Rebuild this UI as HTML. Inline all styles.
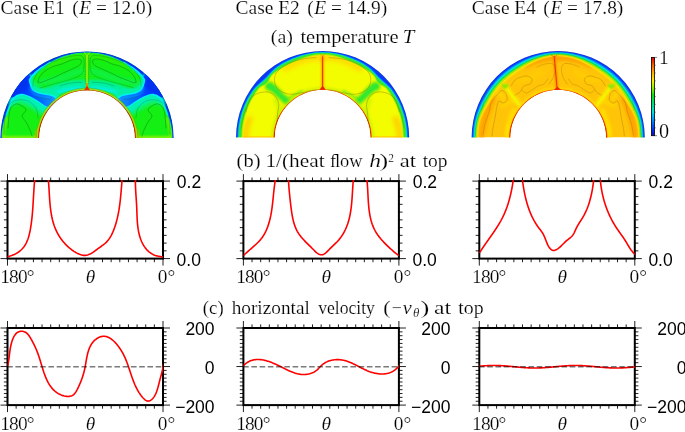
<!DOCTYPE html>
<html><head><meta charset="utf-8"><title>Convection cases</title>
<style>
html,body{margin:0;padding:0;background:#fff;width:685px;height:432px;overflow:hidden;}
svg{display:block;}
text{font-family:"Liberation Serif",serif;fill:#000;stroke:#fff;stroke-width:0.18px;}
text.sans{font-family:"Liberation Sans",sans-serif;stroke:none;}
</style></head>
<body>
<svg width="685" height="432" viewBox="0 0 685 432"><g style="will-change:transform">
<rect width="685" height="432" fill="#fff"/>
<defs><filter id="b05" filterUnits="userSpaceOnUse" x="0" y="0" width="685" height="432"><feGaussianBlur stdDeviation="0.50"/></filter><filter id="b08" filterUnits="userSpaceOnUse" x="0" y="0" width="685" height="432"><feGaussianBlur stdDeviation="0.80"/></filter><filter id="b10" filterUnits="userSpaceOnUse" x="0" y="0" width="685" height="432"><feGaussianBlur stdDeviation="1.00"/></filter><filter id="b12" filterUnits="userSpaceOnUse" x="0" y="0" width="685" height="432"><feGaussianBlur stdDeviation="1.20"/></filter><filter id="b15" filterUnits="userSpaceOnUse" x="0" y="0" width="685" height="432"><feGaussianBlur stdDeviation="1.50"/></filter><filter id="b20" filterUnits="userSpaceOnUse" x="0" y="0" width="685" height="432"><feGaussianBlur stdDeviation="2.00"/></filter></defs><clipPath id="ca0"><path d="M0.40 138.00 A86.60 86.60 0 0 1 173.60 138.00 L134.80 138.00 A47.80 47.80 0 0 0 39.20 138.00 Z"/></clipPath><g clip-path="url(#ca0)"><path d="M0.40 138.00 A86.60 86.60 0 0 1 173.60 138.00 L134.80 138.00 A47.80 47.80 0 0 0 39.20 138.00 Z" fill="#14f014"/><path d="M48.00 92.00 C49.33 91.50 53.33 89.92 56.00 89.00 C58.67 88.08 61.33 87.17 64.00 86.50 C66.67 85.83 69.33 85.33 72.00 85.00 C74.67 84.67 78.00 84.58 80.00 84.50 C82.00 84.42 83.33 84.50 84.00 84.50" fill="none" stroke="#00f0a0" stroke-width="9.00" stroke-linecap="round" stroke-linejoin="round" filter="url(#b15)"/><path d="M126.00 92.00 C124.67 91.50 120.67 89.92 118.00 89.00 C115.33 88.08 112.67 87.17 110.00 86.50 C107.33 85.83 104.67 85.33 102.00 85.00 C99.33 84.67 96.00 84.58 94.00 84.50 C92.00 84.42 90.67 84.50 90.00 84.50" fill="none" stroke="#00f0a0" stroke-width="9.00" stroke-linecap="round" stroke-linejoin="round" filter="url(#b15)"/><path d="M36.00 84.00 C37.33 83.67 41.00 82.67 44.00 82.00 C47.00 81.33 50.67 80.83 54.00 80.00 C57.33 79.17 60.67 78.17 64.00 77.00 C67.33 75.83 71.00 74.00 74.00 73.00 C77.00 72.00 80.67 71.33 82.00 71.00" fill="none" stroke="#08f060" stroke-width="5.00" stroke-linecap="round" stroke-linejoin="round" filter="url(#b20)" opacity="0.80"/><path d="M138.00 84.00 C136.67 83.67 133.00 82.67 130.00 82.00 C127.00 81.33 123.33 80.83 120.00 80.00 C116.67 79.17 113.33 78.17 110.00 77.00 C106.67 75.83 103.00 74.00 100.00 73.00 C97.00 72.00 93.33 71.33 92.00 71.00" fill="none" stroke="#08f060" stroke-width="5.00" stroke-linecap="round" stroke-linejoin="round" filter="url(#b20)" opacity="0.80"/><path d="M52.00 96.50 C53.00 95.83 55.67 93.58 58.00 92.50 C60.33 91.42 63.33 90.62 66.00 90.00 C68.67 89.38 71.33 89.05 74.00 88.80 C76.67 88.55 80.67 88.55 82.00 88.50" fill="none" stroke="#00f0e0" stroke-width="4.00" stroke-linecap="round" stroke-linejoin="round" filter="url(#b10)"/><path d="M122.00 96.50 C121.00 95.83 118.33 93.58 116.00 92.50 C113.67 91.42 110.67 90.62 108.00 90.00 C105.33 89.38 102.67 89.05 100.00 88.80 C97.33 88.55 93.33 88.55 92.00 88.50" fill="none" stroke="#00f0e0" stroke-width="4.00" stroke-linecap="round" stroke-linejoin="round" filter="url(#b10)"/><g filter="url(#b05)"><path d="M-2.60 138.00 L-2.57 135.65 L-2.48 133.31 L-2.32 130.97 L-2.11 128.63 L-1.83 126.30 L-1.50 123.98 L-1.10 121.67 L-0.64 119.37 L-0.12 117.08 L0.45 114.81 L1.09 112.55 L1.79 110.31 L2.54 108.09 L3.35 105.89 L4.22 103.71 L5.15 101.56 L6.13 99.43 L7.17 97.32 L8.26 95.25 L9.40 93.20 L10.60 91.18 L11.86 89.20 L13.16 87.25 L14.51 85.33 L15.92 83.45 L17.37 81.61 L18.87 79.81 L20.41 78.05 L22.01 76.32 L23.64 74.64 L25.32 73.01 L27.05 71.41 L28.81 69.87 L30.61 68.37 L32.45 66.92 L34.33 65.51 L36.25 64.16 L38.20 62.86 L40.18 61.60 L42.20 60.40 L44.25 59.26 L46.32 58.17 L48.43 57.13 L50.56 56.15 L52.71 55.22 L54.89 54.35 L57.09 53.54 L59.31 52.79 L61.55 52.09 L63.81 51.45 L66.08 50.88 L68.37 50.36 L70.67 49.90 L72.98 49.50 L75.30 49.17 L77.63 48.89 L79.97 48.68 L82.31 48.52 L84.65 48.43 L87.00 48.40 L89.35 48.43 L91.69 48.52 L94.03 48.68 L96.37 48.89 L98.70 49.17 L101.02 49.50 L103.33 49.90 L105.63 50.36 L107.92 50.88 L110.19 51.45 L112.45 52.09 L114.69 52.79 L116.91 53.54 L119.11 54.35 L121.29 55.22 L123.44 56.15 L125.57 57.13 L127.68 58.17 L129.75 59.26 L131.80 60.40 L133.82 61.60 L135.80 62.86 L137.75 64.16 L139.67 65.51 L141.55 66.92 L143.39 68.37 L145.19 69.87 L146.95 71.41 L148.68 73.01 L150.36 74.64 L151.99 76.32 L153.59 78.05 L155.13 79.81 L156.63 81.61 L158.08 83.45 L159.49 85.33 L160.84 87.25 L162.14 89.20 L163.40 91.18 L164.60 93.20 L165.74 95.25 L166.83 97.32 L167.87 99.43 L168.85 101.56 L169.78 103.71 L170.65 105.89 L171.46 108.09 L172.21 110.31 L172.91 112.55 L173.55 114.81 L174.12 117.08 L174.64 119.37 L175.10 121.67 L175.50 123.98 L175.83 126.30 L176.11 128.63 L176.32 130.97 L176.48 133.31 L176.57 135.65 L176.60 138.00 L171.80 138.00 L171.77 135.78 L171.68 133.56 L171.54 131.35 L171.28 129.14 L170.93 126.95 L170.47 124.78 L169.93 122.63 L169.31 120.50 L168.62 118.40 L167.88 116.33 L167.08 114.28 L166.24 112.25 L165.37 110.25 L164.48 108.26 L163.57 106.29 L162.65 104.32 L161.72 102.36 L160.75 100.42 L159.73 98.51 L158.64 96.64 L157.49 94.80 L156.28 93.01 L155.00 91.27 L153.65 89.58 L152.24 87.94 L150.77 86.36 L149.26 84.82 L147.72 83.33 L146.16 81.86 L144.60 80.40 L143.03 78.95 L141.48 77.50 L139.92 76.04 L138.36 74.58 L136.78 73.13 L135.16 71.71 L133.51 70.32 L131.83 68.97 L130.11 67.65 L128.36 66.37 L126.56 65.14 L124.72 63.96 L122.85 62.83 L120.95 61.75 L119.01 60.72 L117.04 59.74 L115.04 58.82 L113.01 57.94 L110.95 57.13 L108.87 56.38 L106.76 55.69 L104.63 55.07 L102.47 54.53 L100.30 54.06 L98.10 53.67 L95.89 53.37 L93.68 53.16 L91.45 53.02 L89.23 52.93 L87.00 52.90 L84.77 52.93 L82.55 53.02 L80.32 53.16 L78.11 53.37 L75.90 53.67 L73.70 54.06 L71.53 54.53 L69.37 55.07 L67.24 55.69 L65.13 56.38 L63.05 57.13 L60.99 57.94 L58.96 58.82 L56.96 59.74 L54.99 60.72 L53.05 61.75 L51.15 62.83 L49.28 63.96 L47.44 65.14 L45.64 66.37 L43.89 67.65 L42.17 68.97 L40.49 70.32 L38.84 71.71 L37.22 73.13 L35.64 74.58 L34.08 76.04 L32.52 77.50 L30.97 78.95 L29.40 80.40 L27.84 81.86 L26.28 83.33 L24.74 84.82 L23.23 86.36 L21.76 87.94 L20.35 89.58 L19.00 91.27 L17.72 93.01 L16.51 94.80 L15.36 96.64 L14.27 98.51 L13.25 100.42 L12.28 102.36 L11.35 104.32 L10.43 106.29 L9.52 108.26 L8.63 110.25 L7.76 112.25 L6.92 114.28 L6.12 116.33 L5.38 118.40 L4.69 120.50 L4.07 122.63 L3.53 124.78 L3.07 126.95 L2.72 129.14 L2.46 131.35 L2.32 133.56 L2.23 135.78 L2.20 138.00 Z" fill="#10f0a0"/><path d="M-2.60 138.00 L-2.57 135.65 L-2.48 133.31 L-2.32 130.97 L-2.11 128.63 L-1.83 126.30 L-1.50 123.98 L-1.10 121.67 L-0.64 119.37 L-0.12 117.08 L0.45 114.81 L1.09 112.55 L1.79 110.31 L2.54 108.09 L3.35 105.89 L4.22 103.71 L5.15 101.56 L6.13 99.43 L7.17 97.32 L8.26 95.25 L9.40 93.20 L10.60 91.18 L11.86 89.20 L13.16 87.25 L14.51 85.33 L15.92 83.45 L17.37 81.61 L18.87 79.81 L20.41 78.05 L22.01 76.32 L23.64 74.64 L25.32 73.01 L27.05 71.41 L28.81 69.87 L30.61 68.37 L32.45 66.92 L34.33 65.51 L36.25 64.16 L38.20 62.86 L40.18 61.60 L42.20 60.40 L44.25 59.26 L46.32 58.17 L48.43 57.13 L50.56 56.15 L52.71 55.22 L54.89 54.35 L57.09 53.54 L59.31 52.79 L61.55 52.09 L63.81 51.45 L66.08 50.88 L68.37 50.36 L70.67 49.90 L72.98 49.50 L75.30 49.17 L77.63 48.89 L79.97 48.68 L82.31 48.52 L84.65 48.43 L87.00 48.40 L89.35 48.43 L91.69 48.52 L94.03 48.68 L96.37 48.89 L98.70 49.17 L101.02 49.50 L103.33 49.90 L105.63 50.36 L107.92 50.88 L110.19 51.45 L112.45 52.09 L114.69 52.79 L116.91 53.54 L119.11 54.35 L121.29 55.22 L123.44 56.15 L125.57 57.13 L127.68 58.17 L129.75 59.26 L131.80 60.40 L133.82 61.60 L135.80 62.86 L137.75 64.16 L139.67 65.51 L141.55 66.92 L143.39 68.37 L145.19 69.87 L146.95 71.41 L148.68 73.01 L150.36 74.64 L151.99 76.32 L153.59 78.05 L155.13 79.81 L156.63 81.61 L158.08 83.45 L159.49 85.33 L160.84 87.25 L162.14 89.20 L163.40 91.18 L164.60 93.20 L165.74 95.25 L166.83 97.32 L167.87 99.43 L168.85 101.56 L169.78 103.71 L170.65 105.89 L171.46 108.09 L172.21 110.31 L172.91 112.55 L173.55 114.81 L174.12 117.08 L174.64 119.37 L175.10 121.67 L175.50 123.98 L175.83 126.30 L176.11 128.63 L176.32 130.97 L176.48 133.31 L176.57 135.65 L176.60 138.00 L171.98 138.00 L171.95 135.78 L171.86 133.55 L171.72 131.33 L171.47 129.12 L171.12 126.93 L170.68 124.75 L170.15 122.59 L169.55 120.45 L168.88 118.34 L168.15 116.26 L167.37 114.19 L166.55 112.15 L165.70 110.13 L164.81 108.13 L163.91 106.14 L162.99 104.17 L162.07 102.20 L161.09 100.25 L160.06 98.33 L158.98 96.45 L157.83 94.60 L156.61 92.79 L155.33 91.04 L153.99 89.33 L152.59 87.67 L151.13 86.07 L149.62 84.52 L148.09 83.00 L146.53 81.51 L144.96 80.04 L143.39 78.58 L141.82 77.11 L140.25 75.65 L138.67 74.19 L137.07 72.75 L135.44 71.33 L133.77 69.95 L132.06 68.61 L130.33 67.30 L128.55 66.03 L126.74 64.82 L124.88 63.65 L123.00 62.53 L121.08 61.47 L119.12 60.45 L117.14 59.48 L115.13 58.57 L113.09 57.71 L111.02 56.91 L108.93 56.17 L106.81 55.50 L104.67 54.89 L102.50 54.36 L100.32 53.90 L98.12 53.52 L95.91 53.22 L93.69 53.01 L91.46 52.87 L89.23 52.78 L87.00 52.75 L84.77 52.78 L82.54 52.87 L80.31 53.01 L78.09 53.22 L75.88 53.52 L73.68 53.90 L71.50 54.36 L69.33 54.89 L67.19 55.50 L65.07 56.17 L62.98 56.91 L60.91 57.71 L58.87 58.57 L56.86 59.48 L54.88 60.45 L52.92 61.47 L51.00 62.53 L49.12 63.65 L47.26 64.82 L45.45 66.03 L43.67 67.30 L41.94 68.61 L40.23 69.95 L38.56 71.33 L36.93 72.75 L35.33 74.19 L33.75 75.65 L32.18 77.11 L30.61 78.58 L29.04 80.04 L27.47 81.51 L25.91 83.00 L24.38 84.52 L22.87 86.07 L21.41 87.67 L20.01 89.33 L18.67 91.04 L17.39 92.79 L16.17 94.60 L15.02 96.45 L13.94 98.33 L12.91 100.25 L11.93 102.20 L11.01 104.17 L10.09 106.14 L9.19 108.13 L8.30 110.13 L7.45 112.15 L6.63 114.19 L5.85 116.26 L5.12 118.34 L4.45 120.45 L3.85 122.59 L3.32 124.75 L2.88 126.93 L2.53 129.12 L2.28 131.33 L2.14 133.55 L2.05 135.78 L2.02 138.00 Z" fill="#00e0f0"/><path d="M-2.60 138.00 L-2.57 135.65 L-2.48 133.31 L-2.32 130.97 L-2.11 128.63 L-1.83 126.30 L-1.50 123.98 L-1.10 121.67 L-0.64 119.37 L-0.12 117.08 L0.45 114.81 L1.09 112.55 L1.79 110.31 L2.54 108.09 L3.35 105.89 L4.22 103.71 L5.15 101.56 L6.13 99.43 L7.17 97.32 L8.26 95.25 L9.40 93.20 L10.60 91.18 L11.86 89.20 L13.16 87.25 L14.51 85.33 L15.92 83.45 L17.37 81.61 L18.87 79.81 L20.41 78.05 L22.01 76.32 L23.64 74.64 L25.32 73.01 L27.05 71.41 L28.81 69.87 L30.61 68.37 L32.45 66.92 L34.33 65.51 L36.25 64.16 L38.20 62.86 L40.18 61.60 L42.20 60.40 L44.25 59.26 L46.32 58.17 L48.43 57.13 L50.56 56.15 L52.71 55.22 L54.89 54.35 L57.09 53.54 L59.31 52.79 L61.55 52.09 L63.81 51.45 L66.08 50.88 L68.37 50.36 L70.67 49.90 L72.98 49.50 L75.30 49.17 L77.63 48.89 L79.97 48.68 L82.31 48.52 L84.65 48.43 L87.00 48.40 L89.35 48.43 L91.69 48.52 L94.03 48.68 L96.37 48.89 L98.70 49.17 L101.02 49.50 L103.33 49.90 L105.63 50.36 L107.92 50.88 L110.19 51.45 L112.45 52.09 L114.69 52.79 L116.91 53.54 L119.11 54.35 L121.29 55.22 L123.44 56.15 L125.57 57.13 L127.68 58.17 L129.75 59.26 L131.80 60.40 L133.82 61.60 L135.80 62.86 L137.75 64.16 L139.67 65.51 L141.55 66.92 L143.39 68.37 L145.19 69.87 L146.95 71.41 L148.68 73.01 L150.36 74.64 L151.99 76.32 L153.59 78.05 L155.13 79.81 L156.63 81.61 L158.08 83.45 L159.49 85.33 L160.84 87.25 L162.14 89.20 L163.40 91.18 L164.60 93.20 L165.74 95.25 L166.83 97.32 L167.87 99.43 L168.85 101.56 L169.78 103.71 L170.65 105.89 L171.46 108.09 L172.21 110.31 L172.91 112.55 L173.55 114.81 L174.12 117.08 L174.64 119.37 L175.10 121.67 L175.50 123.98 L175.83 126.30 L176.11 128.63 L176.32 130.97 L176.48 133.31 L176.57 135.65 L176.60 138.00 L172.25 138.00 L172.22 135.77 L172.13 133.54 L171.98 131.31 L171.74 129.09 L171.41 126.89 L170.99 124.70 L170.49 122.53 L169.91 120.38 L169.27 118.25 L168.57 116.14 L167.82 114.06 L167.02 112.00 L166.19 109.96 L165.32 107.94 L164.43 105.93 L163.51 103.93 L162.58 101.95 L161.60 99.99 L160.57 98.05 L159.48 96.15 L158.33 94.29 L157.11 92.47 L155.84 90.69 L154.50 88.96 L153.11 87.28 L151.66 85.64 L150.16 84.06 L148.63 82.51 L147.08 80.99 L145.51 79.49 L143.93 78.01 L142.34 76.53 L140.75 75.07 L139.14 73.61 L137.51 72.17 L135.85 70.77 L134.15 69.40 L132.42 68.07 L130.65 66.77 L128.84 65.53 L127.00 64.33 L125.12 63.18 L123.21 62.08 L121.27 61.04 L119.29 60.04 L117.29 59.10 L115.26 58.20 L113.20 57.37 L111.12 56.59 L109.01 55.87 L106.88 55.21 L104.72 54.63 L102.55 54.11 L100.36 53.66 L98.15 53.29 L95.93 53.00 L93.71 52.79 L91.47 52.64 L89.24 52.55 L87.00 52.53 L84.76 52.55 L82.53 52.64 L80.29 52.79 L78.07 53.00 L75.85 53.29 L73.64 53.66 L71.45 54.11 L69.28 54.63 L67.12 55.21 L64.99 55.87 L62.88 56.59 L60.80 57.37 L58.74 58.20 L56.71 59.10 L54.71 60.04 L52.73 61.04 L50.79 62.08 L48.88 63.18 L47.00 64.33 L45.16 65.53 L43.35 66.77 L41.58 68.07 L39.85 69.40 L38.15 70.77 L36.49 72.17 L34.86 73.61 L33.25 75.07 L31.66 76.53 L30.07 78.01 L28.49 79.49 L26.92 80.99 L25.37 82.51 L23.84 84.06 L22.34 85.64 L20.89 87.28 L19.50 88.96 L18.16 90.69 L16.89 92.47 L15.67 94.29 L14.52 96.15 L13.43 98.05 L12.40 99.99 L11.42 101.95 L10.49 103.93 L9.57 105.93 L8.68 107.94 L7.81 109.96 L6.98 112.00 L6.18 114.06 L5.43 116.14 L4.73 118.25 L4.09 120.38 L3.51 122.53 L3.01 124.70 L2.59 126.89 L2.26 129.09 L2.02 131.31 L1.87 133.54 L1.78 135.77 L1.75 138.00 Z" fill="#0068ff"/><path d="M-2.60 138.00 L-2.57 135.65 L-2.48 133.31 L-2.32 130.97 L-2.11 128.63 L-1.83 126.30 L-1.50 123.98 L-1.10 121.67 L-0.64 119.37 L-0.12 117.08 L0.45 114.81 L1.09 112.55 L1.79 110.31 L2.54 108.09 L3.35 105.89 L4.22 103.71 L5.15 101.56 L6.13 99.43 L7.17 97.32 L8.26 95.25 L9.40 93.20 L10.60 91.18 L11.86 89.20 L13.16 87.25 L14.51 85.33 L15.92 83.45 L17.37 81.61 L18.87 79.81 L20.41 78.05 L22.01 76.32 L23.64 74.64 L25.32 73.01 L27.05 71.41 L28.81 69.87 L30.61 68.37 L32.45 66.92 L34.33 65.51 L36.25 64.16 L38.20 62.86 L40.18 61.60 L42.20 60.40 L44.25 59.26 L46.32 58.17 L48.43 57.13 L50.56 56.15 L52.71 55.22 L54.89 54.35 L57.09 53.54 L59.31 52.79 L61.55 52.09 L63.81 51.45 L66.08 50.88 L68.37 50.36 L70.67 49.90 L72.98 49.50 L75.30 49.17 L77.63 48.89 L79.97 48.68 L82.31 48.52 L84.65 48.43 L87.00 48.40 L89.35 48.43 L91.69 48.52 L94.03 48.68 L96.37 48.89 L98.70 49.17 L101.02 49.50 L103.33 49.90 L105.63 50.36 L107.92 50.88 L110.19 51.45 L112.45 52.09 L114.69 52.79 L116.91 53.54 L119.11 54.35 L121.29 55.22 L123.44 56.15 L125.57 57.13 L127.68 58.17 L129.75 59.26 L131.80 60.40 L133.82 61.60 L135.80 62.86 L137.75 64.16 L139.67 65.51 L141.55 66.92 L143.39 68.37 L145.19 69.87 L146.95 71.41 L148.68 73.01 L150.36 74.64 L151.99 76.32 L153.59 78.05 L155.13 79.81 L156.63 81.61 L158.08 83.45 L159.49 85.33 L160.84 87.25 L162.14 89.20 L163.40 91.18 L164.60 93.20 L165.74 95.25 L166.83 97.32 L167.87 99.43 L168.85 101.56 L169.78 103.71 L170.65 105.89 L171.46 108.09 L172.21 110.31 L172.91 112.55 L173.55 114.81 L174.12 117.08 L174.64 119.37 L175.10 121.67 L175.50 123.98 L175.83 126.30 L176.11 128.63 L176.32 130.97 L176.48 133.31 L176.57 135.65 L176.60 138.00 L172.48 138.00 L172.45 135.76 L172.37 133.53 L172.22 131.29 L171.98 129.07 L171.66 126.85 L171.26 124.66 L170.77 122.47 L170.22 120.31 L169.61 118.17 L168.93 116.05 L168.20 113.95 L167.43 111.87 L166.61 109.81 L165.76 107.77 L164.87 105.74 L163.96 103.73 L163.03 101.74 L162.05 99.76 L161.01 97.82 L159.92 95.90 L158.76 94.02 L157.55 92.18 L156.28 90.39 L154.95 88.63 L153.56 86.93 L152.11 85.27 L150.63 83.66 L149.10 82.08 L147.55 80.54 L145.98 79.02 L144.39 77.52 L142.80 76.03 L141.18 74.56 L139.55 73.10 L137.89 71.67 L136.20 70.28 L134.48 68.92 L132.72 67.60 L130.92 66.32 L129.09 65.09 L127.23 63.91 L125.33 62.77 L123.40 61.69 L121.43 60.66 L119.44 59.69 L117.42 58.76 L115.37 57.89 L113.30 57.07 L111.20 56.31 L109.08 55.61 L106.93 54.97 L104.77 54.39 L102.59 53.89 L100.39 53.45 L98.18 53.09 L95.95 52.80 L93.72 52.59 L91.48 52.45 L89.24 52.36 L87.00 52.33 L84.76 52.36 L82.52 52.45 L80.28 52.59 L78.05 52.80 L75.82 53.09 L73.61 53.45 L71.41 53.89 L69.23 54.39 L67.07 54.97 L64.92 55.61 L62.80 56.31 L60.70 57.07 L58.63 57.89 L56.58 58.76 L54.56 59.69 L52.57 60.66 L50.60 61.69 L48.67 62.77 L46.77 63.91 L44.91 65.09 L43.08 66.32 L41.28 67.60 L39.52 68.92 L37.80 70.28 L36.11 71.67 L34.45 73.10 L32.82 74.56 L31.20 76.03 L29.61 77.52 L28.02 79.02 L26.45 80.54 L24.90 82.08 L23.37 83.66 L21.89 85.27 L20.44 86.93 L19.05 88.63 L17.72 90.39 L16.45 92.18 L15.24 94.02 L14.08 95.90 L12.99 97.82 L11.95 99.76 L10.97 101.74 L10.04 103.73 L9.13 105.74 L8.24 107.77 L7.39 109.81 L6.57 111.87 L5.80 113.95 L5.07 116.05 L4.39 118.17 L3.78 120.31 L3.23 122.47 L2.74 124.66 L2.34 126.85 L2.02 129.07 L1.78 131.29 L1.63 133.53 L1.55 135.76 L1.52 138.00 Z" fill="#0030f0"/></g><path d="M29.60 77.50 C29.77 78.30 30.10 80.73 30.60 82.30 C31.10 83.87 31.53 85.67 32.60 86.90 C33.67 88.13 35.27 88.98 37.00 89.70 C38.73 90.42 41.00 90.78 43.00 91.20 C45.00 91.62 47.17 91.78 49.00 92.20 C50.83 92.62 52.58 92.90 54.00 93.70 C55.42 94.50 56.92 96.45 57.50 97.00" fill="none" stroke="#00f0a8" stroke-width="6.00" stroke-linecap="round" stroke-linejoin="round" filter="url(#b12)"/><path d="M144.40 77.50 C144.23 78.30 143.90 80.73 143.40 82.30 C142.90 83.87 142.47 85.67 141.40 86.90 C140.33 88.13 138.73 88.98 137.00 89.70 C135.27 90.42 133.00 90.78 131.00 91.20 C129.00 91.62 126.83 91.78 125.00 92.20 C123.17 92.62 121.42 92.90 120.00 93.70 C118.58 94.50 117.08 96.45 116.50 97.00" fill="none" stroke="#00f0a8" stroke-width="6.00" stroke-linecap="round" stroke-linejoin="round" filter="url(#b12)"/><path d="M11.64 104.12 C12.79 103.61 16.36 101.37 18.50 101.10 C20.64 100.83 22.50 101.80 24.50 102.50 C26.50 103.20 28.50 104.23 30.50 105.30 C32.50 106.37 34.50 107.63 36.50 108.90 C38.50 110.17 40.58 111.93 42.50 112.90 C44.42 113.87 47.08 114.40 48.00 114.70" fill="none" stroke="#10f070" stroke-width="6.00" stroke-linecap="round" stroke-linejoin="round" filter="url(#b15)" opacity="0.90"/><path d="M162.36 104.12 C161.21 103.61 157.64 101.37 155.50 101.10 C153.36 100.83 151.50 101.80 149.50 102.50 C147.50 103.20 145.50 104.23 143.50 105.30 C141.50 106.37 139.50 107.63 137.50 108.90 C135.50 110.17 133.42 111.93 131.50 112.90 C129.58 113.87 126.92 114.40 126.00 114.70" fill="none" stroke="#10f070" stroke-width="6.00" stroke-linecap="round" stroke-linejoin="round" filter="url(#b15)" opacity="0.90"/><path d="M12.64 100.42 C13.79 99.91 17.36 97.67 19.50 97.40 C21.64 97.13 23.50 98.10 25.50 98.80 C27.50 99.50 29.50 100.53 31.50 101.60 C33.50 102.67 35.50 103.93 37.50 105.20 C39.50 106.47 41.58 108.23 43.50 109.20 C45.42 110.17 48.08 110.70 49.00 111.00" fill="none" stroke="#00f0b8" stroke-width="6.00" stroke-linecap="round" stroke-linejoin="round" filter="url(#b12)"/><path d="M161.36 100.42 C160.21 99.91 156.64 97.67 154.50 97.40 C152.36 97.13 150.50 98.10 148.50 98.80 C146.50 99.50 144.50 100.53 142.50 101.60 C140.50 102.67 138.50 103.93 136.50 105.20 C134.50 106.47 132.42 108.23 130.50 109.20 C128.58 110.17 125.92 110.70 125.00 111.00" fill="none" stroke="#00f0b8" stroke-width="6.00" stroke-linecap="round" stroke-linejoin="round" filter="url(#b12)"/><linearGradient id="g1bL" gradientUnits="userSpaceOnUse" x1="12.00" y1="0" x2="56.00" y2="0"><stop offset="0.000" stop-color="#0030f0"/><stop offset="0.350" stop-color="#0040ff"/><stop offset="0.650" stop-color="#0068ff"/><stop offset="1.000" stop-color="#1898ff"/></linearGradient><linearGradient id="g1bR" gradientUnits="userSpaceOnUse" x1="162.00" y1="0" x2="118.00" y2="0"><stop offset="0.000" stop-color="#0030f0"/><stop offset="0.350" stop-color="#0040ff"/><stop offset="0.650" stop-color="#0068ff"/><stop offset="1.000" stop-color="#1898ff"/></linearGradient><path d="M26.25 68.11 L30.94 77.88 L29.60 80.00 L30.60 84.80 L32.60 89.40 L37.00 92.20 L43.00 93.70 L49.00 94.70 L54.00 96.20 L57.50 99.50 L56.00 104.00 L50.50 108.20 L45.00 106.40 L39.00 102.40 L33.00 98.80 L27.00 96.00 L21.00 94.60 L14.14 97.62 L4.49 95.96 Z" fill="url(#g1bL)" filter="url(#b05)"/><path d="M147.75 68.11 L143.06 77.88 L144.40 80.00 L143.40 84.80 L141.40 89.40 L137.00 92.20 L131.00 93.70 L125.00 94.70 L120.00 96.20 L116.50 99.50 L118.00 104.00 L123.50 108.20 L129.00 106.40 L135.00 102.40 L141.00 98.80 L147.00 96.00 L153.00 94.60 L159.86 97.62 L169.51 95.96 Z" fill="url(#g1bR)" filter="url(#b05)"/><path d="M10.00 88.00 L20.00 78.00 L27.00 76.00 L29.00 84.00 L26.00 90.00 L18.00 92.00 Z" fill="#0030f0" filter="url(#b12)"/><path d="M164.00 88.00 L154.00 78.00 L147.00 76.00 L145.00 84.00 L148.00 90.00 L156.00 92.00 Z" fill="#0030f0" filter="url(#b12)"/><path d="M50.18 62.50 C48.51 63.52 42.97 66.65 40.20 68.61 C37.42 70.57 35.06 72.72 33.52 74.27 C31.98 75.81 31.59 76.93 30.94 77.88 C30.29 78.84 29.66 78.85 29.60 80.00 C29.54 81.15 30.10 83.23 30.60 84.80 C31.10 86.37 31.53 88.17 32.60 89.40 C33.67 90.63 35.27 91.48 37.00 92.20 C38.73 92.92 41.00 93.28 43.00 93.70 C45.00 94.12 47.17 94.28 49.00 94.70 C50.83 95.12 52.58 95.40 54.00 96.20 C55.42 97.00 56.92 98.95 57.50 99.50" fill="none" stroke="#00f0f0" stroke-width="1.60" stroke-linecap="round" stroke-linejoin="round" filter="url(#b05)"/><path d="M123.82 62.50 C125.49 63.52 131.03 66.65 133.80 68.61 C136.58 70.57 138.94 72.72 140.48 74.27 C142.02 75.81 142.41 76.93 143.06 77.88 C143.71 78.84 144.34 78.85 144.40 80.00 C144.46 81.15 143.90 83.23 143.40 84.80 C142.90 86.37 142.47 88.17 141.40 89.40 C140.33 90.63 138.73 91.48 137.00 92.20 C135.27 92.92 133.00 93.28 131.00 93.70 C129.00 94.12 126.83 94.28 125.00 94.70 C123.17 95.12 121.42 95.40 120.00 96.20 C118.58 97.00 117.08 98.95 116.50 99.50" fill="none" stroke="#00f0f0" stroke-width="1.60" stroke-linecap="round" stroke-linejoin="round" filter="url(#b05)"/><path d="M6.25 114.85 C6.95 113.02 9.13 106.79 10.44 103.92 C11.76 101.04 12.38 99.17 14.14 97.62 C15.90 96.06 18.86 94.87 21.00 94.60 C23.14 94.33 25.00 95.30 27.00 96.00 C29.00 96.70 31.00 97.73 33.00 98.80 C35.00 99.87 37.00 101.13 39.00 102.40 C41.00 103.67 43.08 105.43 45.00 106.40 C46.92 107.37 49.58 107.90 50.50 108.20" fill="none" stroke="#00f0f0" stroke-width="1.60" stroke-linecap="round" stroke-linejoin="round" filter="url(#b05)"/><path d="M167.75 114.85 C167.05 113.02 164.87 106.79 163.56 103.92 C162.24 101.04 161.62 99.17 159.86 97.62 C158.10 96.06 155.14 94.87 153.00 94.60 C150.86 94.33 149.00 95.30 147.00 96.00 C145.00 96.70 143.00 97.73 141.00 98.80 C139.00 99.87 137.00 101.13 135.00 102.40 C133.00 103.67 130.92 105.43 129.00 106.40 C127.08 107.37 124.42 107.90 123.50 108.20" fill="none" stroke="#00f0f0" stroke-width="1.60" stroke-linecap="round" stroke-linejoin="round" filter="url(#b05)"/><path d="M30.80 87.80 C31.13 88.57 31.73 91.17 32.80 92.40 C33.87 93.63 35.47 94.48 37.20 95.20 C38.93 95.92 41.20 96.28 43.20 96.70 C45.20 97.12 48.20 97.53 49.20 97.70" fill="none" stroke="#00b0ff" stroke-width="1.60" stroke-linecap="round" stroke-linejoin="round" filter="url(#b08)" opacity="0.70"/><path d="M143.20 87.80 C142.87 88.57 142.27 91.17 141.20 92.40 C140.13 93.63 138.53 94.48 136.80 95.20 C135.07 95.92 132.80 96.28 130.80 96.70 C128.80 97.12 125.80 97.53 124.80 97.70" fill="none" stroke="#00b0ff" stroke-width="1.60" stroke-linecap="round" stroke-linejoin="round" filter="url(#b08)" opacity="0.70"/><path d="M3.40 137.56 C3.47 136.67 3.53 134.27 3.80 132.18 C4.07 130.09 4.50 127.37 5.02 125.02 C5.55 122.66 6.63 119.20 6.95 118.04" fill="none" stroke="#80f000" stroke-width="2.20" stroke-linecap="round" stroke-linejoin="round" filter="url(#b10)" opacity="0.90"/><path d="M170.60 137.56 C170.53 136.67 170.47 134.27 170.20 132.18 C169.93 130.09 169.50 127.37 168.98 125.02 C168.45 122.66 167.37 119.20 167.05 118.04" fill="none" stroke="#80f000" stroke-width="2.20" stroke-linecap="round" stroke-linejoin="round" filter="url(#b10)" opacity="0.90"/><path d="M3.00 137.40H37.00" stroke="#c8f000" stroke-width="1.6" filter="url(#b08)"/><path d="M137.00 137.40H171.00" stroke="#c8f000" stroke-width="1.6" filter="url(#b08)"/><path d="M36.50 137.74 C36.52 137.19 36.49 135.74 36.62 134.48 C36.76 133.21 37.20 130.86 37.32 130.13" fill="none" stroke="#ffa000" stroke-width="2.50" stroke-linecap="round" stroke-linejoin="round" filter="url(#b10)" opacity="0.90"/><path d="M137.50 137.74 C137.48 137.19 137.51 135.74 137.38 134.48 C137.24 133.21 136.80 130.86 136.68 130.13" fill="none" stroke="#ffa000" stroke-width="2.50" stroke-linecap="round" stroke-linejoin="round" filter="url(#b10)" opacity="0.90"/><path d="M37.00 139.00 A50.00 50.00 0 0 1 137.00 139.00" fill="none" stroke="#a0f000" stroke-width="2.00" opacity="0.80" filter="url(#b05)"/><path d="M37.90 139.00 A49.10 49.10 0 0 1 136.10 139.00" fill="none" stroke="#f0a000" stroke-width="1.00"/><path d="M38.70 139.00 A48.30 48.30 0 0 1 135.30 139.00" fill="none" stroke="#c82000" stroke-width="1.20"/><path d="M36.00 139.00 A51.00 51.00 0 0 1 138.00 139.00" fill="none" stroke="#206010" stroke-width="0.50" opacity="0.50"/><path d="M48.74 66.04 C50.89 65.04 57.19 61.60 61.66 60.01 C66.13 58.42 71.32 57.22 75.55 56.50 C79.77 55.78 85.09 55.83 87.00 55.70" fill="none" stroke="#38f000" stroke-width="4.00" stroke-linecap="round" stroke-linejoin="round" filter="url(#b15)" opacity="0.80"/><path d="M125.26 66.04 C123.11 65.04 116.81 61.60 112.34 60.01 C107.87 58.42 102.68 57.22 98.45 56.50 C94.23 55.78 88.91 55.83 87.00 55.70" fill="none" stroke="#38f000" stroke-width="4.00" stroke-linecap="round" stroke-linejoin="round" filter="url(#b15)" opacity="0.80"/><path d="M87.00 88.20V53.90" stroke="#70f000" stroke-width="1.8" filter="url(#b08)"/><path d="M87.00 84.20V55.40" stroke="#d8f000" stroke-width="0.8" filter="url(#b05)"/><path d="M84.50 52.40L87.00 56.40L89.50 52.40" stroke="#a0f000" stroke-width="0.8" fill="none"/><path d="M87.00 90.20V83.20" stroke="#ff8000" stroke-width="1.6" filter="url(#b05)"/><path d="M83.80 90.70 L87.00 85.70 L90.20 90.70 Z" fill="#f02000" filter="url(#b05)"/><path d="M85.30 84.20V54.40 M88.70 84.20V54.40" stroke="#205a10" stroke-width="0.6" stroke-dasharray="1.5 0.8" opacity="0.6"/><path d="M38.00 82.00 C38.25 81.17 38.33 78.83 39.50 77.00 C40.67 75.17 42.75 72.75 45.00 71.00 C47.25 69.25 50.17 67.67 53.00 66.50 C55.83 65.33 59.17 65.00 62.00 64.00 C64.83 63.00 67.33 61.33 70.00 60.50 C72.67 59.67 76.08 58.92 78.00 59.00 C79.92 59.08 81.33 59.92 81.50 61.00 C81.67 62.08 80.75 64.08 79.00 65.50 C77.25 66.92 73.83 68.17 71.00 69.50 C68.17 70.83 64.83 72.17 62.00 73.50 C59.17 74.83 56.67 76.33 54.00 77.50 C51.33 78.67 48.33 79.62 46.00 80.50 C43.67 81.38 41.33 82.55 40.00 82.80 C38.67 83.05 38.33 82.13 38.00 82.00" fill="none" stroke="#0a5a0a" stroke-width="0.60" stroke-linecap="round" stroke-linejoin="round" opacity="0.60"/><path d="M136.00 82.00 C135.75 81.17 135.67 78.83 134.50 77.00 C133.33 75.17 131.25 72.75 129.00 71.00 C126.75 69.25 123.83 67.67 121.00 66.50 C118.17 65.33 114.83 65.00 112.00 64.00 C109.17 63.00 106.67 61.33 104.00 60.50 C101.33 59.67 97.92 58.92 96.00 59.00 C94.08 59.08 92.67 59.92 92.50 61.00 C92.33 62.08 93.25 64.08 95.00 65.50 C96.75 66.92 100.17 68.17 103.00 69.50 C105.83 70.83 109.17 72.17 112.00 73.50 C114.83 74.83 117.33 76.33 120.00 77.50 C122.67 78.67 125.67 79.62 128.00 80.50 C130.33 81.38 132.67 82.55 134.00 82.80 C135.33 83.05 135.67 82.13 136.00 82.00" fill="none" stroke="#0a5a0a" stroke-width="0.60" stroke-linecap="round" stroke-linejoin="round" opacity="0.60"/><path d="M33.00 86.00 C33.17 84.83 32.67 81.83 34.00 79.00 C35.33 76.17 37.83 71.83 41.00 69.00 C44.17 66.17 48.83 63.92 53.00 62.00 C57.17 60.08 61.83 58.58 66.00 57.50 C70.17 56.42 75.08 55.42 78.00 55.50 C80.92 55.58 82.58 55.58 83.50 58.00 C84.42 60.42 84.25 67.00 83.50 70.00 C82.75 73.00 81.75 74.25 79.00 76.00 C76.25 77.75 71.50 79.08 67.00 80.50 C62.50 81.92 56.50 83.25 52.00 84.50 C47.50 85.75 42.00 87.42 40.00 88.00" fill="none" stroke="#0a5a0a" stroke-width="0.50" stroke-linecap="round" stroke-linejoin="round" opacity="0.45"/><path d="M141.00 86.00 C140.83 84.83 141.33 81.83 140.00 79.00 C138.67 76.17 136.17 71.83 133.00 69.00 C129.83 66.17 125.17 63.92 121.00 62.00 C116.83 60.08 112.17 58.58 108.00 57.50 C103.83 56.42 98.92 55.42 96.00 55.50 C93.08 55.58 91.42 55.58 90.50 58.00 C89.58 60.42 89.75 67.00 90.50 70.00 C91.25 73.00 92.25 74.25 95.00 76.00 C97.75 77.75 102.50 79.08 107.00 80.50 C111.50 81.92 117.50 83.25 122.00 84.50 C126.50 85.75 132.00 87.42 134.00 88.00" fill="none" stroke="#0a5a0a" stroke-width="0.50" stroke-linecap="round" stroke-linejoin="round" opacity="0.45"/><path d="M8.00 128.00 C8.33 125.00 8.67 114.00 10.00 110.00 C11.33 106.00 14.00 104.67 16.00 104.00 C18.00 103.33 20.33 105.00 22.00 106.00 C23.67 107.00 26.00 108.33 26.00 110.00 C26.00 111.67 22.00 114.00 22.00 116.00 C22.00 118.00 24.67 119.67 26.00 122.00 C27.33 124.33 29.00 127.67 30.00 130.00 C31.00 132.33 31.67 135.00 32.00 136.00" fill="none" stroke="#0a5a0a" stroke-width="0.60" stroke-linecap="round" stroke-linejoin="round" opacity="0.60"/><path d="M166.00 128.00 C165.67 125.00 165.33 114.00 164.00 110.00 C162.67 106.00 160.00 104.67 158.00 104.00 C156.00 103.33 153.67 105.00 152.00 106.00 C150.33 107.00 148.00 108.33 148.00 110.00 C148.00 111.67 152.00 114.00 152.00 116.00 C152.00 118.00 149.33 119.67 148.00 122.00 C146.67 124.33 145.00 127.67 144.00 130.00 C143.00 132.33 142.33 135.00 142.00 136.00" fill="none" stroke="#0a5a0a" stroke-width="0.60" stroke-linecap="round" stroke-linejoin="round" opacity="0.60"/><path d="M4.00 134.00 C4.17 131.33 4.00 123.00 5.00 118.00 C6.00 113.00 7.83 107.00 10.00 104.00 C12.17 101.00 15.00 100.50 18.00 100.00 C21.00 99.50 25.00 99.67 28.00 101.00 C31.00 102.33 34.33 105.17 36.00 108.00 C37.67 110.83 37.67 116.33 38.00 118.00" fill="none" stroke="#0a5a0a" stroke-width="0.50" stroke-linecap="round" stroke-linejoin="round" opacity="0.45"/><path d="M170.00 134.00 C169.83 131.33 170.00 123.00 169.00 118.00 C168.00 113.00 166.17 107.00 164.00 104.00 C161.83 101.00 159.00 100.50 156.00 100.00 C153.00 99.50 149.00 99.67 146.00 101.00 C143.00 102.33 139.67 105.17 138.00 108.00 C136.33 110.83 136.33 116.33 136.00 118.00" fill="none" stroke="#0a5a0a" stroke-width="0.50" stroke-linecap="round" stroke-linejoin="round" opacity="0.45"/><path d="M36.00 96.50 C37.33 96.83 41.67 98.00 44.00 98.50 C46.33 99.00 49.00 99.33 50.00 99.50" fill="none" stroke="#0a5a0a" stroke-width="0.50" stroke-linecap="round" stroke-linejoin="round" opacity="0.50"/><path d="M138.00 96.50 C136.67 96.83 132.33 98.00 130.00 98.50 C127.67 99.00 125.00 99.33 124.00 99.50" fill="none" stroke="#0a5a0a" stroke-width="0.50" stroke-linecap="round" stroke-linejoin="round" opacity="0.50"/><path d="M60.00 86.00 C61.33 85.58 65.33 84.08 68.00 83.50 C70.67 82.92 73.67 82.67 76.00 82.50 C78.33 82.33 81.00 82.50 82.00 82.50" fill="none" stroke="#0a5a0a" stroke-width="0.50" stroke-linecap="round" stroke-linejoin="round" opacity="0.50"/><path d="M114.00 86.00 C112.67 85.58 108.67 84.08 106.00 83.50 C103.33 82.92 100.33 82.67 98.00 82.50 C95.67 82.33 93.00 82.50 92.00 82.50" fill="none" stroke="#0a5a0a" stroke-width="0.50" stroke-linecap="round" stroke-linejoin="round" opacity="0.50"/></g><clipPath id="ca1"><path d="M236.00 137.60 A86.60 86.60 0 0 1 409.20 137.60 L370.40 137.60 A47.80 47.80 0 0 0 274.80 137.60 Z"/></clipPath><g clip-path="url(#ca1)"><path d="M236.00 137.60 A86.60 86.60 0 0 1 409.20 137.60 L370.40 137.60 A47.80 47.80 0 0 0 274.80 137.60 Z" fill="#f4fc00"/><path d="M285.51 67.85 C287.57 66.79 293.56 63.18 297.88 61.52 C302.19 59.85 307.28 58.62 311.40 57.88 C315.52 57.15 320.73 57.23 322.60 57.10" fill="none" stroke="#ffd800" stroke-width="7.00" stroke-linecap="round" stroke-linejoin="round" filter="url(#b20)" opacity="0.90"/><path d="M359.69 67.85 C357.63 66.79 351.64 63.18 347.32 61.52 C343.01 59.85 337.92 58.62 333.80 57.88 C329.68 57.15 324.47 57.23 322.60 57.10" fill="none" stroke="#ffd800" stroke-width="7.00" stroke-linecap="round" stroke-linejoin="round" filter="url(#b20)" opacity="0.90"/><path d="M245.60 136.93 C245.63 136.14 245.55 134.11 245.79 132.23 C246.03 130.35 246.45 127.78 247.04 125.63 C247.63 123.48 248.96 120.38 249.34 119.33" fill="none" stroke="#ffc800" stroke-width="6.00" stroke-linecap="round" stroke-linejoin="round" filter="url(#b20)" opacity="0.85"/><path d="M399.60 136.93 C399.57 136.14 399.65 134.11 399.41 132.23 C399.17 130.35 398.75 127.78 398.16 125.63 C397.57 123.48 396.24 120.38 395.86 119.33" fill="none" stroke="#ffc800" stroke-width="6.00" stroke-linecap="round" stroke-linejoin="round" filter="url(#b20)" opacity="0.85"/><path d="M276.00 100.00 C276.50 101.33 278.50 105.00 279.00 108.00 C279.50 111.00 279.00 116.33 279.00 118.00" fill="none" stroke="#c8f400" stroke-width="5.00" stroke-linecap="round" stroke-linejoin="round" filter="url(#b15)" opacity="0.80"/><path d="M369.20 100.00 C368.70 101.33 366.70 105.00 366.20 108.00 C365.70 111.00 366.20 116.33 366.20 118.00" fill="none" stroke="#c8f400" stroke-width="5.00" stroke-linecap="round" stroke-linejoin="round" filter="url(#b15)" opacity="0.80"/><path d="M266.00 84.00 C266.67 83.75 268.67 82.33 270.00 82.50 C271.33 82.67 272.50 83.75 274.00 85.00 C275.50 86.25 277.33 88.33 279.00 90.00 C280.67 91.67 282.17 93.25 284.00 95.00 C285.83 96.75 289.50 98.92 290.00 100.50 C290.50 102.08 288.33 104.50 287.00 104.50 C285.67 104.50 283.75 102.00 282.00 100.50 C280.25 99.00 278.25 97.08 276.50 95.50 C274.75 93.92 273.17 92.17 271.50 91.00 C269.83 89.83 267.42 89.67 266.50 88.50 C265.58 87.33 266.08 84.75 266.00 84.00 Z" fill="#b8f000" stroke="#b8f000" stroke-width="4.00" stroke-linejoin="round" filter="url(#b12)"/><path d="M379.20 84.00 C378.53 83.75 376.53 82.33 375.20 82.50 C373.87 82.67 372.70 83.75 371.20 85.00 C369.70 86.25 367.87 88.33 366.20 90.00 C364.53 91.67 363.03 93.25 361.20 95.00 C359.37 96.75 355.70 98.92 355.20 100.50 C354.70 102.08 356.87 104.50 358.20 104.50 C359.53 104.50 361.45 102.00 363.20 100.50 C364.95 99.00 366.95 97.08 368.70 95.50 C370.45 93.92 372.03 92.17 373.70 91.00 C375.37 89.83 377.78 89.67 378.70 88.50 C379.62 87.33 379.12 84.75 379.20 84.00 Z" fill="#b8f000" stroke="#b8f000" stroke-width="4.00" stroke-linejoin="round" filter="url(#b12)"/><path d="M266.00 84.00 C266.67 83.75 268.67 82.33 270.00 82.50 C271.33 82.67 272.50 83.75 274.00 85.00 C275.50 86.25 277.33 88.33 279.00 90.00 C280.67 91.67 282.17 93.25 284.00 95.00 C285.83 96.75 289.50 98.92 290.00 100.50 C290.50 102.08 288.33 104.50 287.00 104.50 C285.67 104.50 283.75 102.00 282.00 100.50 C280.25 99.00 278.25 97.08 276.50 95.50 C274.75 93.92 273.17 92.17 271.50 91.00 C269.83 89.83 267.42 89.67 266.50 88.50 C265.58 87.33 266.08 84.75 266.00 84.00 Z" fill="#30e830" filter="url(#b08)"/><path d="M379.20 84.00 C378.53 83.75 376.53 82.33 375.20 82.50 C373.87 82.67 372.70 83.75 371.20 85.00 C369.70 86.25 367.87 88.33 366.20 90.00 C364.53 91.67 363.03 93.25 361.20 95.00 C359.37 96.75 355.70 98.92 355.20 100.50 C354.70 102.08 356.87 104.50 358.20 104.50 C359.53 104.50 361.45 102.00 363.20 100.50 C364.95 99.00 366.95 97.08 368.70 95.50 C370.45 93.92 372.03 92.17 373.70 91.00 C375.37 89.83 377.78 89.67 378.70 88.50 C379.62 87.33 379.12 84.75 379.20 84.00 Z" fill="#30e830" filter="url(#b08)"/><path d="M289.50 98.15 C290.51 97.52 293.50 95.51 295.57 94.35 C297.65 93.19 300.88 91.72 301.94 91.19" fill="none" stroke="#60ec10" stroke-width="2.50" stroke-linecap="round" stroke-linejoin="round" filter="url(#b10)" opacity="0.80"/><path d="M355.70 98.15 C354.69 97.52 351.70 95.51 349.63 94.35 C347.55 93.19 344.32 91.72 343.26 91.19" fill="none" stroke="#60ec10" stroke-width="2.50" stroke-linecap="round" stroke-linejoin="round" filter="url(#b10)" opacity="0.80"/><g filter="url(#b05)"><path d="M233.00 137.60 L233.03 135.25 L233.12 132.91 L233.28 130.57 L233.49 128.23 L233.77 125.90 L234.10 123.58 L234.50 121.27 L234.96 118.97 L235.48 116.68 L236.05 114.41 L236.69 112.15 L237.39 109.91 L238.14 107.69 L238.95 105.49 L239.82 103.31 L240.75 101.16 L241.73 99.03 L242.77 96.92 L243.86 94.85 L245.00 92.80 L246.20 90.78 L247.46 88.80 L248.76 86.85 L250.11 84.93 L251.52 83.05 L252.97 81.21 L254.47 79.41 L256.01 77.65 L257.61 75.92 L259.24 74.24 L260.92 72.61 L262.65 71.01 L264.41 69.47 L266.21 67.97 L268.05 66.52 L269.93 65.11 L271.85 63.76 L273.80 62.46 L275.78 61.20 L277.80 60.00 L279.85 58.86 L281.92 57.77 L284.03 56.73 L286.16 55.75 L288.31 54.82 L290.49 53.95 L292.69 53.14 L294.91 52.39 L297.15 51.69 L299.41 51.05 L301.68 50.48 L303.97 49.96 L306.27 49.50 L308.58 49.10 L310.90 48.77 L313.23 48.49 L315.57 48.28 L317.91 48.12 L320.25 48.03 L322.60 48.00 L324.95 48.03 L327.29 48.12 L329.63 48.28 L331.97 48.49 L334.30 48.77 L336.62 49.10 L338.93 49.50 L341.23 49.96 L343.52 50.48 L345.79 51.05 L348.05 51.69 L350.29 52.39 L352.51 53.14 L354.71 53.95 L356.89 54.82 L359.04 55.75 L361.17 56.73 L363.28 57.77 L365.35 58.86 L367.40 60.00 L369.42 61.20 L371.40 62.46 L373.35 63.76 L375.27 65.11 L377.15 66.52 L378.99 67.97 L380.79 69.47 L382.55 71.01 L384.28 72.61 L385.96 74.24 L387.59 75.92 L389.19 77.65 L390.73 79.41 L392.23 81.21 L393.68 83.05 L395.09 84.93 L396.44 86.85 L397.74 88.80 L399.00 90.78 L400.20 92.80 L401.34 94.85 L402.43 96.92 L403.47 99.03 L404.45 101.16 L405.38 103.31 L406.25 105.49 L407.06 107.69 L407.81 109.91 L408.51 112.15 L409.15 114.41 L409.72 116.68 L410.24 118.97 L410.70 121.27 L411.10 123.58 L411.43 125.90 L411.71 128.23 L411.92 130.57 L412.08 132.91 L412.17 135.25 L412.20 137.60 L402.80 137.60 L402.77 135.50 L402.69 133.40 L402.55 131.31 L402.36 129.22 L402.11 127.13 L401.81 125.05 L401.46 122.98 L401.05 120.93 L400.58 118.88 L400.07 116.84 L399.50 114.82 L398.87 112.82 L398.20 110.83 L397.47 108.86 L396.70 106.91 L395.87 104.98 L394.99 103.07 L394.06 101.19 L393.08 99.33 L392.06 97.50 L390.98 95.70 L389.86 93.92 L388.69 92.18 L387.46 90.48 L386.12 88.86 L384.58 87.41 L382.75 86.23 L380.69 85.29 L378.73 84.33 L377.22 82.98 L376.20 81.12 L375.33 79.03 L374.28 77.09 L372.94 75.43 L371.40 74.01 L369.74 72.71 L368.04 71.49 L366.30 70.31 L364.53 69.18 L362.74 68.08 L360.92 67.03 L359.07 66.02 L357.21 65.04 L355.32 64.10 L353.42 63.20 L351.49 62.33 L349.55 61.49 L347.59 60.68 L345.61 59.91 L343.62 59.17 L341.60 58.47 L339.56 57.81 L337.50 57.21 L335.42 56.66 L333.32 56.18 L331.20 55.77 L329.07 55.44 L326.92 55.20 L324.76 55.05 L322.60 55.00 L320.44 55.05 L318.28 55.20 L316.13 55.44 L314.00 55.77 L311.88 56.18 L309.78 56.66 L307.70 57.21 L305.64 57.81 L303.60 58.47 L301.58 59.17 L299.59 59.91 L297.61 60.68 L295.65 61.49 L293.71 62.33 L291.78 63.20 L289.88 64.10 L287.99 65.04 L286.13 66.02 L284.28 67.03 L282.46 68.08 L280.67 69.18 L278.90 70.31 L277.16 71.49 L275.46 72.71 L273.80 74.01 L272.26 75.43 L270.92 77.09 L269.87 79.03 L269.00 81.12 L267.98 82.98 L266.47 84.33 L264.51 85.29 L262.45 86.23 L260.62 87.41 L259.08 88.86 L257.74 90.48 L256.51 92.18 L255.34 93.92 L254.22 95.70 L253.14 97.50 L252.12 99.33 L251.14 101.19 L250.21 103.07 L249.33 104.98 L248.50 106.91 L247.73 108.86 L247.00 110.83 L246.33 112.82 L245.70 114.82 L245.13 116.84 L244.62 118.88 L244.15 120.93 L243.74 122.98 L243.39 125.05 L243.09 127.13 L242.84 129.22 L242.65 131.31 L242.51 133.40 L242.43 135.50 L242.40 137.60 Z" fill="#b0f000"/><path d="M233.00 137.60 L233.03 135.25 L233.12 132.91 L233.28 130.57 L233.49 128.23 L233.77 125.90 L234.10 123.58 L234.50 121.27 L234.96 118.97 L235.48 116.68 L236.05 114.41 L236.69 112.15 L237.39 109.91 L238.14 107.69 L238.95 105.49 L239.82 103.31 L240.75 101.16 L241.73 99.03 L242.77 96.92 L243.86 94.85 L245.00 92.80 L246.20 90.78 L247.46 88.80 L248.76 86.85 L250.11 84.93 L251.52 83.05 L252.97 81.21 L254.47 79.41 L256.01 77.65 L257.61 75.92 L259.24 74.24 L260.92 72.61 L262.65 71.01 L264.41 69.47 L266.21 67.97 L268.05 66.52 L269.93 65.11 L271.85 63.76 L273.80 62.46 L275.78 61.20 L277.80 60.00 L279.85 58.86 L281.92 57.77 L284.03 56.73 L286.16 55.75 L288.31 54.82 L290.49 53.95 L292.69 53.14 L294.91 52.39 L297.15 51.69 L299.41 51.05 L301.68 50.48 L303.97 49.96 L306.27 49.50 L308.58 49.10 L310.90 48.77 L313.23 48.49 L315.57 48.28 L317.91 48.12 L320.25 48.03 L322.60 48.00 L324.95 48.03 L327.29 48.12 L329.63 48.28 L331.97 48.49 L334.30 48.77 L336.62 49.10 L338.93 49.50 L341.23 49.96 L343.52 50.48 L345.79 51.05 L348.05 51.69 L350.29 52.39 L352.51 53.14 L354.71 53.95 L356.89 54.82 L359.04 55.75 L361.17 56.73 L363.28 57.77 L365.35 58.86 L367.40 60.00 L369.42 61.20 L371.40 62.46 L373.35 63.76 L375.27 65.11 L377.15 66.52 L378.99 67.97 L380.79 69.47 L382.55 71.01 L384.28 72.61 L385.96 74.24 L387.59 75.92 L389.19 77.65 L390.73 79.41 L392.23 81.21 L393.68 83.05 L395.09 84.93 L396.44 86.85 L397.74 88.80 L399.00 90.78 L400.20 92.80 L401.34 94.85 L402.43 96.92 L403.47 99.03 L404.45 101.16 L405.38 103.31 L406.25 105.49 L407.06 107.69 L407.81 109.91 L408.51 112.15 L409.15 114.41 L409.72 116.68 L410.24 118.97 L410.70 121.27 L411.10 123.58 L411.43 125.90 L411.71 128.23 L411.92 130.57 L412.08 132.91 L412.17 135.25 L412.20 137.60 L403.70 137.60 L403.67 135.48 L403.59 133.36 L403.45 131.24 L403.26 129.12 L403.01 127.01 L402.70 124.91 L402.34 122.82 L401.93 120.74 L401.46 118.67 L400.94 116.61 L400.36 114.57 L399.73 112.54 L399.05 110.53 L398.31 108.54 L397.53 106.56 L396.69 104.61 L395.80 102.69 L394.86 100.78 L393.87 98.90 L392.83 97.05 L391.75 95.23 L390.62 93.43 L389.43 91.67 L388.18 89.95 L386.83 88.31 L385.27 86.85 L383.43 85.65 L381.36 84.69 L379.38 83.71 L377.86 82.34 L376.82 80.47 L375.93 78.37 L374.86 76.41 L373.51 74.73 L371.94 73.29 L370.27 71.99 L368.55 70.75 L366.79 69.56 L365.00 68.41 L363.19 67.30 L361.35 66.24 L359.48 65.22 L357.60 64.23 L355.69 63.28 L353.76 62.37 L351.82 61.49 L349.85 60.64 L347.87 59.83 L345.87 59.05 L343.85 58.30 L341.81 57.60 L339.75 56.93 L337.66 56.32 L335.56 55.77 L333.44 55.28 L331.30 54.87 L329.14 54.54 L326.97 54.30 L324.79 54.15 L322.60 54.10 L320.41 54.15 L318.23 54.30 L316.06 54.54 L313.90 54.87 L311.76 55.28 L309.64 55.77 L307.54 56.32 L305.45 56.93 L303.39 57.60 L301.35 58.30 L299.33 59.05 L297.33 59.83 L295.35 60.64 L293.38 61.49 L291.44 62.37 L289.51 63.28 L287.60 64.23 L285.72 65.22 L283.85 66.24 L282.01 67.30 L280.20 68.41 L278.41 69.56 L276.65 70.75 L274.93 71.99 L273.26 73.29 L271.69 74.73 L270.34 76.41 L269.27 78.37 L268.38 80.47 L267.34 82.34 L265.82 83.71 L263.84 84.69 L261.77 85.65 L259.93 86.85 L258.37 88.31 L257.02 89.95 L255.77 91.67 L254.58 93.43 L253.45 95.23 L252.37 97.05 L251.33 98.90 L250.34 100.78 L249.40 102.69 L248.51 104.61 L247.67 106.56 L246.89 108.54 L246.15 110.53 L245.47 112.54 L244.84 114.57 L244.26 116.61 L243.74 118.67 L243.27 120.74 L242.86 122.82 L242.50 124.91 L242.19 127.01 L241.94 129.12 L241.75 131.24 L241.61 133.36 L241.53 135.48 L241.50 137.60 Z" fill="#30e830"/><path d="M233.00 137.60 L233.03 135.25 L233.12 132.91 L233.28 130.57 L233.49 128.23 L233.77 125.90 L234.10 123.58 L234.50 121.27 L234.96 118.97 L235.48 116.68 L236.05 114.41 L236.69 112.15 L237.39 109.91 L238.14 107.69 L238.95 105.49 L239.82 103.31 L240.75 101.16 L241.73 99.03 L242.77 96.92 L243.86 94.85 L245.00 92.80 L246.20 90.78 L247.46 88.80 L248.76 86.85 L250.11 84.93 L251.52 83.05 L252.97 81.21 L254.47 79.41 L256.01 77.65 L257.61 75.92 L259.24 74.24 L260.92 72.61 L262.65 71.01 L264.41 69.47 L266.21 67.97 L268.05 66.52 L269.93 65.11 L271.85 63.76 L273.80 62.46 L275.78 61.20 L277.80 60.00 L279.85 58.86 L281.92 57.77 L284.03 56.73 L286.16 55.75 L288.31 54.82 L290.49 53.95 L292.69 53.14 L294.91 52.39 L297.15 51.69 L299.41 51.05 L301.68 50.48 L303.97 49.96 L306.27 49.50 L308.58 49.10 L310.90 48.77 L313.23 48.49 L315.57 48.28 L317.91 48.12 L320.25 48.03 L322.60 48.00 L324.95 48.03 L327.29 48.12 L329.63 48.28 L331.97 48.49 L334.30 48.77 L336.62 49.10 L338.93 49.50 L341.23 49.96 L343.52 50.48 L345.79 51.05 L348.05 51.69 L350.29 52.39 L352.51 53.14 L354.71 53.95 L356.89 54.82 L359.04 55.75 L361.17 56.73 L363.28 57.77 L365.35 58.86 L367.40 60.00 L369.42 61.20 L371.40 62.46 L373.35 63.76 L375.27 65.11 L377.15 66.52 L378.99 67.97 L380.79 69.47 L382.55 71.01 L384.28 72.61 L385.96 74.24 L387.59 75.92 L389.19 77.65 L390.73 79.41 L392.23 81.21 L393.68 83.05 L395.09 84.93 L396.44 86.85 L397.74 88.80 L399.00 90.78 L400.20 92.80 L401.34 94.85 L402.43 96.92 L403.47 99.03 L404.45 101.16 L405.38 103.31 L406.25 105.49 L407.06 107.69 L407.81 109.91 L408.51 112.15 L409.15 114.41 L409.72 116.68 L410.24 118.97 L410.70 121.27 L411.10 123.58 L411.43 125.90 L411.71 128.23 L411.92 130.57 L412.08 132.91 L412.17 135.25 L412.20 137.60 L406.40 137.60 L406.37 135.41 L406.29 133.21 L406.14 131.03 L405.94 128.84 L405.68 126.66 L405.37 124.49 L405.00 122.33 L404.56 120.18 L404.07 118.04 L403.51 115.92 L402.90 113.81 L402.23 111.73 L401.50 109.66 L400.72 107.61 L399.88 105.59 L398.99 103.59 L398.05 101.61 L397.06 99.66 L396.01 97.74 L394.91 95.85 L393.75 94.00 L392.51 92.20 L391.21 90.45 L389.81 88.77 L388.33 87.16 L386.77 85.64 L385.15 84.18 L383.50 82.77 L381.85 81.37 L380.25 79.95 L378.71 78.48 L377.22 76.94 L375.76 75.36 L374.30 73.76 L372.80 72.17 L371.25 70.64 L369.62 69.18 L367.92 67.82 L366.15 66.54 L364.31 65.35 L362.44 64.23 L360.53 63.16 L358.59 62.14 L356.63 61.17 L354.64 60.24 L352.64 59.36 L350.61 58.51 L348.56 57.72 L346.48 56.97 L344.39 56.27 L342.28 55.62 L340.15 55.03 L338.00 54.50 L335.84 54.04 L333.65 53.64 L331.46 53.32 L329.25 53.07 L327.04 52.89 L324.82 52.79 L322.60 52.75 L320.38 52.79 L318.16 52.89 L315.95 53.07 L313.74 53.32 L311.55 53.64 L309.36 54.04 L307.20 54.50 L305.05 55.03 L302.92 55.62 L300.81 56.27 L298.72 56.97 L296.64 57.72 L294.59 58.51 L292.56 59.36 L290.56 60.24 L288.57 61.17 L286.61 62.14 L284.67 63.16 L282.76 64.23 L280.89 65.35 L279.05 66.54 L277.28 67.82 L275.58 69.18 L273.95 70.64 L272.40 72.17 L270.90 73.76 L269.44 75.36 L267.98 76.94 L266.49 78.48 L264.95 79.95 L263.35 81.37 L261.70 82.77 L260.05 84.18 L258.43 85.64 L256.87 87.16 L255.39 88.77 L253.99 90.45 L252.69 92.20 L251.45 94.00 L250.29 95.85 L249.19 97.74 L248.14 99.66 L247.15 101.61 L246.21 103.59 L245.32 105.59 L244.48 107.61 L243.70 109.66 L242.97 111.73 L242.30 113.81 L241.69 115.92 L241.13 118.04 L240.64 120.18 L240.20 122.33 L239.83 124.49 L239.52 126.66 L239.26 128.84 L239.06 131.03 L238.91 133.21 L238.83 135.41 L238.80 137.60 Z" fill="#00d8f0"/><path d="M233.00 137.60 L233.03 135.25 L233.12 132.91 L233.28 130.57 L233.49 128.23 L233.77 125.90 L234.10 123.58 L234.50 121.27 L234.96 118.97 L235.48 116.68 L236.05 114.41 L236.69 112.15 L237.39 109.91 L238.14 107.69 L238.95 105.49 L239.82 103.31 L240.75 101.16 L241.73 99.03 L242.77 96.92 L243.86 94.85 L245.00 92.80 L246.20 90.78 L247.46 88.80 L248.76 86.85 L250.11 84.93 L251.52 83.05 L252.97 81.21 L254.47 79.41 L256.01 77.65 L257.61 75.92 L259.24 74.24 L260.92 72.61 L262.65 71.01 L264.41 69.47 L266.21 67.97 L268.05 66.52 L269.93 65.11 L271.85 63.76 L273.80 62.46 L275.78 61.20 L277.80 60.00 L279.85 58.86 L281.92 57.77 L284.03 56.73 L286.16 55.75 L288.31 54.82 L290.49 53.95 L292.69 53.14 L294.91 52.39 L297.15 51.69 L299.41 51.05 L301.68 50.48 L303.97 49.96 L306.27 49.50 L308.58 49.10 L310.90 48.77 L313.23 48.49 L315.57 48.28 L317.91 48.12 L320.25 48.03 L322.60 48.00 L324.95 48.03 L327.29 48.12 L329.63 48.28 L331.97 48.49 L334.30 48.77 L336.62 49.10 L338.93 49.50 L341.23 49.96 L343.52 50.48 L345.79 51.05 L348.05 51.69 L350.29 52.39 L352.51 53.14 L354.71 53.95 L356.89 54.82 L359.04 55.75 L361.17 56.73 L363.28 57.77 L365.35 58.86 L367.40 60.00 L369.42 61.20 L371.40 62.46 L373.35 63.76 L375.27 65.11 L377.15 66.52 L378.99 67.97 L380.79 69.47 L382.55 71.01 L384.28 72.61 L385.96 74.24 L387.59 75.92 L389.19 77.65 L390.73 79.41 L392.23 81.21 L393.68 83.05 L395.09 84.93 L396.44 86.85 L397.74 88.80 L399.00 90.78 L400.20 92.80 L401.34 94.85 L402.43 96.92 L403.47 99.03 L404.45 101.16 L405.38 103.31 L406.25 105.49 L407.06 107.69 L407.81 109.91 L408.51 112.15 L409.15 114.41 L409.72 116.68 L410.24 118.97 L410.70 121.27 L411.10 123.58 L411.43 125.90 L411.71 128.23 L411.92 130.57 L412.08 132.91 L412.17 135.25 L412.20 137.60 L407.10 137.60 L407.07 135.39 L406.98 133.18 L406.84 130.97 L406.64 128.77 L406.38 126.57 L406.06 124.38 L405.68 122.20 L405.25 120.03 L404.75 117.88 L404.19 115.74 L403.57 113.61 L402.90 111.51 L402.16 109.43 L401.37 107.36 L400.53 105.32 L399.63 103.30 L398.68 101.31 L397.68 99.34 L396.63 97.41 L395.51 95.50 L394.34 93.64 L393.10 91.82 L391.78 90.05 L390.38 88.35 L388.89 86.74 L387.31 85.20 L385.68 83.73 L384.02 82.30 L382.36 80.89 L380.75 79.45 L379.19 77.97 L377.68 76.42 L376.21 74.83 L374.74 73.21 L373.23 71.62 L371.66 70.07 L370.02 68.61 L368.30 67.23 L366.51 65.94 L364.66 64.74 L362.77 63.61 L360.84 62.54 L358.89 61.53 L356.90 60.56 L354.89 59.63 L352.86 58.76 L350.81 57.93 L348.74 57.14 L346.65 56.40 L344.54 55.72 L342.41 55.08 L340.26 54.51 L338.10 53.99 L335.92 53.53 L333.72 53.14 L331.51 52.82 L329.29 52.57 L327.07 52.39 L324.83 52.29 L322.60 52.25 L320.37 52.29 L318.13 52.39 L315.91 52.57 L313.69 52.82 L311.48 53.14 L309.28 53.53 L307.10 53.99 L304.94 54.51 L302.79 55.08 L300.66 55.72 L298.55 56.40 L296.46 57.14 L294.39 57.93 L292.34 58.76 L290.31 59.63 L288.30 60.56 L286.31 61.53 L284.36 62.54 L282.43 63.61 L280.54 64.74 L278.69 65.94 L276.90 67.23 L275.18 68.61 L273.54 70.07 L271.97 71.62 L270.46 73.21 L268.99 74.83 L267.52 76.42 L266.01 77.97 L264.45 79.45 L262.84 80.89 L261.18 82.30 L259.52 83.73 L257.89 85.20 L256.31 86.74 L254.82 88.35 L253.42 90.05 L252.10 91.82 L250.86 93.64 L249.69 95.50 L248.57 97.41 L247.52 99.34 L246.52 101.31 L245.57 103.30 L244.67 105.32 L243.83 107.36 L243.04 109.43 L242.30 111.51 L241.63 113.61 L241.01 115.74 L240.45 117.88 L239.95 120.03 L239.52 122.20 L239.14 124.38 L238.82 126.57 L238.56 128.77 L238.36 130.97 L238.22 133.18 L238.13 135.39 L238.10 137.60 Z" fill="#0070ff"/><path d="M233.00 137.60 L233.03 135.25 L233.12 132.91 L233.28 130.57 L233.49 128.23 L233.77 125.90 L234.10 123.58 L234.50 121.27 L234.96 118.97 L235.48 116.68 L236.05 114.41 L236.69 112.15 L237.39 109.91 L238.14 107.69 L238.95 105.49 L239.82 103.31 L240.75 101.16 L241.73 99.03 L242.77 96.92 L243.86 94.85 L245.00 92.80 L246.20 90.78 L247.46 88.80 L248.76 86.85 L250.11 84.93 L251.52 83.05 L252.97 81.21 L254.47 79.41 L256.01 77.65 L257.61 75.92 L259.24 74.24 L260.92 72.61 L262.65 71.01 L264.41 69.47 L266.21 67.97 L268.05 66.52 L269.93 65.11 L271.85 63.76 L273.80 62.46 L275.78 61.20 L277.80 60.00 L279.85 58.86 L281.92 57.77 L284.03 56.73 L286.16 55.75 L288.31 54.82 L290.49 53.95 L292.69 53.14 L294.91 52.39 L297.15 51.69 L299.41 51.05 L301.68 50.48 L303.97 49.96 L306.27 49.50 L308.58 49.10 L310.90 48.77 L313.23 48.49 L315.57 48.28 L317.91 48.12 L320.25 48.03 L322.60 48.00 L324.95 48.03 L327.29 48.12 L329.63 48.28 L331.97 48.49 L334.30 48.77 L336.62 49.10 L338.93 49.50 L341.23 49.96 L343.52 50.48 L345.79 51.05 L348.05 51.69 L350.29 52.39 L352.51 53.14 L354.71 53.95 L356.89 54.82 L359.04 55.75 L361.17 56.73 L363.28 57.77 L365.35 58.86 L367.40 60.00 L369.42 61.20 L371.40 62.46 L373.35 63.76 L375.27 65.11 L377.15 66.52 L378.99 67.97 L380.79 69.47 L382.55 71.01 L384.28 72.61 L385.96 74.24 L387.59 75.92 L389.19 77.65 L390.73 79.41 L392.23 81.21 L393.68 83.05 L395.09 84.93 L396.44 86.85 L397.74 88.80 L399.00 90.78 L400.20 92.80 L401.34 94.85 L402.43 96.92 L403.47 99.03 L404.45 101.16 L405.38 103.31 L406.25 105.49 L407.06 107.69 L407.81 109.91 L408.51 112.15 L409.15 114.41 L409.72 116.68 L410.24 118.97 L410.70 121.27 L411.10 123.58 L411.43 125.90 L411.71 128.23 L411.92 130.57 L412.08 132.91 L412.17 135.25 L412.20 137.60 L408.00 137.60 L407.97 135.36 L407.88 133.13 L407.74 130.90 L407.53 128.67 L407.27 126.45 L406.95 124.24 L406.57 122.04 L406.13 119.85 L405.62 117.67 L405.06 115.50 L404.43 113.36 L403.75 111.23 L403.01 109.13 L402.21 107.04 L401.36 104.98 L400.45 102.94 L399.50 100.92 L398.48 98.94 L397.42 96.98 L396.29 95.05 L395.11 93.17 L393.86 91.33 L392.52 89.54 L391.11 87.83 L389.60 86.19 L388.01 84.63 L386.36 83.14 L384.68 81.70 L383.01 80.27 L381.38 78.82 L379.81 77.32 L378.29 75.75 L376.80 74.14 L375.30 72.52 L373.78 70.90 L372.19 69.34 L370.53 67.86 L368.79 66.47 L366.98 65.18 L365.11 63.96 L363.20 62.83 L361.24 61.76 L359.26 60.75 L357.24 59.79 L355.21 58.88 L353.14 58.03 L351.06 57.22 L348.96 56.46 L346.84 55.76 L344.71 55.10 L342.55 54.49 L340.38 53.94 L338.20 53.45 L336.00 53.01 L333.79 52.63 L331.56 52.32 L329.33 52.07 L327.09 51.89 L324.85 51.79 L322.60 51.75 L320.35 51.79 L318.11 51.89 L315.87 52.07 L313.64 52.32 L311.41 52.63 L309.20 53.01 L307.00 53.45 L304.82 53.94 L302.65 54.49 L300.49 55.10 L298.36 55.76 L296.24 56.46 L294.14 57.22 L292.06 58.03 L289.99 58.88 L287.96 59.79 L285.94 60.75 L283.96 61.76 L282.00 62.83 L280.09 63.96 L278.22 65.18 L276.41 66.47 L274.67 67.86 L273.01 69.34 L271.42 70.90 L269.90 72.52 L268.40 74.14 L266.91 75.75 L265.39 77.32 L263.82 78.82 L262.19 80.27 L260.52 81.70 L258.84 83.14 L257.19 84.63 L255.60 86.19 L254.09 87.83 L252.68 89.54 L251.34 91.33 L250.09 93.17 L248.91 95.05 L247.78 96.98 L246.72 98.94 L245.70 100.92 L244.75 102.94 L243.84 104.98 L242.99 107.04 L242.19 109.13 L241.45 111.23 L240.77 113.36 L240.14 115.50 L239.58 117.67 L239.07 119.85 L238.63 122.04 L238.25 124.24 L237.93 126.45 L237.67 128.67 L237.46 130.90 L237.32 133.13 L237.23 135.36 L237.20 137.60 Z" fill="#0838f8"/></g><path d="M272.60 138.60 A50.00 50.00 0 0 1 372.60 138.60" fill="none" stroke="#c0f000" stroke-width="2.60" opacity="0.75" filter="url(#b08)"/><path d="M242.60 137.10H272.60" stroke="#ffc000" stroke-width="1.4" filter="url(#b05)"/><path d="M372.60 137.10H402.60" stroke="#ffc000" stroke-width="1.4" filter="url(#b05)"/><path d="M273.50 138.60 A49.10 49.10 0 0 1 371.70 138.60" fill="none" stroke="#ff9000" stroke-width="1.00" opacity="0.90"/><path d="M274.30 138.60 A48.30 48.30 0 0 1 370.90 138.60" fill="none" stroke="#d82000" stroke-width="1.10"/><path d="M322.60 89.80V55.50" stroke="#ff9000" stroke-width="2.4" filter="url(#b08)"/><path d="M322.60 89.80V56.50" stroke="#e82000" stroke-width="0.9"/><path d="M320.10 53.50L322.60 56.50L325.10 53.50" stroke="#c06000" stroke-width="0.6" fill="none" opacity="0.5"/><path d="M319.10 90.30 L322.60 85.80 L326.10 90.30 Z" fill="#f02000" filter="url(#b05)"/><path d="M246.00 112.00 C246.33 110.67 247.00 106.50 248.00 104.00 C249.00 101.50 250.00 98.90 252.00 97.00 C254.00 95.10 257.10 93.37 260.00 92.60 C262.90 91.83 266.75 91.63 269.40 92.40 C272.05 93.17 274.35 95.18 275.90 97.20 C277.45 99.22 278.40 101.97 278.70 104.50 C279.00 107.03 277.98 109.15 277.70 112.40 C277.42 115.65 277.18 119.90 277.00 124.00 C276.82 128.10 276.67 134.83 276.60 137.00" fill="none" stroke="#6a6000" stroke-width="0.55" stroke-linecap="round" stroke-linejoin="round" opacity="0.60"/><path d="M399.20 112.00 C398.87 110.67 398.20 106.50 397.20 104.00 C396.20 101.50 395.20 98.90 393.20 97.00 C391.20 95.10 388.10 93.37 385.20 92.60 C382.30 91.83 378.45 91.63 375.80 92.40 C373.15 93.17 370.85 95.18 369.30 97.20 C367.75 99.22 366.80 101.97 366.50 104.50 C366.20 107.03 367.22 109.15 367.50 112.40 C367.78 115.65 368.02 119.90 368.20 124.00 C368.38 128.10 368.53 134.83 368.60 137.00" fill="none" stroke="#6a6000" stroke-width="0.55" stroke-linecap="round" stroke-linejoin="round" opacity="0.60"/><path d="M316.00 57.50 C313.33 57.83 305.00 58.25 300.00 59.50 C295.00 60.75 289.83 62.92 286.00 65.00 C282.17 67.08 278.92 69.67 277.00 72.00 C275.08 74.33 274.67 76.58 274.50 79.00 C274.33 81.42 274.92 84.43 276.00 86.50 C277.08 88.57 278.67 90.12 281.00 91.40 C283.33 92.68 286.83 93.90 290.00 94.20 C293.17 94.50 296.67 93.77 300.00 93.20 C303.33 92.63 307.00 91.33 310.00 90.80 C313.00 90.27 316.67 90.13 318.00 90.00" fill="none" stroke="#6a6000" stroke-width="0.55" stroke-linecap="round" stroke-linejoin="round" opacity="0.60"/><path d="M329.20 57.50 C331.87 57.83 340.20 58.25 345.20 59.50 C350.20 60.75 355.37 62.92 359.20 65.00 C363.03 67.08 366.28 69.67 368.20 72.00 C370.12 74.33 370.53 76.58 370.70 79.00 C370.87 81.42 370.28 84.43 369.20 86.50 C368.12 88.57 366.53 90.12 364.20 91.40 C361.87 92.68 358.37 93.90 355.20 94.20 C352.03 94.50 348.53 93.77 345.20 93.20 C341.87 92.63 338.20 91.33 335.20 90.80 C332.20 90.27 328.53 90.13 327.20 90.00" fill="none" stroke="#6a6000" stroke-width="0.55" stroke-linecap="round" stroke-linejoin="round" opacity="0.60"/><path d="M241.00 128.00 C241.33 126.33 242.17 121.33 243.00 118.00 C243.83 114.67 245.50 109.67 246.00 108.00" fill="none" stroke="#6a6000" stroke-width="0.50" stroke-linecap="round" stroke-linejoin="round" opacity="0.40"/><path d="M404.20 128.00 C403.87 126.33 403.03 121.33 402.20 118.00 C401.37 114.67 399.70 109.67 399.20 108.00" fill="none" stroke="#6a6000" stroke-width="0.50" stroke-linecap="round" stroke-linejoin="round" opacity="0.40"/></g><clipPath id="ca2"><path d="M471.60 137.60 A86.60 86.60 0 0 1 644.80 137.60 L606.00 137.60 A47.80 47.80 0 0 0 510.40 137.60 Z"/></clipPath><g clip-path="url(#ca2)"><path d="M471.60 137.60 A86.60 86.60 0 0 1 644.80 137.60 L606.00 137.60 A47.80 47.80 0 0 0 510.40 137.60 Z" fill="#ffc408"/><path d="M502.77 105.60 C503.92 105.06 507.48 103.36 509.66 102.33 C511.84 101.31 514.81 99.94 515.84 99.46" fill="none" stroke="#ffd400" stroke-width="5.00" stroke-linecap="round" stroke-linejoin="round" filter="url(#b15)" opacity="0.80"/><path d="M613.63 105.60 C612.48 105.06 608.92 103.36 606.74 102.33 C604.56 101.31 601.59 99.94 600.56 99.46" fill="none" stroke="#ffd400" stroke-width="5.00" stroke-linecap="round" stroke-linejoin="round" filter="url(#b15)" opacity="0.80"/><path d="M518.05 80.26 C520.09 79.85 526.55 79.17 530.31 77.78 C534.07 76.39 538.88 72.89 540.60 71.92" fill="none" stroke="#ffd000" stroke-width="6.00" stroke-linecap="round" stroke-linejoin="round" filter="url(#b20)" opacity="0.70"/><path d="M598.35 80.26 C596.31 79.85 589.85 79.17 586.09 77.78 C582.33 76.39 577.52 72.89 575.80 71.92" fill="none" stroke="#ffd000" stroke-width="6.00" stroke-linecap="round" stroke-linejoin="round" filter="url(#b20)" opacity="0.70"/><path d="M506.33 133.97 C506.58 132.79 507.14 129.50 507.83 126.89 C508.51 124.28 509.47 121.16 510.45 118.31 C511.43 115.46 513.14 111.20 513.68 109.78" fill="none" stroke="#ffe000" stroke-width="4.00" stroke-linecap="round" stroke-linejoin="round" filter="url(#b15)" opacity="0.90"/><path d="M610.07 133.97 C609.82 132.79 609.26 129.50 608.57 126.89 C607.89 124.28 606.93 121.16 605.95 118.31 C604.97 115.46 603.26 111.20 602.72 109.78" fill="none" stroke="#ffe000" stroke-width="4.00" stroke-linecap="round" stroke-linejoin="round" filter="url(#b15)" opacity="0.90"/><path d="M484.61 129.86 C484.90 128.17 485.48 123.46 486.40 119.70 C487.32 115.94 489.52 109.36 490.14 107.30" fill="none" stroke="#ffb000" stroke-width="4.00" stroke-linecap="round" stroke-linejoin="round" filter="url(#b15)" opacity="0.70"/><path d="M631.79 129.86 C631.50 128.17 630.92 123.46 630.00 119.70 C629.08 115.94 626.88 109.36 626.26 107.30" fill="none" stroke="#ffb000" stroke-width="4.00" stroke-linecap="round" stroke-linejoin="round" filter="url(#b15)" opacity="0.70"/><path d="M526.07 65.43 C527.78 64.77 532.86 62.54 536.37 61.47 C539.88 60.39 543.51 59.52 547.15 58.97 C550.79 58.43 556.36 58.33 558.20 58.20" fill="none" stroke="#ffa000" stroke-width="4.50" stroke-linecap="round" stroke-linejoin="round" filter="url(#b15)" opacity="0.95"/><path d="M590.33 65.43 C588.62 64.77 583.54 62.54 580.03 61.47 C576.52 60.39 572.89 59.52 569.25 58.97 C565.61 58.43 560.04 58.33 558.20 58.20" fill="none" stroke="#ffa000" stroke-width="4.50" stroke-linecap="round" stroke-linejoin="round" filter="url(#b15)" opacity="0.95"/><path d="M505.00 86.00 C505.50 86.67 506.83 88.42 508.00 90.00 C509.17 91.58 510.67 93.75 512.00 95.50 C513.33 97.25 514.83 99.00 516.00 100.50 C517.17 102.00 518.50 103.83 519.00 104.50" fill="none" stroke="#ffe800" stroke-width="6.00" stroke-linecap="round" stroke-linejoin="round" filter="url(#b15)" opacity="0.80"/><path d="M611.40 86.00 C610.90 86.67 609.57 88.42 608.40 90.00 C607.23 91.58 605.73 93.75 604.40 95.50 C603.07 97.25 601.57 99.00 600.40 100.50 C599.23 102.00 597.90 103.83 597.40 104.50" fill="none" stroke="#ffe800" stroke-width="6.00" stroke-linecap="round" stroke-linejoin="round" filter="url(#b15)" opacity="0.80"/><path d="M505.00 86.00 C505.50 86.67 506.83 88.42 508.00 90.00 C509.17 91.58 510.67 93.75 512.00 95.50 C513.33 97.25 514.83 99.00 516.00 100.50 C517.17 102.00 518.50 103.83 519.00 104.50" fill="none" stroke="#f0f400" stroke-width="2.20" stroke-linecap="round" stroke-linejoin="round" filter="url(#b05)"/><path d="M611.40 86.00 C610.90 86.67 609.57 88.42 608.40 90.00 C607.23 91.58 605.73 93.75 604.40 95.50 C603.07 97.25 601.57 99.00 600.40 100.50 C599.23 102.00 597.90 103.83 597.40 104.50" fill="none" stroke="#f0f400" stroke-width="2.20" stroke-linecap="round" stroke-linejoin="round" filter="url(#b05)"/><path d="M496.00 92.00 C496.67 92.33 498.67 92.83 500.00 94.00 C501.33 95.17 503.33 98.17 504.00 99.00" fill="none" stroke="#ffe000" stroke-width="3.00" stroke-linecap="round" stroke-linejoin="round" filter="url(#b15)" opacity="0.70"/><path d="M620.40 92.00 C619.73 92.33 617.73 92.83 616.40 94.00 C615.07 95.17 613.07 98.17 612.40 99.00" fill="none" stroke="#ffe000" stroke-width="3.00" stroke-linecap="round" stroke-linejoin="round" filter="url(#b15)" opacity="0.70"/><path d="M481.70 137.20 C481.77 135.93 481.66 132.60 482.12 129.60 C482.58 126.61 483.44 122.59 484.46 119.21 C485.47 115.83 486.80 112.54 488.20 109.32 C489.59 106.09 492.05 101.43 492.82 99.85" fill="none" stroke="#ffa000" stroke-width="5.00" stroke-linecap="round" stroke-linejoin="round" filter="url(#b15)" opacity="0.90"/><path d="M634.70 137.20 C634.63 135.93 634.74 132.60 634.28 129.60 C633.82 126.61 632.96 122.59 631.94 119.21 C630.93 115.83 629.60 112.54 628.20 109.32 C626.81 106.09 624.35 101.43 623.58 99.85" fill="none" stroke="#ffa000" stroke-width="5.00" stroke-linecap="round" stroke-linejoin="round" filter="url(#b15)" opacity="0.90"/><path d="M507.20 137.33 C507.25 136.49 507.31 134.30 507.48 132.27 C507.65 130.24 508.10 126.33 508.23 125.14" fill="none" stroke="#ffe000" stroke-width="3.00" stroke-linecap="round" stroke-linejoin="round" filter="url(#b10)" opacity="0.80"/><path d="M609.20 137.33 C609.15 136.49 609.09 134.30 608.92 132.27 C608.75 130.24 608.30 126.33 608.17 125.14" fill="none" stroke="#ffe000" stroke-width="3.00" stroke-linecap="round" stroke-linejoin="round" filter="url(#b10)" opacity="0.80"/><g filter="url(#b05)"><path d="M468.60 137.60 L468.63 135.25 L468.72 132.91 L468.88 130.57 L469.09 128.23 L469.37 125.90 L469.70 123.58 L470.10 121.27 L470.56 118.97 L471.08 116.68 L471.65 114.41 L472.29 112.15 L472.99 109.91 L473.74 107.69 L474.55 105.49 L475.42 103.31 L476.35 101.16 L477.33 99.03 L478.37 96.92 L479.46 94.85 L480.60 92.80 L481.80 90.78 L483.06 88.80 L484.36 86.85 L485.71 84.93 L487.12 83.05 L488.57 81.21 L490.07 79.41 L491.61 77.65 L493.21 75.92 L494.84 74.24 L496.52 72.61 L498.25 71.01 L500.01 69.47 L501.81 67.97 L503.65 66.52 L505.53 65.11 L507.45 63.76 L509.40 62.46 L511.38 61.20 L513.40 60.00 L515.45 58.86 L517.52 57.77 L519.63 56.73 L521.76 55.75 L523.91 54.82 L526.09 53.95 L528.29 53.14 L530.51 52.39 L532.75 51.69 L535.01 51.05 L537.28 50.48 L539.57 49.96 L541.87 49.50 L544.18 49.10 L546.50 48.77 L548.83 48.49 L551.17 48.28 L553.51 48.12 L555.85 48.03 L558.20 48.00 L560.55 48.03 L562.89 48.12 L565.23 48.28 L567.57 48.49 L569.90 48.77 L572.22 49.10 L574.53 49.50 L576.83 49.96 L579.12 50.48 L581.39 51.05 L583.65 51.69 L585.89 52.39 L588.11 53.14 L590.31 53.95 L592.49 54.82 L594.64 55.75 L596.77 56.73 L598.88 57.77 L600.95 58.86 L603.00 60.00 L605.02 61.20 L607.00 62.46 L608.95 63.76 L610.87 65.11 L612.75 66.52 L614.59 67.97 L616.39 69.47 L618.15 71.01 L619.88 72.61 L621.56 74.24 L623.19 75.92 L624.79 77.65 L626.33 79.41 L627.83 81.21 L629.28 83.05 L630.69 84.93 L632.04 86.85 L633.34 88.80 L634.60 90.78 L635.80 92.80 L636.94 94.85 L638.03 96.92 L639.07 99.03 L640.05 101.16 L640.98 103.31 L641.85 105.49 L642.66 107.69 L643.41 109.91 L644.11 112.15 L644.75 114.41 L645.32 116.68 L645.84 118.97 L646.30 121.27 L646.70 123.58 L647.03 125.90 L647.31 128.23 L647.52 130.57 L647.68 132.91 L647.77 135.25 L647.80 137.60 L638.20 137.60 L638.17 135.51 L638.09 133.41 L637.95 131.32 L637.76 129.24 L637.52 127.16 L637.20 125.09 L636.75 123.04 L636.18 121.03 L635.50 119.04 L634.73 117.09 L633.89 115.18 L632.97 113.31 L632.00 111.47 L630.99 109.66 L629.95 107.88 L628.89 106.13 L627.83 104.39 L626.77 102.66 L625.73 100.93 L624.71 99.20 L623.68 97.47 L622.61 95.77 L621.49 94.10 L620.33 92.46 L619.13 90.85 L617.88 89.27 L616.60 87.72 L615.27 86.21 L613.91 84.73 L612.51 83.29 L611.07 81.89 L609.59 80.53 L608.08 79.20 L606.53 77.92 L604.95 76.67 L603.34 75.47 L601.70 74.30 L600.05 73.15 L598.40 72.01 L596.73 70.87 L595.04 69.74 L593.34 68.63 L591.62 67.53 L589.88 66.46 L588.10 65.41 L586.30 64.39 L584.47 63.41 L582.61 62.47 L580.72 61.57 L578.80 60.72 L576.85 59.93 L574.86 59.20 L572.85 58.54 L570.82 57.95 L568.75 57.43 L566.67 57.00 L564.57 56.66 L562.46 56.41 L560.33 56.25 L558.20 56.20 L556.07 56.25 L553.94 56.41 L551.83 56.66 L549.73 57.00 L547.65 57.43 L545.58 57.95 L543.55 58.54 L541.54 59.20 L539.55 59.93 L537.60 60.72 L535.68 61.57 L533.79 62.47 L531.93 63.41 L530.10 64.39 L528.30 65.41 L526.52 66.46 L524.78 67.53 L523.06 68.63 L521.36 69.74 L519.67 70.87 L518.00 72.01 L516.35 73.15 L514.70 74.30 L513.06 75.47 L511.45 76.67 L509.87 77.92 L508.32 79.20 L506.81 80.53 L505.33 81.89 L503.89 83.29 L502.49 84.73 L501.13 86.21 L499.80 87.72 L498.52 89.27 L497.27 90.85 L496.07 92.46 L494.91 94.10 L493.79 95.77 L492.72 97.47 L491.69 99.20 L490.67 100.93 L489.63 102.66 L488.57 104.39 L487.51 106.13 L486.45 107.88 L485.41 109.66 L484.40 111.47 L483.43 113.31 L482.51 115.18 L481.67 117.09 L480.90 119.04 L480.22 121.03 L479.65 123.04 L479.20 125.09 L478.88 127.16 L478.64 129.24 L478.45 131.32 L478.31 133.41 L478.23 135.51 L478.20 137.60 Z" fill="#ffd800"/><path d="M468.60 137.60 L468.63 135.25 L468.72 132.91 L468.88 130.57 L469.09 128.23 L469.37 125.90 L469.70 123.58 L470.10 121.27 L470.56 118.97 L471.08 116.68 L471.65 114.41 L472.29 112.15 L472.99 109.91 L473.74 107.69 L474.55 105.49 L475.42 103.31 L476.35 101.16 L477.33 99.03 L478.37 96.92 L479.46 94.85 L480.60 92.80 L481.80 90.78 L483.06 88.80 L484.36 86.85 L485.71 84.93 L487.12 83.05 L488.57 81.21 L490.07 79.41 L491.61 77.65 L493.21 75.92 L494.84 74.24 L496.52 72.61 L498.25 71.01 L500.01 69.47 L501.81 67.97 L503.65 66.52 L505.53 65.11 L507.45 63.76 L509.40 62.46 L511.38 61.20 L513.40 60.00 L515.45 58.86 L517.52 57.77 L519.63 56.73 L521.76 55.75 L523.91 54.82 L526.09 53.95 L528.29 53.14 L530.51 52.39 L532.75 51.69 L535.01 51.05 L537.28 50.48 L539.57 49.96 L541.87 49.50 L544.18 49.10 L546.50 48.77 L548.83 48.49 L551.17 48.28 L553.51 48.12 L555.85 48.03 L558.20 48.00 L560.55 48.03 L562.89 48.12 L565.23 48.28 L567.57 48.49 L569.90 48.77 L572.22 49.10 L574.53 49.50 L576.83 49.96 L579.12 50.48 L581.39 51.05 L583.65 51.69 L585.89 52.39 L588.11 53.14 L590.31 53.95 L592.49 54.82 L594.64 55.75 L596.77 56.73 L598.88 57.77 L600.95 58.86 L603.00 60.00 L605.02 61.20 L607.00 62.46 L608.95 63.76 L610.87 65.11 L612.75 66.52 L614.59 67.97 L616.39 69.47 L618.15 71.01 L619.88 72.61 L621.56 74.24 L623.19 75.92 L624.79 77.65 L626.33 79.41 L627.83 81.21 L629.28 83.05 L630.69 84.93 L632.04 86.85 L633.34 88.80 L634.60 90.78 L635.80 92.80 L636.94 94.85 L638.03 96.92 L639.07 99.03 L640.05 101.16 L640.98 103.31 L641.85 105.49 L642.66 107.69 L643.41 109.91 L644.11 112.15 L644.75 114.41 L645.32 116.68 L645.84 118.97 L646.30 121.27 L646.70 123.58 L647.03 125.90 L647.31 128.23 L647.52 130.57 L647.68 132.91 L647.77 135.25 L647.80 137.60 L639.12 137.60 L639.10 135.48 L639.01 133.36 L638.87 131.25 L638.68 129.14 L638.43 127.04 L638.11 124.94 L637.67 122.87 L637.12 120.82 L636.47 118.81 L635.73 116.83 L634.91 114.88 L634.03 112.96 L633.10 111.08 L632.12 109.23 L631.11 107.40 L630.07 105.60 L629.03 103.82 L627.98 102.05 L626.93 100.28 L625.90 98.51 L624.85 96.76 L623.76 95.02 L622.62 93.32 L621.44 91.65 L620.22 90.01 L618.95 88.40 L617.64 86.83 L616.29 85.29 L614.90 83.79 L613.48 82.32 L612.01 80.90 L610.51 79.51 L608.97 78.16 L607.40 76.85 L605.79 75.58 L604.15 74.36 L602.48 73.17 L600.80 72.01 L599.10 70.85 L597.40 69.71 L595.67 68.59 L593.93 67.48 L592.16 66.40 L590.37 65.34 L588.56 64.31 L586.71 63.32 L584.84 62.37 L582.94 61.45 L581.01 60.59 L579.05 59.77 L577.07 59.02 L575.05 58.32 L573.01 57.69 L570.95 57.13 L568.86 56.64 L566.75 56.23 L564.63 55.90 L562.49 55.67 L560.35 55.52 L558.20 55.47 L556.05 55.52 L553.91 55.67 L551.77 55.90 L549.65 56.23 L547.54 56.64 L545.45 57.13 L543.39 57.69 L541.35 58.32 L539.33 59.02 L537.35 59.77 L535.39 60.59 L533.46 61.45 L531.56 62.37 L529.69 63.32 L527.84 64.31 L526.03 65.34 L524.24 66.40 L522.47 67.48 L520.73 68.59 L519.00 69.71 L517.30 70.85 L515.60 72.01 L513.92 73.17 L512.25 74.36 L510.61 75.58 L509.00 76.85 L507.43 78.16 L505.89 79.51 L504.39 80.90 L502.92 82.32 L501.50 83.79 L500.11 85.29 L498.76 86.83 L497.45 88.40 L496.18 90.01 L494.96 91.65 L493.78 93.32 L492.64 95.02 L491.55 96.76 L490.50 98.51 L489.47 100.28 L488.42 102.05 L487.37 103.82 L486.33 105.60 L485.29 107.40 L484.28 109.23 L483.30 111.08 L482.37 112.96 L481.49 114.88 L480.67 116.83 L479.93 118.81 L479.28 120.82 L478.73 122.87 L478.29 124.94 L477.97 127.04 L477.72 129.14 L477.53 131.25 L477.39 133.36 L477.30 135.48 L477.28 137.60 Z" fill="#f8f000"/><path d="M468.60 137.60 L468.63 135.25 L468.72 132.91 L468.88 130.57 L469.09 128.23 L469.37 125.90 L469.70 123.58 L470.10 121.27 L470.56 118.97 L471.08 116.68 L471.65 114.41 L472.29 112.15 L472.99 109.91 L473.74 107.69 L474.55 105.49 L475.42 103.31 L476.35 101.16 L477.33 99.03 L478.37 96.92 L479.46 94.85 L480.60 92.80 L481.80 90.78 L483.06 88.80 L484.36 86.85 L485.71 84.93 L487.12 83.05 L488.57 81.21 L490.07 79.41 L491.61 77.65 L493.21 75.92 L494.84 74.24 L496.52 72.61 L498.25 71.01 L500.01 69.47 L501.81 67.97 L503.65 66.52 L505.53 65.11 L507.45 63.76 L509.40 62.46 L511.38 61.20 L513.40 60.00 L515.45 58.86 L517.52 57.77 L519.63 56.73 L521.76 55.75 L523.91 54.82 L526.09 53.95 L528.29 53.14 L530.51 52.39 L532.75 51.69 L535.01 51.05 L537.28 50.48 L539.57 49.96 L541.87 49.50 L544.18 49.10 L546.50 48.77 L548.83 48.49 L551.17 48.28 L553.51 48.12 L555.85 48.03 L558.20 48.00 L560.55 48.03 L562.89 48.12 L565.23 48.28 L567.57 48.49 L569.90 48.77 L572.22 49.10 L574.53 49.50 L576.83 49.96 L579.12 50.48 L581.39 51.05 L583.65 51.69 L585.89 52.39 L588.11 53.14 L590.31 53.95 L592.49 54.82 L594.64 55.75 L596.77 56.73 L598.88 57.77 L600.95 58.86 L603.00 60.00 L605.02 61.20 L607.00 62.46 L608.95 63.76 L610.87 65.11 L612.75 66.52 L614.59 67.97 L616.39 69.47 L618.15 71.01 L619.88 72.61 L621.56 74.24 L623.19 75.92 L624.79 77.65 L626.33 79.41 L627.83 81.21 L629.28 83.05 L630.69 84.93 L632.04 86.85 L633.34 88.80 L634.60 90.78 L635.80 92.80 L636.94 94.85 L638.03 96.92 L639.07 99.03 L640.05 101.16 L640.98 103.31 L641.85 105.49 L642.66 107.69 L643.41 109.91 L644.11 112.15 L644.75 114.41 L645.32 116.68 L645.84 118.97 L646.30 121.27 L646.70 123.58 L647.03 125.90 L647.31 128.23 L647.52 130.57 L647.68 132.91 L647.77 135.25 L647.80 137.60 L639.92 137.60 L639.89 135.46 L639.80 133.32 L639.66 131.19 L639.47 129.06 L639.22 126.93 L638.90 124.82 L638.46 122.72 L637.93 120.65 L637.30 118.61 L636.58 116.60 L635.80 114.62 L634.94 112.66 L634.04 110.74 L633.08 108.85 L632.10 106.99 L631.08 105.15 L630.05 103.33 L629.01 101.52 L627.96 99.72 L626.92 97.93 L625.86 96.14 L624.75 94.38 L623.59 92.66 L622.39 90.96 L621.15 89.30 L619.86 87.66 L618.54 86.07 L617.17 84.51 L615.76 82.98 L614.31 81.49 L612.82 80.04 L611.29 78.63 L609.73 77.26 L608.14 75.94 L606.50 74.65 L604.84 73.41 L603.14 72.21 L601.43 71.03 L599.71 69.86 L597.97 68.72 L596.21 67.60 L594.43 66.50 L592.63 65.43 L590.80 64.38 L588.94 63.38 L587.07 62.40 L585.16 61.47 L583.22 60.59 L581.26 59.75 L579.27 58.96 L577.25 58.23 L575.21 57.56 L573.15 56.96 L571.06 56.42 L568.95 55.95 L566.82 55.57 L564.68 55.26 L562.53 55.03 L560.37 54.89 L558.20 54.85 L556.03 54.89 L553.87 55.03 L551.72 55.26 L549.58 55.57 L547.45 55.95 L545.34 56.42 L543.25 56.96 L541.19 57.56 L539.15 58.23 L537.13 58.96 L535.14 59.75 L533.18 60.59 L531.24 61.47 L529.33 62.40 L527.46 63.38 L525.60 64.38 L523.77 65.43 L521.97 66.50 L520.19 67.60 L518.43 68.72 L516.69 69.86 L514.97 71.03 L513.26 72.21 L511.56 73.41 L509.90 74.65 L508.26 75.94 L506.67 77.26 L505.11 78.63 L503.58 80.04 L502.09 81.49 L500.64 82.98 L499.23 84.51 L497.86 86.07 L496.54 87.66 L495.25 89.30 L494.01 90.96 L492.81 92.66 L491.65 94.38 L490.54 96.14 L489.48 97.93 L488.44 99.72 L487.39 101.52 L486.35 103.33 L485.32 105.15 L484.30 106.99 L483.32 108.85 L482.36 110.74 L481.46 112.66 L480.60 114.62 L479.82 116.60 L479.10 118.61 L478.47 120.65 L477.94 122.72 L477.50 124.82 L477.18 126.93 L476.93 129.06 L476.74 131.19 L476.60 133.32 L476.51 135.46 L476.48 137.60 Z" fill="#a0f000"/><path d="M468.60 137.60 L468.63 135.25 L468.72 132.91 L468.88 130.57 L469.09 128.23 L469.37 125.90 L469.70 123.58 L470.10 121.27 L470.56 118.97 L471.08 116.68 L471.65 114.41 L472.29 112.15 L472.99 109.91 L473.74 107.69 L474.55 105.49 L475.42 103.31 L476.35 101.16 L477.33 99.03 L478.37 96.92 L479.46 94.85 L480.60 92.80 L481.80 90.78 L483.06 88.80 L484.36 86.85 L485.71 84.93 L487.12 83.05 L488.57 81.21 L490.07 79.41 L491.61 77.65 L493.21 75.92 L494.84 74.24 L496.52 72.61 L498.25 71.01 L500.01 69.47 L501.81 67.97 L503.65 66.52 L505.53 65.11 L507.45 63.76 L509.40 62.46 L511.38 61.20 L513.40 60.00 L515.45 58.86 L517.52 57.77 L519.63 56.73 L521.76 55.75 L523.91 54.82 L526.09 53.95 L528.29 53.14 L530.51 52.39 L532.75 51.69 L535.01 51.05 L537.28 50.48 L539.57 49.96 L541.87 49.50 L544.18 49.10 L546.50 48.77 L548.83 48.49 L551.17 48.28 L553.51 48.12 L555.85 48.03 L558.20 48.00 L560.55 48.03 L562.89 48.12 L565.23 48.28 L567.57 48.49 L569.90 48.77 L572.22 49.10 L574.53 49.50 L576.83 49.96 L579.12 50.48 L581.39 51.05 L583.65 51.69 L585.89 52.39 L588.11 53.14 L590.31 53.95 L592.49 54.82 L594.64 55.75 L596.77 56.73 L598.88 57.77 L600.95 58.86 L603.00 60.00 L605.02 61.20 L607.00 62.46 L608.95 63.76 L610.87 65.11 L612.75 66.52 L614.59 67.97 L616.39 69.47 L618.15 71.01 L619.88 72.61 L621.56 74.24 L623.19 75.92 L624.79 77.65 L626.33 79.41 L627.83 81.21 L629.28 83.05 L630.69 84.93 L632.04 86.85 L633.34 88.80 L634.60 90.78 L635.80 92.80 L636.94 94.85 L638.03 96.92 L639.07 99.03 L640.05 101.16 L640.98 103.31 L641.85 105.49 L642.66 107.69 L643.41 109.91 L644.11 112.15 L644.75 114.41 L645.32 116.68 L645.84 118.97 L646.30 121.27 L646.70 123.58 L647.03 125.90 L647.31 128.23 L647.52 130.57 L647.68 132.91 L647.77 135.25 L647.80 137.60 L640.58 137.60 L640.55 135.44 L640.46 133.29 L640.32 131.14 L640.12 128.99 L639.87 126.85 L639.55 124.72 L639.12 122.60 L638.60 120.51 L637.99 118.44 L637.30 116.41 L636.53 114.40 L635.70 112.42 L634.82 110.47 L633.89 108.55 L632.92 106.65 L631.92 104.78 L630.90 102.92 L629.87 101.08 L628.82 99.26 L627.77 97.44 L626.69 95.63 L625.57 93.85 L624.40 92.10 L623.19 90.38 L621.93 88.70 L620.63 87.05 L619.28 85.43 L617.90 83.85 L616.47 82.31 L615.00 80.80 L613.49 79.33 L611.95 77.90 L610.37 76.52 L608.75 75.17 L607.10 73.87 L605.42 72.61 L603.70 71.40 L601.96 70.21 L600.21 69.04 L598.45 67.89 L596.66 66.77 L594.85 65.68 L593.01 64.62 L591.15 63.59 L589.27 62.59 L587.36 61.64 L585.42 60.73 L583.46 59.86 L581.47 59.05 L579.45 58.28 L577.41 57.58 L575.35 56.93 L573.26 56.35 L571.15 55.83 L569.02 55.39 L566.88 55.01 L564.72 54.72 L562.55 54.50 L560.38 54.37 L558.20 54.33 L556.02 54.37 L553.85 54.50 L551.68 54.72 L549.52 55.01 L547.38 55.39 L545.25 55.83 L543.14 56.35 L541.05 56.93 L538.99 57.58 L536.95 58.28 L534.93 59.05 L532.94 59.86 L530.98 60.73 L529.04 61.64 L527.13 62.59 L525.25 63.59 L523.39 64.62 L521.55 65.68 L519.74 66.77 L517.95 67.89 L516.19 69.04 L514.44 70.21 L512.70 71.40 L510.98 72.61 L509.30 73.87 L507.65 75.17 L506.03 76.52 L504.45 77.90 L502.91 79.33 L501.40 80.80 L499.93 82.31 L498.50 83.85 L497.12 85.43 L495.77 87.05 L494.47 88.70 L493.21 90.38 L492.00 92.10 L490.83 93.85 L489.71 95.63 L488.63 97.44 L487.58 99.26 L486.53 101.08 L485.50 102.92 L484.48 104.78 L483.48 106.65 L482.51 108.55 L481.58 110.47 L480.70 112.42 L479.87 114.40 L479.10 116.41 L478.41 118.44 L477.80 120.51 L477.28 122.60 L476.85 124.72 L476.53 126.85 L476.28 128.99 L476.08 131.14 L475.94 133.29 L475.85 135.44 L475.82 137.60 Z" fill="#30ec30"/><path d="M468.60 137.60 L468.63 135.25 L468.72 132.91 L468.88 130.57 L469.09 128.23 L469.37 125.90 L469.70 123.58 L470.10 121.27 L470.56 118.97 L471.08 116.68 L471.65 114.41 L472.29 112.15 L472.99 109.91 L473.74 107.69 L474.55 105.49 L475.42 103.31 L476.35 101.16 L477.33 99.03 L478.37 96.92 L479.46 94.85 L480.60 92.80 L481.80 90.78 L483.06 88.80 L484.36 86.85 L485.71 84.93 L487.12 83.05 L488.57 81.21 L490.07 79.41 L491.61 77.65 L493.21 75.92 L494.84 74.24 L496.52 72.61 L498.25 71.01 L500.01 69.47 L501.81 67.97 L503.65 66.52 L505.53 65.11 L507.45 63.76 L509.40 62.46 L511.38 61.20 L513.40 60.00 L515.45 58.86 L517.52 57.77 L519.63 56.73 L521.76 55.75 L523.91 54.82 L526.09 53.95 L528.29 53.14 L530.51 52.39 L532.75 51.69 L535.01 51.05 L537.28 50.48 L539.57 49.96 L541.87 49.50 L544.18 49.10 L546.50 48.77 L548.83 48.49 L551.17 48.28 L553.51 48.12 L555.85 48.03 L558.20 48.00 L560.55 48.03 L562.89 48.12 L565.23 48.28 L567.57 48.49 L569.90 48.77 L572.22 49.10 L574.53 49.50 L576.83 49.96 L579.12 50.48 L581.39 51.05 L583.65 51.69 L585.89 52.39 L588.11 53.14 L590.31 53.95 L592.49 54.82 L594.64 55.75 L596.77 56.73 L598.88 57.77 L600.95 58.86 L603.00 60.00 L605.02 61.20 L607.00 62.46 L608.95 63.76 L610.87 65.11 L612.75 66.52 L614.59 67.97 L616.39 69.47 L618.15 71.01 L619.88 72.61 L621.56 74.24 L623.19 75.92 L624.79 77.65 L626.33 79.41 L627.83 81.21 L629.28 83.05 L630.69 84.93 L632.04 86.85 L633.34 88.80 L634.60 90.78 L635.80 92.80 L636.94 94.85 L638.03 96.92 L639.07 99.03 L640.05 101.16 L640.98 103.31 L641.85 105.49 L642.66 107.69 L643.41 109.91 L644.11 112.15 L644.75 114.41 L645.32 116.68 L645.84 118.97 L646.30 121.27 L646.70 123.58 L647.03 125.90 L647.31 128.23 L647.52 130.57 L647.68 132.91 L647.77 135.25 L647.80 137.60 L641.30 137.60 L641.27 135.42 L641.19 133.25 L641.05 131.08 L640.85 128.91 L640.59 126.75 L640.27 124.60 L639.85 122.47 L639.34 120.35 L638.75 118.26 L638.08 116.20 L637.34 114.16 L636.54 112.15 L635.68 110.16 L634.78 108.20 L633.83 106.27 L632.85 104.36 L631.84 102.47 L630.81 100.60 L629.76 98.75 L628.70 96.90 L627.61 95.07 L626.47 93.26 L625.29 91.49 L624.06 89.75 L622.78 88.04 L621.46 86.37 L620.10 84.73 L618.70 83.13 L617.25 81.56 L615.76 80.04 L614.24 78.55 L612.67 77.10 L611.07 75.70 L609.43 74.34 L607.76 73.02 L606.05 71.74 L604.31 70.51 L602.55 69.31 L600.77 68.13 L598.97 66.98 L597.15 65.86 L595.30 64.78 L593.44 63.73 L591.54 62.71 L589.62 61.73 L587.68 60.80 L585.71 59.91 L583.72 59.07 L581.70 58.28 L579.65 57.54 L577.58 56.86 L575.49 56.24 L573.38 55.68 L571.25 55.18 L569.11 54.76 L566.94 54.40 L564.77 54.12 L562.59 53.92 L560.39 53.80 L558.20 53.76 L556.01 53.80 L553.81 53.92 L551.63 54.12 L549.46 54.40 L547.29 54.76 L545.15 55.18 L543.02 55.68 L540.91 56.24 L538.82 56.86 L536.75 57.54 L534.70 58.28 L532.68 59.07 L530.69 59.91 L528.72 60.80 L526.78 61.73 L524.86 62.71 L522.96 63.73 L521.10 64.78 L519.25 65.86 L517.43 66.98 L515.63 68.13 L513.85 69.31 L512.09 70.51 L510.35 71.74 L508.64 73.02 L506.97 74.34 L505.33 75.70 L503.73 77.10 L502.16 78.55 L500.64 80.04 L499.15 81.56 L497.70 83.13 L496.30 84.73 L494.94 86.37 L493.62 88.04 L492.34 89.75 L491.11 91.49 L489.93 93.26 L488.79 95.07 L487.70 96.90 L486.64 98.75 L485.59 100.60 L484.56 102.47 L483.55 104.36 L482.57 106.27 L481.62 108.20 L480.72 110.16 L479.86 112.15 L479.06 114.16 L478.32 116.20 L477.65 118.26 L477.06 120.35 L476.55 122.47 L476.13 124.60 L475.81 126.75 L475.55 128.91 L475.35 131.08 L475.21 133.25 L475.13 135.42 L475.10 137.60 Z" fill="#00f0a0"/><path d="M468.60 137.60 L468.63 135.25 L468.72 132.91 L468.88 130.57 L469.09 128.23 L469.37 125.90 L469.70 123.58 L470.10 121.27 L470.56 118.97 L471.08 116.68 L471.65 114.41 L472.29 112.15 L472.99 109.91 L473.74 107.69 L474.55 105.49 L475.42 103.31 L476.35 101.16 L477.33 99.03 L478.37 96.92 L479.46 94.85 L480.60 92.80 L481.80 90.78 L483.06 88.80 L484.36 86.85 L485.71 84.93 L487.12 83.05 L488.57 81.21 L490.07 79.41 L491.61 77.65 L493.21 75.92 L494.84 74.24 L496.52 72.61 L498.25 71.01 L500.01 69.47 L501.81 67.97 L503.65 66.52 L505.53 65.11 L507.45 63.76 L509.40 62.46 L511.38 61.20 L513.40 60.00 L515.45 58.86 L517.52 57.77 L519.63 56.73 L521.76 55.75 L523.91 54.82 L526.09 53.95 L528.29 53.14 L530.51 52.39 L532.75 51.69 L535.01 51.05 L537.28 50.48 L539.57 49.96 L541.87 49.50 L544.18 49.10 L546.50 48.77 L548.83 48.49 L551.17 48.28 L553.51 48.12 L555.85 48.03 L558.20 48.00 L560.55 48.03 L562.89 48.12 L565.23 48.28 L567.57 48.49 L569.90 48.77 L572.22 49.10 L574.53 49.50 L576.83 49.96 L579.12 50.48 L581.39 51.05 L583.65 51.69 L585.89 52.39 L588.11 53.14 L590.31 53.95 L592.49 54.82 L594.64 55.75 L596.77 56.73 L598.88 57.77 L600.95 58.86 L603.00 60.00 L605.02 61.20 L607.00 62.46 L608.95 63.76 L610.87 65.11 L612.75 66.52 L614.59 67.97 L616.39 69.47 L618.15 71.01 L619.88 72.61 L621.56 74.24 L623.19 75.92 L624.79 77.65 L626.33 79.41 L627.83 81.21 L629.28 83.05 L630.69 84.93 L632.04 86.85 L633.34 88.80 L634.60 90.78 L635.80 92.80 L636.94 94.85 L638.03 96.92 L639.07 99.03 L640.05 101.16 L640.98 103.31 L641.85 105.49 L642.66 107.69 L643.41 109.91 L644.11 112.15 L644.75 114.41 L645.32 116.68 L645.84 118.97 L646.30 121.27 L646.70 123.58 L647.03 125.90 L647.31 128.23 L647.52 130.57 L647.68 132.91 L647.77 135.25 L647.80 137.60 L641.96 137.60 L641.93 135.41 L641.85 133.22 L641.70 131.03 L641.50 128.84 L641.25 126.67 L640.92 124.50 L640.51 122.34 L640.01 120.21 L639.44 118.10 L638.79 116.01 L638.07 113.94 L637.30 111.90 L636.46 109.88 L635.58 107.90 L634.66 105.93 L633.69 103.99 L632.70 102.07 L631.67 100.17 L630.62 98.28 L629.55 96.41 L628.45 94.55 L627.29 92.73 L626.10 90.94 L624.85 89.17 L623.56 87.45 L622.23 85.75 L620.85 84.09 L619.42 82.47 L617.96 80.89 L616.46 79.34 L614.91 77.84 L613.33 76.38 L611.71 74.95 L610.05 73.57 L608.35 72.24 L606.63 70.95 L604.86 69.70 L603.08 68.49 L601.28 67.31 L599.45 66.16 L597.60 65.04 L595.72 63.96 L593.82 62.92 L591.90 61.91 L589.95 60.95 L587.97 60.04 L585.97 59.17 L583.95 58.35 L581.90 57.58 L579.83 56.86 L577.74 56.20 L575.63 55.61 L573.50 55.07 L571.35 54.60 L569.18 54.19 L567.00 53.85 L564.81 53.59 L562.61 53.39 L560.41 53.28 L558.20 53.24 L555.99 53.28 L553.79 53.39 L551.59 53.59 L549.40 53.85 L547.22 54.19 L545.05 54.60 L542.90 55.07 L540.77 55.61 L538.66 56.20 L536.57 56.86 L534.50 57.58 L532.45 58.35 L530.43 59.17 L528.43 60.04 L526.45 60.95 L524.50 61.91 L522.58 62.92 L520.68 63.96 L518.80 65.04 L516.95 66.16 L515.12 67.31 L513.32 68.49 L511.54 69.70 L509.77 70.95 L508.05 72.24 L506.35 73.57 L504.69 74.95 L503.07 76.38 L501.49 77.84 L499.94 79.34 L498.44 80.89 L496.98 82.47 L495.55 84.09 L494.17 85.75 L492.84 87.45 L491.55 89.17 L490.30 90.94 L489.11 92.73 L487.95 94.55 L486.85 96.41 L485.78 98.28 L484.73 100.17 L483.70 102.07 L482.71 103.99 L481.74 105.93 L480.82 107.90 L479.94 109.88 L479.10 111.90 L478.33 113.94 L477.61 116.01 L476.96 118.10 L476.39 120.21 L475.89 122.34 L475.48 124.50 L475.15 126.67 L474.90 128.84 L474.70 131.03 L474.55 133.22 L474.47 135.41 L474.44 137.60 Z" fill="#00e8e8"/><path d="M468.60 137.60 L468.63 135.25 L468.72 132.91 L468.88 130.57 L469.09 128.23 L469.37 125.90 L469.70 123.58 L470.10 121.27 L470.56 118.97 L471.08 116.68 L471.65 114.41 L472.29 112.15 L472.99 109.91 L473.74 107.69 L474.55 105.49 L475.42 103.31 L476.35 101.16 L477.33 99.03 L478.37 96.92 L479.46 94.85 L480.60 92.80 L481.80 90.78 L483.06 88.80 L484.36 86.85 L485.71 84.93 L487.12 83.05 L488.57 81.21 L490.07 79.41 L491.61 77.65 L493.21 75.92 L494.84 74.24 L496.52 72.61 L498.25 71.01 L500.01 69.47 L501.81 67.97 L503.65 66.52 L505.53 65.11 L507.45 63.76 L509.40 62.46 L511.38 61.20 L513.40 60.00 L515.45 58.86 L517.52 57.77 L519.63 56.73 L521.76 55.75 L523.91 54.82 L526.09 53.95 L528.29 53.14 L530.51 52.39 L532.75 51.69 L535.01 51.05 L537.28 50.48 L539.57 49.96 L541.87 49.50 L544.18 49.10 L546.50 48.77 L548.83 48.49 L551.17 48.28 L553.51 48.12 L555.85 48.03 L558.20 48.00 L560.55 48.03 L562.89 48.12 L565.23 48.28 L567.57 48.49 L569.90 48.77 L572.22 49.10 L574.53 49.50 L576.83 49.96 L579.12 50.48 L581.39 51.05 L583.65 51.69 L585.89 52.39 L588.11 53.14 L590.31 53.95 L592.49 54.82 L594.64 55.75 L596.77 56.73 L598.88 57.77 L600.95 58.86 L603.00 60.00 L605.02 61.20 L607.00 62.46 L608.95 63.76 L610.87 65.11 L612.75 66.52 L614.59 67.97 L616.39 69.47 L618.15 71.01 L619.88 72.61 L621.56 74.24 L623.19 75.92 L624.79 77.65 L626.33 79.41 L627.83 81.21 L629.28 83.05 L630.69 84.93 L632.04 86.85 L633.34 88.80 L634.60 90.78 L635.80 92.80 L636.94 94.85 L638.03 96.92 L639.07 99.03 L640.05 101.16 L640.98 103.31 L641.85 105.49 L642.66 107.69 L643.41 109.91 L644.11 112.15 L644.75 114.41 L645.32 116.68 L645.84 118.97 L646.30 121.27 L646.70 123.58 L647.03 125.90 L647.31 128.23 L647.52 130.57 L647.68 132.91 L647.77 135.25 L647.80 137.60 L642.62 137.60 L642.59 135.39 L642.51 133.18 L642.36 130.98 L642.16 128.78 L641.90 126.58 L641.58 124.39 L641.17 122.22 L640.69 120.07 L640.13 117.93 L639.50 115.82 L638.81 113.72 L638.06 111.65 L637.25 109.61 L636.39 107.59 L635.48 105.59 L634.53 103.61 L633.55 101.66 L632.53 99.73 L631.48 97.81 L630.40 95.92 L629.28 94.04 L628.12 92.20 L626.90 90.38 L625.64 88.60 L624.34 86.85 L622.99 85.14 L621.59 83.46 L620.15 81.82 L618.67 80.21 L617.15 78.65 L615.59 77.13 L613.98 75.65 L612.34 74.21 L610.66 72.81 L608.95 71.46 L607.20 70.16 L605.42 68.90 L603.61 67.67 L601.78 66.48 L599.93 65.33 L598.04 64.22 L596.14 63.14 L594.21 62.11 L592.25 61.12 L590.27 60.17 L588.27 59.27 L586.24 58.42 L584.19 57.62 L582.11 56.88 L580.01 56.19 L577.90 55.55 L575.76 54.97 L573.61 54.46 L571.44 54.01 L569.26 53.62 L567.06 53.30 L564.85 53.05 L562.64 52.86 L560.42 52.75 L558.20 52.72 L555.98 52.75 L553.76 52.86 L551.55 53.05 L549.34 53.30 L547.14 53.62 L544.96 54.01 L542.79 54.46 L540.64 54.97 L538.50 55.55 L536.39 56.19 L534.29 56.88 L532.21 57.62 L530.16 58.42 L528.13 59.27 L526.13 60.17 L524.15 61.12 L522.19 62.11 L520.26 63.14 L518.36 64.22 L516.47 65.33 L514.62 66.48 L512.79 67.67 L510.98 68.90 L509.20 70.16 L507.45 71.46 L505.74 72.81 L504.06 74.21 L502.42 75.65 L500.81 77.13 L499.25 78.65 L497.73 80.21 L496.25 81.82 L494.81 83.46 L493.41 85.14 L492.06 86.85 L490.76 88.60 L489.50 90.38 L488.28 92.20 L487.12 94.04 L486.00 95.92 L484.92 97.81 L483.87 99.73 L482.85 101.66 L481.87 103.61 L480.92 105.59 L480.01 107.59 L479.15 109.61 L478.34 111.65 L477.59 113.72 L476.90 115.82 L476.27 117.93 L475.71 120.07 L475.23 122.22 L474.82 124.39 L474.50 126.58 L474.24 128.78 L474.04 130.98 L473.89 133.18 L473.81 135.39 L473.78 137.60 Z" fill="#00b0ff"/><path d="M468.60 137.60 L468.63 135.25 L468.72 132.91 L468.88 130.57 L469.09 128.23 L469.37 125.90 L469.70 123.58 L470.10 121.27 L470.56 118.97 L471.08 116.68 L471.65 114.41 L472.29 112.15 L472.99 109.91 L473.74 107.69 L474.55 105.49 L475.42 103.31 L476.35 101.16 L477.33 99.03 L478.37 96.92 L479.46 94.85 L480.60 92.80 L481.80 90.78 L483.06 88.80 L484.36 86.85 L485.71 84.93 L487.12 83.05 L488.57 81.21 L490.07 79.41 L491.61 77.65 L493.21 75.92 L494.84 74.24 L496.52 72.61 L498.25 71.01 L500.01 69.47 L501.81 67.97 L503.65 66.52 L505.53 65.11 L507.45 63.76 L509.40 62.46 L511.38 61.20 L513.40 60.00 L515.45 58.86 L517.52 57.77 L519.63 56.73 L521.76 55.75 L523.91 54.82 L526.09 53.95 L528.29 53.14 L530.51 52.39 L532.75 51.69 L535.01 51.05 L537.28 50.48 L539.57 49.96 L541.87 49.50 L544.18 49.10 L546.50 48.77 L548.83 48.49 L551.17 48.28 L553.51 48.12 L555.85 48.03 L558.20 48.00 L560.55 48.03 L562.89 48.12 L565.23 48.28 L567.57 48.49 L569.90 48.77 L572.22 49.10 L574.53 49.50 L576.83 49.96 L579.12 50.48 L581.39 51.05 L583.65 51.69 L585.89 52.39 L588.11 53.14 L590.31 53.95 L592.49 54.82 L594.64 55.75 L596.77 56.73 L598.88 57.77 L600.95 58.86 L603.00 60.00 L605.02 61.20 L607.00 62.46 L608.95 63.76 L610.87 65.11 L612.75 66.52 L614.59 67.97 L616.39 69.47 L618.15 71.01 L619.88 72.61 L621.56 74.24 L623.19 75.92 L624.79 77.65 L626.33 79.41 L627.83 81.21 L629.28 83.05 L630.69 84.93 L632.04 86.85 L633.34 88.80 L634.60 90.78 L635.80 92.80 L636.94 94.85 L638.03 96.92 L639.07 99.03 L640.05 101.16 L640.98 103.31 L641.85 105.49 L642.66 107.69 L643.41 109.91 L644.11 112.15 L644.75 114.41 L645.32 116.68 L645.84 118.97 L646.30 121.27 L646.70 123.58 L647.03 125.90 L647.31 128.23 L647.52 130.57 L647.68 132.91 L647.77 135.25 L647.80 137.60 L643.15 137.60 L643.12 135.38 L643.03 133.15 L642.89 130.93 L642.68 128.72 L642.42 126.51 L642.10 124.31 L641.70 122.12 L641.23 119.95 L640.68 117.80 L640.07 115.66 L639.40 113.55 L638.66 111.46 L637.87 109.39 L637.03 107.34 L636.14 105.31 L635.21 103.31 L634.23 101.34 L633.21 99.38 L632.16 97.44 L631.08 95.53 L629.95 93.63 L628.77 91.77 L627.55 89.94 L626.28 88.14 L624.96 86.37 L623.60 84.64 L622.19 82.95 L620.74 81.29 L619.24 79.67 L617.70 78.10 L616.13 76.56 L614.51 75.06 L612.85 73.61 L611.16 72.20 L609.43 70.84 L607.66 69.52 L605.86 68.25 L604.04 67.02 L602.19 65.82 L600.31 64.67 L598.40 63.56 L596.47 62.49 L594.52 61.46 L592.54 60.48 L590.53 59.55 L588.50 58.66 L586.45 57.83 L584.37 57.05 L582.28 56.32 L580.16 55.64 L578.02 55.03 L575.87 54.47 L573.70 53.97 L571.51 53.54 L569.32 53.16 L567.11 52.86 L564.89 52.61 L562.66 52.44 L560.43 52.34 L558.20 52.30 L555.97 52.34 L553.74 52.44 L551.51 52.61 L549.29 52.86 L547.08 53.16 L544.89 53.54 L542.70 53.97 L540.53 54.47 L538.38 55.03 L536.24 55.64 L534.12 56.32 L532.03 57.05 L529.95 57.83 L527.90 58.66 L525.87 59.55 L523.86 60.48 L521.88 61.46 L519.93 62.49 L518.00 63.56 L516.09 64.67 L514.21 65.82 L512.36 67.02 L510.54 68.25 L508.74 69.52 L506.97 70.84 L505.24 72.20 L503.55 73.61 L501.89 75.06 L500.27 76.56 L498.70 78.10 L497.16 79.67 L495.66 81.29 L494.21 82.95 L492.80 84.64 L491.44 86.37 L490.12 88.14 L488.85 89.94 L487.63 91.77 L486.45 93.63 L485.32 95.53 L484.24 97.44 L483.19 99.38 L482.17 101.34 L481.19 103.31 L480.26 105.31 L479.37 107.34 L478.53 109.39 L477.74 111.46 L477.00 113.55 L476.33 115.66 L475.72 117.80 L475.17 119.95 L474.70 122.12 L474.30 124.31 L473.98 126.51 L473.72 128.72 L473.51 130.93 L473.37 133.15 L473.28 135.38 L473.25 137.60 Z" fill="#0068ff"/><path d="M468.60 137.60 L468.63 135.25 L468.72 132.91 L468.88 130.57 L469.09 128.23 L469.37 125.90 L469.70 123.58 L470.10 121.27 L470.56 118.97 L471.08 116.68 L471.65 114.41 L472.29 112.15 L472.99 109.91 L473.74 107.69 L474.55 105.49 L475.42 103.31 L476.35 101.16 L477.33 99.03 L478.37 96.92 L479.46 94.85 L480.60 92.80 L481.80 90.78 L483.06 88.80 L484.36 86.85 L485.71 84.93 L487.12 83.05 L488.57 81.21 L490.07 79.41 L491.61 77.65 L493.21 75.92 L494.84 74.24 L496.52 72.61 L498.25 71.01 L500.01 69.47 L501.81 67.97 L503.65 66.52 L505.53 65.11 L507.45 63.76 L509.40 62.46 L511.38 61.20 L513.40 60.00 L515.45 58.86 L517.52 57.77 L519.63 56.73 L521.76 55.75 L523.91 54.82 L526.09 53.95 L528.29 53.14 L530.51 52.39 L532.75 51.69 L535.01 51.05 L537.28 50.48 L539.57 49.96 L541.87 49.50 L544.18 49.10 L546.50 48.77 L548.83 48.49 L551.17 48.28 L553.51 48.12 L555.85 48.03 L558.20 48.00 L560.55 48.03 L562.89 48.12 L565.23 48.28 L567.57 48.49 L569.90 48.77 L572.22 49.10 L574.53 49.50 L576.83 49.96 L579.12 50.48 L581.39 51.05 L583.65 51.69 L585.89 52.39 L588.11 53.14 L590.31 53.95 L592.49 54.82 L594.64 55.75 L596.77 56.73 L598.88 57.77 L600.95 58.86 L603.00 60.00 L605.02 61.20 L607.00 62.46 L608.95 63.76 L610.87 65.11 L612.75 66.52 L614.59 67.97 L616.39 69.47 L618.15 71.01 L619.88 72.61 L621.56 74.24 L623.19 75.92 L624.79 77.65 L626.33 79.41 L627.83 81.21 L629.28 83.05 L630.69 84.93 L632.04 86.85 L633.34 88.80 L634.60 90.78 L635.80 92.80 L636.94 94.85 L638.03 96.92 L639.07 99.03 L640.05 101.16 L640.98 103.31 L641.85 105.49 L642.66 107.69 L643.41 109.91 L644.11 112.15 L644.75 114.41 L645.32 116.68 L645.84 118.97 L646.30 121.27 L646.70 123.58 L647.03 125.90 L647.31 128.23 L647.52 130.57 L647.68 132.91 L647.77 135.25 L647.80 137.60 L643.68 137.60 L643.65 135.36 L643.56 133.13 L643.41 130.89 L643.21 128.67 L642.95 126.44 L642.62 124.23 L642.23 122.03 L641.76 119.84 L641.23 117.67 L640.64 115.51 L639.98 113.37 L639.27 111.26 L638.50 109.16 L637.68 107.09 L636.80 105.04 L635.88 103.01 L634.91 101.01 L633.90 99.03 L632.85 97.07 L631.76 95.13 L630.62 93.22 L629.43 91.34 L628.20 89.49 L626.91 87.68 L625.58 85.90 L624.21 84.15 L622.78 82.44 L621.32 80.77 L619.81 79.14 L618.26 77.54 L616.66 75.99 L615.03 74.48 L613.36 73.02 L611.65 71.59 L609.90 70.22 L608.12 68.89 L606.31 67.60 L604.46 66.36 L602.59 65.16 L600.69 64.01 L598.76 62.90 L596.81 61.83 L594.83 60.81 L592.82 59.84 L590.79 58.92 L588.74 58.05 L586.66 57.23 L584.56 56.47 L582.44 55.76 L580.31 55.10 L578.15 54.50 L575.98 53.97 L573.79 53.49 L571.59 53.07 L569.38 52.71 L567.15 52.41 L564.92 52.18 L562.69 52.02 L560.44 51.92 L558.20 51.88 L555.96 51.92 L553.71 52.02 L551.48 52.18 L549.25 52.41 L547.02 52.71 L544.81 53.07 L542.61 53.49 L540.42 53.97 L538.25 54.50 L536.09 55.10 L533.96 55.76 L531.84 56.47 L529.74 57.23 L527.66 58.05 L525.61 58.92 L523.58 59.84 L521.57 60.81 L519.59 61.83 L517.64 62.90 L515.71 64.01 L513.81 65.16 L511.94 66.36 L510.09 67.60 L508.28 68.89 L506.50 70.22 L504.75 71.59 L503.04 73.02 L501.37 74.48 L499.74 75.99 L498.14 77.54 L496.59 79.14 L495.08 80.77 L493.62 82.44 L492.19 84.15 L490.82 85.90 L489.49 87.68 L488.20 89.49 L486.97 91.34 L485.78 93.22 L484.64 95.13 L483.55 97.07 L482.50 99.03 L481.49 101.01 L480.52 103.01 L479.60 105.04 L478.72 107.09 L477.90 109.16 L477.13 111.26 L476.42 113.37 L475.76 115.51 L475.17 117.67 L474.64 119.84 L474.17 122.03 L473.78 124.23 L473.45 126.44 L473.19 128.67 L472.99 130.89 L472.84 133.13 L472.75 135.36 L472.72 137.60 Z" fill="#1038f8"/></g><path d="M503.00 85.00 C503.33 85.42 504.33 87.50 505.00 87.50 C505.67 87.50 506.67 85.42 507.00 85.00" fill="none" stroke="#70e800" stroke-width="2.50" stroke-linecap="round" stroke-linejoin="round" filter="url(#b08)"/><path d="M613.40 85.00 C613.07 85.42 612.07 87.50 611.40 87.50 C610.73 87.50 609.73 85.42 609.40 85.00" fill="none" stroke="#70e800" stroke-width="2.50" stroke-linecap="round" stroke-linejoin="round" filter="url(#b08)"/><path d="M473.58 137.60 C473.66 136.13 473.72 131.68 474.04 128.75 C474.37 125.83 474.83 122.89 475.51 120.02 C476.19 117.16 477.10 114.33 478.12 111.58 C479.13 108.83 480.34 106.14 481.61 103.50 C482.88 100.87 484.26 98.28 485.75 95.77 C487.23 93.26 488.80 90.78 490.52 88.43 C492.23 86.07 494.08 83.79 496.03 81.62 C497.98 79.45 500.05 77.38 502.22 75.43 C504.39 73.48 506.67 71.64 509.03 69.92 C511.38 68.19 513.83 66.59 516.33 65.08 C518.83 63.58 521.41 62.16 524.04 60.88 C526.68 59.60 529.38 58.42 532.14 57.41 C534.90 56.39 537.73 55.50 540.60 54.79 C543.46 54.07 546.39 53.50 549.32 53.13 C552.26 52.76 556.72 52.66 558.20 52.56" fill="none" stroke="#204060" stroke-width="0.40" stroke-linecap="round" stroke-linejoin="round" opacity="0.35"/><path d="M642.82 137.60 C642.74 136.13 642.68 131.68 642.36 128.75 C642.03 125.83 641.57 122.89 640.89 120.02 C640.21 117.16 639.30 114.33 638.28 111.58 C637.27 108.83 636.06 106.14 634.79 103.50 C633.52 100.87 632.14 98.28 630.65 95.77 C629.17 93.26 627.60 90.78 625.88 88.43 C624.17 86.07 622.32 83.79 620.37 81.62 C618.42 79.45 616.35 77.38 614.18 75.43 C612.01 73.48 609.73 71.64 607.37 69.92 C605.02 68.19 602.57 66.59 600.07 65.08 C597.57 63.58 594.99 62.16 592.36 60.88 C589.72 59.60 587.02 58.42 584.26 57.41 C581.50 56.39 578.67 55.50 575.80 54.79 C572.94 54.07 570.01 53.50 567.08 53.13 C564.14 52.76 559.68 52.66 558.20 52.56" fill="none" stroke="#204060" stroke-width="0.40" stroke-linecap="round" stroke-linejoin="round" opacity="0.35"/><path d="M475.03 137.60 C475.11 136.15 475.16 131.78 475.49 128.91 C475.81 126.03 476.27 123.14 476.99 120.34 C477.71 117.54 478.71 114.79 479.79 112.12 C480.87 109.45 482.16 106.87 483.46 104.33 C484.77 101.78 486.15 99.29 487.62 96.85 C489.08 94.41 490.59 91.99 492.26 89.69 C493.93 87.40 495.73 85.17 497.63 83.06 C499.53 80.95 501.55 78.93 503.66 77.03 C505.77 75.13 508.01 73.35 510.29 71.66 C512.58 69.97 514.96 68.41 517.38 66.90 C519.80 65.40 522.28 63.95 524.82 62.63 C527.37 61.31 529.98 60.07 532.66 59.00 C535.34 57.92 538.09 56.95 540.89 56.17 C543.69 55.40 546.57 54.76 549.45 54.35 C552.33 53.94 556.74 53.81 558.20 53.70" fill="none" stroke="#204060" stroke-width="0.40" stroke-linecap="round" stroke-linejoin="round" opacity="0.35"/><path d="M641.37 137.60 C641.29 136.15 641.24 131.78 640.91 128.91 C640.59 126.03 640.13 123.14 639.41 120.34 C638.69 117.54 637.69 114.79 636.61 112.12 C635.53 109.45 634.24 106.87 632.94 104.33 C631.63 101.78 630.25 99.29 628.78 96.85 C627.32 94.41 625.81 91.99 624.14 89.69 C622.47 87.40 620.67 85.17 618.77 83.06 C616.87 80.95 614.85 78.93 612.74 77.03 C610.63 75.13 608.39 73.35 606.11 71.66 C603.82 69.97 601.44 68.41 599.02 66.90 C596.60 65.40 594.12 63.95 591.58 62.63 C589.03 61.31 586.42 60.07 583.74 59.00 C581.06 57.92 578.31 56.95 575.51 56.17 C572.71 55.40 569.83 54.76 566.95 54.35 C564.07 53.94 559.66 53.81 558.20 53.70" fill="none" stroke="#204060" stroke-width="0.40" stroke-linecap="round" stroke-linejoin="round" opacity="0.35"/><path d="M476.62 137.60 C476.69 136.18 476.73 131.89 477.06 129.07 C477.39 126.25 477.85 123.41 478.61 120.68 C479.36 117.96 480.46 115.29 481.61 112.71 C482.75 110.14 484.14 107.67 485.49 105.23 C486.83 102.78 488.21 100.38 489.65 98.02 C491.10 95.67 492.54 93.31 494.16 91.08 C495.79 88.84 497.53 86.69 499.38 84.64 C501.22 82.59 503.19 80.62 505.24 78.78 C507.29 76.93 509.46 75.21 511.68 73.56 C513.89 71.92 516.19 70.39 518.53 68.88 C520.86 67.38 523.22 65.90 525.67 64.54 C528.12 63.18 530.63 61.87 533.22 60.73 C535.81 59.59 538.49 58.53 541.21 57.69 C543.94 56.85 546.76 56.13 549.59 55.68 C552.42 55.22 556.76 55.07 558.20 54.95" fill="none" stroke="#204060" stroke-width="0.40" stroke-linecap="round" stroke-linejoin="round" opacity="0.35"/><path d="M639.78 137.60 C639.71 136.18 639.67 131.89 639.34 129.07 C639.01 126.25 638.55 123.41 637.79 120.68 C637.04 117.96 635.94 115.29 634.79 112.71 C633.65 110.14 632.26 107.67 630.91 105.23 C629.57 102.78 628.19 100.38 626.75 98.02 C625.30 95.67 623.86 93.31 622.24 91.08 C620.61 88.84 618.87 86.69 617.02 84.64 C615.18 82.59 613.21 80.62 611.16 78.78 C609.11 76.93 606.94 75.21 604.72 73.56 C602.51 71.92 600.21 70.39 597.87 68.88 C595.54 67.38 593.18 65.90 590.73 64.54 C588.28 63.18 585.77 61.87 583.18 60.73 C580.59 59.59 577.91 58.53 575.19 57.69 C572.46 56.85 569.64 56.13 566.81 55.68 C563.98 55.22 559.64 55.07 558.20 54.95" fill="none" stroke="#204060" stroke-width="0.40" stroke-linecap="round" stroke-linejoin="round" opacity="0.35"/><path d="M508.00 138.60 A50.20 50.20 0 0 1 608.40 138.60" fill="none" stroke="#ffe000" stroke-width="2.50" opacity="0.70" filter="url(#b08)"/><path d="M509.20 138.60 A49.00 49.00 0 0 1 607.20 138.60" fill="none" stroke="#ff7000" stroke-width="1.00"/><path d="M510.00 138.60 A48.20 48.20 0 0 1 606.40 138.60" fill="none" stroke="#d82000" stroke-width="1.10"/><path d="M557.20 89.80L554.20 56.00" stroke="#ff7000" stroke-width="2.0" filter="url(#b08)"/><path d="M557.20 89.80L554.20 56.00" stroke="#e03000" stroke-width="0.9"/><path d="M551.20 55.00L554.20 57.50L557.20 55.00" stroke="#f06000" stroke-width="0.9" fill="none" opacity="0.8"/><path d="M553.70 90.30 L557.20 86.80 L561.70 90.30 Z" fill="#f02000" filter="url(#b05)"/><path d="M483.00 135.00 C483.33 133.17 484.00 127.83 485.00 124.00 C486.00 120.17 488.00 115.50 489.00 112.00 C490.00 108.50 489.67 105.83 491.00 103.00 C492.33 100.17 495.17 97.08 497.00 95.00 C498.83 92.92 500.50 90.75 502.00 90.50 C503.50 90.25 505.17 91.92 506.00 93.50 C506.83 95.08 507.50 98.42 507.00 100.00 C506.50 101.58 504.33 102.83 503.00 103.00 C501.67 103.17 500.00 100.50 499.00 101.00 C498.00 101.50 497.67 103.17 497.00 106.00 C496.33 108.83 495.67 114.33 495.00 118.00 C494.33 121.67 493.50 125.00 493.00 128.00 C492.50 131.00 492.17 134.67 492.00 136.00" fill="none" stroke="#8a6000" stroke-width="0.50" stroke-linecap="round" stroke-linejoin="round" opacity="0.60"/><path d="M633.40 135.00 C633.07 133.17 632.40 127.83 631.40 124.00 C630.40 120.17 628.40 115.50 627.40 112.00 C626.40 108.50 626.73 105.83 625.40 103.00 C624.07 100.17 621.23 97.08 619.40 95.00 C617.57 92.92 615.90 90.75 614.40 90.50 C612.90 90.25 611.23 91.92 610.40 93.50 C609.57 95.08 608.90 98.42 609.40 100.00 C609.90 101.58 612.07 102.83 613.40 103.00 C614.73 103.17 616.40 100.50 617.40 101.00 C618.40 101.50 618.73 103.17 619.40 106.00 C620.07 108.83 620.73 114.33 621.40 118.00 C622.07 121.67 622.90 125.00 623.40 128.00 C623.90 131.00 624.23 134.67 624.40 136.00" fill="none" stroke="#8a6000" stroke-width="0.50" stroke-linecap="round" stroke-linejoin="round" opacity="0.60"/><path d="M511.00 86.00 C511.67 85.00 513.50 81.42 515.00 80.00 C516.50 78.58 518.00 78.17 520.00 77.50 C522.00 76.83 525.00 75.75 527.00 76.00 C529.00 76.25 531.50 77.67 532.00 79.00 C532.50 80.33 531.33 82.83 530.00 84.00 C528.67 85.17 525.67 84.67 524.00 86.00 C522.33 87.33 521.50 90.50 520.00 92.00 C518.50 93.50 515.83 94.50 515.00 95.00" fill="none" stroke="#8a6000" stroke-width="0.50" stroke-linecap="round" stroke-linejoin="round" opacity="0.60"/><path d="M605.40 86.00 C604.73 85.00 602.90 81.42 601.40 80.00 C599.90 78.58 598.40 78.17 596.40 77.50 C594.40 76.83 591.40 75.75 589.40 76.00 C587.40 76.25 584.90 77.67 584.40 79.00 C583.90 80.33 585.07 82.83 586.40 84.00 C587.73 85.17 590.73 84.67 592.40 86.00 C594.07 87.33 594.90 90.50 596.40 92.00 C597.90 93.50 600.57 94.50 601.40 95.00" fill="none" stroke="#8a6000" stroke-width="0.50" stroke-linecap="round" stroke-linejoin="round" opacity="0.60"/><path d="M522.00 90.00 C522.67 90.50 524.33 93.00 526.00 93.00 C527.67 93.00 530.00 91.17 532.00 90.00 C534.00 88.83 536.00 87.00 538.00 86.00 C540.00 85.00 542.33 85.17 544.00 84.00 C545.67 82.83 547.33 79.83 548.00 79.00" fill="none" stroke="#8a6000" stroke-width="0.50" stroke-linecap="round" stroke-linejoin="round" opacity="0.50"/><path d="M594.40 90.00 C593.73 90.50 592.07 93.00 590.40 93.00 C588.73 93.00 586.40 91.17 584.40 90.00 C582.40 88.83 580.40 87.00 578.40 86.00 C576.40 85.00 574.07 85.17 572.40 84.00 C570.73 82.83 569.07 79.83 568.40 79.00" fill="none" stroke="#8a6000" stroke-width="0.50" stroke-linecap="round" stroke-linejoin="round" opacity="0.50"/><path d="M537.00 67.00 C538.33 66.50 542.33 64.50 545.00 64.00 C547.67 63.50 551.33 63.00 553.00 64.00 C554.67 65.00 555.00 67.67 555.00 70.00 C555.00 72.33 554.00 75.67 553.00 78.00 C552.00 80.33 549.67 83.00 549.00 84.00" fill="none" stroke="#8a6000" stroke-width="0.50" stroke-linecap="round" stroke-linejoin="round" opacity="0.50"/><path d="M579.40 67.00 C578.07 66.50 574.07 64.50 571.40 64.00 C568.73 63.50 565.07 63.00 563.40 64.00 C561.73 65.00 561.40 67.67 561.40 70.00 C561.40 72.33 562.40 75.67 563.40 78.00 C564.40 80.33 566.73 83.00 567.40 84.00" fill="none" stroke="#8a6000" stroke-width="0.50" stroke-linecap="round" stroke-linejoin="round" opacity="0.50"/><path d="M482.00 110.00 C482.33 108.33 483.00 103.00 484.00 100.00 C485.00 97.00 486.33 94.67 488.00 92.00 C489.67 89.33 493.00 85.33 494.00 84.00" fill="none" stroke="#8a6000" stroke-width="0.50" stroke-linecap="round" stroke-linejoin="round" opacity="0.40"/><path d="M634.40 110.00 C634.07 108.33 633.40 103.00 632.40 100.00 C631.40 97.00 630.07 94.67 628.40 92.00 C626.73 89.33 623.40 85.33 622.40 84.00" fill="none" stroke="#8a6000" stroke-width="0.50" stroke-linecap="round" stroke-linejoin="round" opacity="0.40"/></g><linearGradient id="cbar" x1="0" y1="1" x2="0" y2="0"><stop offset="0.00" stop-color="#1010b0"/><stop offset="0.08" stop-color="#0030ff"/><stop offset="0.22" stop-color="#00a0ff"/><stop offset="0.30" stop-color="#00e0e0"/><stop offset="0.42" stop-color="#00e070"/><stop offset="0.52" stop-color="#10e010"/><stop offset="0.62" stop-color="#a0f000"/><stop offset="0.70" stop-color="#f8f000"/><stop offset="0.80" stop-color="#ffb000"/><stop offset="0.90" stop-color="#ff6000"/><stop offset="1.00" stop-color="#e00000"/></linearGradient><rect x="651.40" y="57.40" width="3.20" height="78.30" fill="url(#cbar)" stroke="#000" stroke-width="0.8"/><path d="M654.60 57.40H657.10M654.60 65.23H655.80M654.60 73.06H655.80M654.60 80.89H655.80M654.60 88.72H655.80M654.60 96.55H655.80M654.60 104.38H655.80M654.60 112.21H655.80M654.60 120.04H655.80M654.60 127.87H655.80M654.60 135.70H657.10" stroke="#555" stroke-width="0.7"/><text x="658.9" y="63.8" font-size="19.4">1</text><text x="658.9" y="137.9" font-size="20.2">0</text><text x="0.60" y="14.0" font-size="19.4">Case E1 <tspan dx="2.6">(</tspan><tspan font-style="italic" dx="0.6">E</tspan> = 12.0)</text><text x="235.60" y="14.0" font-size="19.4">Case E2 <tspan dx="2.6">(</tspan><tspan font-style="italic" dx="0.6">E</tspan> = 14.9)</text><text x="471.80" y="14.0" font-size="19.4">Case E4 <tspan dx="2.6">(</tspan><tspan font-style="italic" dx="0.6">E</tspan> = 17.8)</text><text x="270.83" y="42.80" font-size="18.6" textLength="22.16" lengthAdjust="spacingAndGlyphs">(a)</text><text x="300.40" y="42.80" font-size="18.6" textLength="98.18" lengthAdjust="spacingAndGlyphs">temperature</text><text x="402.78" y="42.80" font-size="18.6" font-style="italic" textLength="11.59" lengthAdjust="spacingAndGlyphs">T</text><text x="236.60" y="167.00" font-size="18.6" textLength="23.86" lengthAdjust="spacingAndGlyphs">(b)</text><text x="265.40" y="167.00" font-size="18.6" textLength="59.32" lengthAdjust="spacingAndGlyphs">1/(heat</text><text x="329.91" y="167.00" font-size="18.6" textLength="32.66" lengthAdjust="spacingAndGlyphs">ﬂow</text><text x="369.24" y="167.00" font-size="18.6" font-style="italic" textLength="11.69" lengthAdjust="spacingAndGlyphs">h</text><text x="379.60" y="167.00" font-size="18.6" textLength="8.68" lengthAdjust="spacingAndGlyphs">)</text><text x="388.20" y="161.60" font-size="13.0" textLength="5.69" lengthAdjust="spacingAndGlyphs">2</text><text x="399.79" y="167.00" font-size="18.6" textLength="16.22" lengthAdjust="spacingAndGlyphs">at</text><text x="422.70" y="167.00" font-size="18.6" textLength="24.90" lengthAdjust="spacingAndGlyphs">top</text><text x="202.89" y="314.00" font-size="18.6" textLength="20.75" lengthAdjust="spacingAndGlyphs">(c)</text><text x="231.70" y="314.00" font-size="18.6" textLength="78.10" lengthAdjust="spacingAndGlyphs">horizontal</text><text x="318.20" y="314.00" font-size="18.6" textLength="56.71" lengthAdjust="spacingAndGlyphs">velocity</text><text x="383.32" y="314.00" font-size="18.6" textLength="7.32" lengthAdjust="spacingAndGlyphs">(</text><text x="391.63" y="314.00" font-size="18.6" textLength="10.15" lengthAdjust="spacingAndGlyphs">−</text><text x="402.80" y="314.00" font-size="18.6" font-style="italic" textLength="8.99" lengthAdjust="spacingAndGlyphs">v</text><text x="413.00" y="316.80" font-size="11.8" font-style="italic" textLength="6.38" lengthAdjust="spacingAndGlyphs">θ</text><text x="420.57" y="314.00" font-size="18.6" textLength="8.84" lengthAdjust="spacingAndGlyphs">)</text><text x="434.03" y="314.00" font-size="18.6" textLength="17.11" lengthAdjust="spacingAndGlyphs">at</text><text x="458.30" y="314.00" font-size="18.6" textLength="25.32" lengthAdjust="spacingAndGlyphs">top</text><path d="M16.14 177.50V181.10M16.14 258.60V262.20M24.78 177.50V181.10M24.78 258.60V262.20M33.42 177.50V181.10M33.42 258.60V262.20M42.06 177.50V181.10M42.06 258.60V262.20M50.69 177.50V181.10M50.69 258.60V262.20M59.33 177.50V181.10M59.33 258.60V262.20M67.97 177.50V181.10M67.97 258.60V262.20M76.61 177.50V181.10M76.61 258.60V262.20M85.25 177.50V181.10M85.25 258.60V262.20M93.89 177.50V181.10M93.89 258.60V262.20M102.53 177.50V181.10M102.53 258.60V262.20M111.17 177.50V181.10M111.17 258.60V262.20M119.81 177.50V181.10M119.81 258.60V262.20M128.44 177.50V181.10M128.44 258.60V262.20M137.08 177.50V181.10M137.08 258.60V262.20M145.72 177.50V181.10M145.72 258.60V262.20M154.36 177.50V181.10M154.36 258.60V262.20M7.50 174.10V181.10M7.50 258.60V265.60M163.00 174.10V181.10M163.00 258.60V265.60M3.90 188.85H7.50M163.00 188.85H166.60M3.90 196.60H7.50M163.00 196.60H166.60M3.90 204.35H7.50M163.00 204.35H166.60M3.90 212.10H7.50M163.00 212.10H166.60M3.90 219.85H7.50M163.00 219.85H166.60M3.90 227.60H7.50M163.00 227.60H166.60M3.90 235.35H7.50M163.00 235.35H166.60M3.90 243.10H7.50M163.00 243.10H166.60M3.90 250.85H7.50M163.00 250.85H166.60M0.50 181.10H7.50M163.00 181.10H170.00M0.50 258.60H7.50M163.00 258.60H170.00" stroke="#222" stroke-width="1" fill="none"/><rect x="7.50" y="181.10" width="155.50" height="77.50" fill="none" stroke="#000" stroke-width="2"/><clipPath id="cm0"><rect x="7.50" y="180.10" width="155.50" height="79.50"/></clipPath><g clip-path="url(#cm0)" fill="none" stroke="#f00" stroke-width="1.6"><path d="M7.10 256.71 L7.85 256.57 L8.60 256.41 L9.34 256.23 L10.07 256.03 L10.79 255.82 L11.50 255.59 L12.20 255.34 L12.89 255.07 L13.57 254.79 L14.24 254.50 L14.90 254.18 L15.54 253.86 L16.18 253.51 L16.80 253.15 L17.41 252.78 L18.00 252.39 L18.58 251.99 L19.15 251.57 L19.71 251.14 L20.24 250.69 L20.77 250.23 L21.28 249.76 L21.77 249.28 L22.25 248.78 L22.71 248.27 L23.15 247.74 L23.58 247.21 L23.99 246.66 L24.38 246.10 L24.76 245.53 L25.12 244.96 L25.47 244.37 L25.81 243.77 L26.13 243.16 L26.44 242.54 L26.73 241.92 L27.01 241.28 L27.28 240.64 L27.54 239.99 L27.79 239.34 L28.03 238.67 L28.25 238.01 L28.47 237.33 L28.67 236.65 L28.87 235.97 L29.06 235.28 L29.24 234.59 L29.41 233.89 L29.57 233.19 L29.73 232.49 L29.88 231.78 L30.03 231.08 L30.16 230.37 L30.30 229.66 L30.42 228.95 L30.55 228.24 L30.67 227.52 L30.78 226.81 L30.89 226.10 L31.00 225.39 L31.11 224.68 L31.21 223.97 L31.31 223.26 L31.40 222.55 L31.49 221.84 L31.58 221.13 L31.67 220.42 L31.75 219.71 L31.83 219.00 L31.91 218.30 L31.99 217.59 L32.06 216.88 L32.13 216.17 L32.20 215.47 L32.27 214.76 L32.33 214.05 L32.39 213.34 L32.45 212.64 L32.51 211.93 L32.57 211.23 L32.62 210.52 L32.68 209.81 L32.73 209.11 L32.78 208.40 L32.83 207.70 L32.88 206.99 L32.92 206.28 L32.97 205.58 L33.01 204.87 L33.06 204.17 L33.10 203.46 L33.14 202.76 L33.19 202.05 L33.23 201.35 L33.27 200.64 L33.31 199.93 L33.35 199.23 L33.39 198.52 L33.43 197.82 L33.47 197.11 L33.51 196.41 L33.55 195.70 L33.59 194.99 L33.63 194.29 L33.68 193.58 L33.72 192.88 L33.76 192.17 L33.80 191.46 L33.85 190.76 L33.89 190.05 L33.94 189.34 L33.99 188.64 L34.03 187.93 L34.08 187.22 L34.14 186.51 L34.19 185.80 L34.24 185.10 L34.30 184.39 L34.35 183.68 L34.41 182.97 L34.47 182.26 L34.54 181.55 L34.60 180.84 L34.67 180.13 L34.74 179.42 L34.81 178.71 L34.88 178.00"/><path d="M48.13 178.08 L48.21 178.75 L48.28 179.42 L48.34 180.10 L48.41 180.78 L48.47 181.46 L48.53 182.14 L48.59 182.83 L48.64 183.52 L48.69 184.21 L48.75 184.90 L48.80 185.59 L48.84 186.29 L48.89 186.98 L48.94 187.68 L48.98 188.38 L49.02 189.09 L49.07 189.79 L49.11 190.49 L49.15 191.20 L49.19 191.91 L49.23 192.61 L49.27 193.32 L49.32 194.03 L49.36 194.74 L49.40 195.45 L49.45 196.16 L49.49 196.88 L49.54 197.59 L49.58 198.30 L49.63 199.01 L49.68 199.73 L49.73 200.44 L49.79 201.15 L49.84 201.87 L49.90 202.58 L49.96 203.29 L50.03 204.00 L50.09 204.71 L50.16 205.43 L50.23 206.14 L50.31 206.85 L50.38 207.56 L50.47 208.26 L50.55 208.97 L50.64 209.68 L50.73 210.38 L50.83 211.09 L50.93 211.79 L51.04 212.49 L51.15 213.19 L51.27 213.89 L51.39 214.58 L51.51 215.28 L51.65 215.97 L51.78 216.66 L51.93 217.35 L52.07 218.04 L52.23 218.72 L52.39 219.40 L52.55 220.08 L52.73 220.76 L52.91 221.44 L53.09 222.11 L53.29 222.78 L53.49 223.45 L53.70 224.11 L53.91 224.77 L54.13 225.43 L54.37 226.08 L54.60 226.74 L54.85 227.39 L55.11 228.03 L55.37 228.67 L55.64 229.31 L55.92 229.95 L56.21 230.58 L56.50 231.20 L56.81 231.83 L57.12 232.45 L57.44 233.06 L57.77 233.67 L58.11 234.28 L58.46 234.88 L58.81 235.48 L59.17 236.07 L59.54 236.66 L59.92 237.25 L60.31 237.83 L60.71 238.40 L61.11 238.97 L61.52 239.53 L61.94 240.09 L62.37 240.65 L62.81 241.20 L63.26 241.74 L63.71 242.28 L64.17 242.81 L64.64 243.33 L65.12 243.86 L65.61 244.37 L66.10 244.88 L66.61 245.38 L67.12 245.88 L67.64 246.37 L68.17 246.85 L68.70 247.33 L69.25 247.80 L69.80 248.26 L70.37 248.72 L70.94 249.17 L71.51 249.62 L72.10 250.05 L72.70 250.48 L73.30 250.90 L73.91 251.31 L74.52 251.70 L75.15 252.09 L75.77 252.46 L76.41 252.82 L77.05 253.16 L77.69 253.48 L78.34 253.78 L78.99 254.07 L79.64 254.33 L80.30 254.58 L80.96 254.79 L81.62 254.98 L82.28 255.14 L82.94 255.27 L83.60 255.36 L84.25 255.41 L84.90 255.42 L85.54 255.38 L86.18 255.31 L86.81 255.19 L87.44 255.03 L88.07 254.84 L88.69 254.62 L89.30 254.36 L89.92 254.08 L90.53 253.77 L91.13 253.44 L91.74 253.08 L92.34 252.71 L92.94 252.32 L93.54 251.91 L94.14 251.49 L94.73 251.07 L95.33 250.63 L95.92 250.19 L96.52 249.75 L97.11 249.31 L97.70 248.87 L98.30 248.43 L98.90 248.00 L99.49 247.58 L100.09 247.16 L100.68 246.74 L101.26 246.32 L101.85 245.90 L102.42 245.48 L102.99 245.06 L103.55 244.63 L104.10 244.19 L104.64 243.75 L105.17 243.29 L105.68 242.83 L106.18 242.35 L106.66 241.85 L107.13 241.35 L107.58 240.83 L108.02 240.30 L108.45 239.76 L108.86 239.20 L109.26 238.64 L109.64 238.07 L110.02 237.48 L110.38 236.89 L110.73 236.29 L111.08 235.68 L111.41 235.07 L111.73 234.44 L112.04 233.81 L112.34 233.18 L112.63 232.54 L112.92 231.89 L113.19 231.24 L113.46 230.59 L113.72 229.93 L113.97 229.27 L114.22 228.61 L114.46 227.95 L114.70 227.28 L114.92 226.62 L115.15 225.95 L115.37 225.28 L115.58 224.60 L115.78 223.93 L115.98 223.26 L116.18 222.58 L116.37 221.90 L116.56 221.22 L116.74 220.55 L116.91 219.86 L117.08 219.18 L117.25 218.50 L117.41 217.81 L117.57 217.13 L117.72 216.44 L117.87 215.75 L118.01 215.06 L118.15 214.37 L118.29 213.68 L118.42 212.99 L118.55 212.30 L118.67 211.61 L118.80 210.91 L118.91 210.22 L119.03 209.52 L119.14 208.82 L119.25 208.13 L119.35 207.43 L119.45 206.73 L119.55 206.03 L119.65 205.33 L119.74 204.63 L119.83 203.93 L119.92 203.23 L120.00 202.53 L120.09 201.83 L120.17 201.13 L120.25 200.43 L120.32 199.72 L120.40 199.02 L120.47 198.32 L120.54 197.62 L120.61 196.91 L120.68 196.21 L120.75 195.51 L120.81 194.81 L120.88 194.10 L120.94 193.40 L121.00 192.70 L121.06 191.99 L121.13 191.29 L121.18 190.59 L121.24 189.89 L121.30 189.19 L121.36 188.48 L121.42 187.78 L121.48 187.08 L121.53 186.38 L121.59 185.68 L121.65 184.98 L121.71 184.28 L121.77 183.59 L121.82 182.89 L121.88 182.19 L121.94 181.49 L122.00 180.80 L122.06 180.10 L122.13 179.41 L122.19 178.72 L122.25 178.02"/><path d="M135.47 177.96 L135.45 178.70 L135.43 179.43 L135.42 180.15 L135.41 180.88 L135.41 181.60 L135.41 182.32 L135.42 183.04 L135.43 183.76 L135.44 184.47 L135.46 185.18 L135.48 185.89 L135.50 186.60 L135.53 187.31 L135.56 188.02 L135.59 188.72 L135.62 189.43 L135.66 190.13 L135.70 190.83 L135.74 191.53 L135.78 192.23 L135.82 192.93 L135.86 193.63 L135.91 194.33 L135.95 195.03 L136.00 195.73 L136.05 196.42 L136.10 197.12 L136.14 197.82 L136.19 198.52 L136.24 199.22 L136.28 199.92 L136.33 200.62 L136.38 201.32 L136.42 202.02 L136.46 202.72 L136.51 203.42 L136.55 204.13 L136.58 204.83 L136.62 205.54 L136.66 206.25 L136.69 206.96 L136.72 207.67 L136.75 208.38 L136.78 209.10 L136.80 209.81 L136.83 210.53 L136.86 211.25 L136.88 211.96 L136.91 212.68 L136.93 213.40 L136.96 214.12 L136.98 214.84 L137.01 215.56 L137.04 216.28 L137.07 217.00 L137.11 217.72 L137.14 218.44 L137.18 219.16 L137.22 219.88 L137.27 220.60 L137.31 221.32 L137.37 222.04 L137.42 222.76 L137.48 223.47 L137.55 224.19 L137.62 224.90 L137.70 225.61 L137.78 226.32 L137.86 227.03 L137.96 227.74 L138.06 228.44 L138.16 229.15 L138.28 229.85 L138.40 230.55 L138.53 231.25 L138.66 231.94 L138.81 232.63 L138.96 233.32 L139.12 234.01 L139.29 234.70 L139.47 235.38 L139.66 236.06 L139.86 236.73 L140.07 237.40 L140.29 238.07 L140.52 238.74 L140.77 239.40 L141.02 240.06 L141.29 240.71 L141.56 241.36 L141.85 242.01 L142.16 242.65 L142.47 243.28 L142.80 243.91 L143.14 244.53 L143.49 245.14 L143.86 245.75 L144.23 246.34 L144.63 246.92 L145.03 247.50 L145.45 248.06 L145.88 248.61 L146.33 249.14 L146.79 249.67 L147.26 250.18 L147.75 250.67 L148.26 251.15 L148.77 251.61 L149.31 252.06 L149.85 252.48 L150.42 252.89 L150.99 253.29 L151.59 253.66 L152.19 254.01 L152.82 254.34 L153.46 254.65 L154.11 254.93 L154.78 255.20 L155.47 255.44 L156.17 255.66 L156.88 255.86 L157.60 256.04 L158.32 256.21 L159.05 256.36 L159.78 256.50 L160.51 256.62 L161.23 256.74 L161.95 256.85 L162.66 256.95 L163.35 257.04 L164.04 257.13"/></g><text class="sans" x="176.80" y="188.20" font-size="17.5">0.2</text><text class="sans" x="176.60" y="265.60" font-size="17.5">0.0</text><text x="0.30" y="283.20" font-size="19.4" textLength="34.2" lengthAdjust="spacing">180°</text><text x="90.45" y="283.20" font-size="19.4" font-style="italic" text-anchor="middle">θ</text><text x="157.80" y="283.20" font-size="19.4">0°</text><path d="M16.14 324.40V328.00M16.14 405.10V408.70M24.78 324.40V328.00M24.78 405.10V408.70M33.42 324.40V328.00M33.42 405.10V408.70M42.06 324.40V328.00M42.06 405.10V408.70M50.69 324.40V328.00M50.69 405.10V408.70M59.33 324.40V328.00M59.33 405.10V408.70M67.97 324.40V328.00M67.97 405.10V408.70M76.61 324.40V328.00M76.61 405.10V408.70M85.25 324.40V328.00M85.25 405.10V408.70M93.89 324.40V328.00M93.89 405.10V408.70M102.53 324.40V328.00M102.53 405.10V408.70M111.17 324.40V328.00M111.17 405.10V408.70M119.81 324.40V328.00M119.81 405.10V408.70M128.44 324.40V328.00M128.44 405.10V408.70M137.08 324.40V328.00M137.08 405.10V408.70M145.72 324.40V328.00M145.72 405.10V408.70M154.36 324.40V328.00M154.36 405.10V408.70M7.50 321.00V328.00M7.50 405.10V412.10M163.00 321.00V328.00M163.00 405.10V412.10M3.90 331.86H7.50M163.00 331.86H166.60M3.90 335.71H7.50M163.00 335.71H166.60M3.90 339.56H7.50M163.00 339.56H166.60M3.90 343.42H7.50M163.00 343.42H166.60M3.90 347.27H7.50M163.00 347.27H166.60M3.90 351.13H7.50M163.00 351.13H166.60M3.90 354.99H7.50M163.00 354.99H166.60M3.90 358.84H7.50M163.00 358.84H166.60M3.90 362.69H7.50M163.00 362.69H166.60M3.90 370.41H7.50M163.00 370.41H166.60M3.90 374.26H7.50M163.00 374.26H166.60M3.90 378.12H7.50M163.00 378.12H166.60M3.90 381.97H7.50M163.00 381.97H166.60M3.90 385.83H7.50M163.00 385.83H166.60M3.90 389.68H7.50M163.00 389.68H166.60M3.90 393.54H7.50M163.00 393.54H166.60M3.90 397.39H7.50M163.00 397.39H166.60M3.90 401.25H7.50M163.00 401.25H166.60M0.50 328.00H7.50M163.00 328.00H170.00M0.50 366.55H7.50M163.00 366.55H170.00M0.50 405.10H7.50M163.00 405.10H170.00" stroke="#222" stroke-width="1" fill="none"/><rect x="7.50" y="328.00" width="155.50" height="77.10" fill="none" stroke="#000" stroke-width="2"/><clipPath id="cb0"><rect x="7.50" y="327.00" width="155.50" height="79.10"/></clipPath><path clip-path="url(#cb0)" d="M7.60 366.08 L7.77 365.32 L7.93 364.57 L8.09 363.83 L8.23 363.10 L8.36 362.38 L8.48 361.67 L8.60 360.96 L8.70 360.26 L8.81 359.57 L8.90 358.89 L8.99 358.20 L9.08 357.53 L9.17 356.85 L9.25 356.18 L9.33 355.52 L9.41 354.85 L9.49 354.19 L9.57 353.52 L9.65 352.86 L9.74 352.20 L9.83 351.53 L9.92 350.87 L10.01 350.20 L10.12 349.53 L10.23 348.86 L10.34 348.18 L10.46 347.50 L10.60 346.81 L10.74 346.12 L10.89 345.42 L11.05 344.71 L11.23 344.00 L11.42 343.27 L11.62 342.54 L11.83 341.81 L12.06 341.08 L12.31 340.35 L12.57 339.62 L12.85 338.91 L13.15 338.20 L13.46 337.52 L13.79 336.85 L14.15 336.20 L14.52 335.58 L14.92 334.99 L15.34 334.43 L15.78 333.90 L16.24 333.42 L16.73 332.97 L17.24 332.57 L17.78 332.22 L18.35 331.92 L18.94 331.67 L19.55 331.48 L20.18 331.34 L20.82 331.26 L21.48 331.23 L22.13 331.25 L22.79 331.33 L23.44 331.46 L24.08 331.64 L24.71 331.88 L25.32 332.17 L25.91 332.52 L26.47 332.92 L27.01 333.38 L27.52 333.87 L28.01 334.41 L28.48 334.98 L28.93 335.58 L29.37 336.20 L29.78 336.84 L30.19 337.49 L30.58 338.15 L30.96 338.81 L31.33 339.46 L31.69 340.11 L32.05 340.76 L32.39 341.40 L32.73 342.03 L33.06 342.66 L33.39 343.29 L33.70 343.92 L34.01 344.54 L34.32 345.17 L34.62 345.79 L34.91 346.40 L35.19 347.02 L35.47 347.64 L35.74 348.25 L36.01 348.87 L36.27 349.49 L36.53 350.11 L36.79 350.73 L37.03 351.35 L37.28 351.97 L37.52 352.60 L37.76 353.23 L37.99 353.86 L38.22 354.49 L38.44 355.13 L38.67 355.78 L38.89 356.42 L39.11 357.08 L39.32 357.74 L39.53 358.40 L39.75 359.07 L39.96 359.74 L40.16 360.42 L40.37 361.10 L40.58 361.79 L40.79 362.47 L40.99 363.16 L41.20 363.86 L41.41 364.55 L41.62 365.25 L41.83 365.95 L42.04 366.65 L42.25 367.35 L42.47 368.05 L42.68 368.74 L42.90 369.44 L43.13 370.14 L43.35 370.84 L43.58 371.53 L43.82 372.23 L44.05 372.92 L44.30 373.61 L44.54 374.29 L44.79 374.97 L45.05 375.65 L45.31 376.33 L45.58 377.00 L45.86 377.66 L46.14 378.32 L46.43 378.98 L46.72 379.63 L47.02 380.27 L47.33 380.90 L47.65 381.53 L47.98 382.15 L48.31 382.77 L48.65 383.37 L49.01 383.97 L49.37 384.56 L49.74 385.14 L50.12 385.71 L50.51 386.27 L50.91 386.82 L51.33 387.36 L51.75 387.89 L52.19 388.41 L52.63 388.91 L53.09 389.41 L53.56 389.89 L54.05 390.36 L54.55 390.82 L55.06 391.26 L55.58 391.69 L56.12 392.10 L56.67 392.50 L57.24 392.89 L57.82 393.26 L58.41 393.61 L59.03 393.95 L59.65 394.28 L60.30 394.58 L60.95 394.87 L61.63 395.14 L62.31 395.40 L63.01 395.62 L63.71 395.83 L64.42 396.01 L65.14 396.16 L65.85 396.28 L66.56 396.36 L67.27 396.42 L67.97 396.43 L68.66 396.41 L69.34 396.35 L70.01 396.24 L70.66 396.09 L71.29 395.90 L71.91 395.66 L72.50 395.36 L73.06 395.02 L73.60 394.62 L74.11 394.16 L74.59 393.66 L75.04 393.12 L75.48 392.54 L75.89 391.92 L76.29 391.28 L76.66 390.62 L77.03 389.95 L77.38 389.26 L77.72 388.57 L78.05 387.89 L78.37 387.20 L78.68 386.52 L78.99 385.85 L79.29 385.18 L79.58 384.52 L79.87 383.86 L80.15 383.21 L80.42 382.55 L80.69 381.90 L80.95 381.25 L81.20 380.61 L81.45 379.96 L81.69 379.32 L81.92 378.68 L82.15 378.04 L82.37 377.39 L82.59 376.75 L82.80 376.11 L83.00 375.46 L83.20 374.82 L83.39 374.17 L83.57 373.52 L83.75 372.87 L83.93 372.21 L84.10 371.55 L84.26 370.89 L84.42 370.22 L84.58 369.55 L84.73 368.87 L84.87 368.19 L85.01 367.50 L85.14 366.81 L85.27 366.11 L85.40 365.40 L85.52 364.69 L85.65 363.98 L85.77 363.27 L85.89 362.55 L86.01 361.83 L86.14 361.11 L86.26 360.39 L86.39 359.67 L86.52 358.95 L86.65 358.23 L86.79 357.51 L86.93 356.79 L87.07 356.07 L87.23 355.36 L87.39 354.65 L87.56 353.94 L87.73 353.24 L87.92 352.54 L88.11 351.85 L88.32 351.17 L88.54 350.49 L88.76 349.82 L89.00 349.15 L89.26 348.50 L89.52 347.85 L89.80 347.21 L90.10 346.58 L90.41 345.96 L90.74 345.35 L91.09 344.75 L91.45 344.17 L91.83 343.59 L92.23 343.03 L92.65 342.49 L93.09 341.95 L93.55 341.43 L94.03 340.93 L94.54 340.44 L95.06 339.97 L95.61 339.51 L96.17 339.08 L96.75 338.67 L97.34 338.29 L97.95 337.93 L98.56 337.60 L99.19 337.31 L99.82 337.04 L100.46 336.81 L101.11 336.62 L101.75 336.47 L102.40 336.36 L103.05 336.28 L103.69 336.26 L104.33 336.28 L104.97 336.34 L105.60 336.44 L106.23 336.58 L106.86 336.76 L107.48 336.97 L108.09 337.22 L108.70 337.50 L109.31 337.82 L109.91 338.16 L110.50 338.53 L111.08 338.93 L111.66 339.35 L112.23 339.79 L112.79 340.26 L113.35 340.75 L113.90 341.25 L114.44 341.77 L114.96 342.31 L115.48 342.86 L116.00 343.43 L116.50 344.00 L116.99 344.58 L117.47 345.17 L117.93 345.77 L118.39 346.37 L118.84 346.97 L119.27 347.57 L119.69 348.18 L120.10 348.78 L120.50 349.39 L120.89 349.99 L121.27 350.59 L121.63 351.20 L121.99 351.80 L122.34 352.41 L122.68 353.01 L123.01 353.62 L123.33 354.23 L123.64 354.84 L123.95 355.45 L124.24 356.06 L124.53 356.68 L124.82 357.29 L125.09 357.91 L125.37 358.53 L125.63 359.15 L125.89 359.77 L126.15 360.40 L126.40 361.03 L126.64 361.66 L126.89 362.29 L127.13 362.93 L127.36 363.57 L127.59 364.21 L127.82 364.85 L128.05 365.50 L128.28 366.15 L128.50 366.81 L128.73 367.46 L128.95 368.13 L129.17 368.79 L129.39 369.46 L129.62 370.13 L129.84 370.80 L130.06 371.47 L130.28 372.15 L130.51 372.82 L130.73 373.50 L130.96 374.18 L131.19 374.86 L131.42 375.54 L131.66 376.22 L131.89 376.90 L132.13 377.58 L132.37 378.26 L132.62 378.94 L132.87 379.62 L133.12 380.29 L133.38 380.97 L133.64 381.64 L133.91 382.31 L134.18 382.98 L134.45 383.65 L134.74 384.31 L135.02 384.97 L135.32 385.63 L135.62 386.29 L135.93 386.94 L136.24 387.58 L136.56 388.22 L136.89 388.86 L137.23 389.49 L137.57 390.12 L137.92 390.74 L138.29 391.36 L138.66 391.97 L139.03 392.58 L139.42 393.18 L139.82 393.77 L140.23 394.36 L140.65 394.94 L141.07 395.51 L141.51 396.07 L141.96 396.63 L142.42 397.18 L142.89 397.72 L143.38 398.25 L143.87 398.75 L144.37 399.23 L144.89 399.67 L145.41 400.07 L145.93 400.41 L146.46 400.69 L147.00 400.90 L147.55 401.04 L148.09 401.09 L148.64 401.05 L149.19 400.93 L149.73 400.74 L150.27 400.49 L150.80 400.17 L151.31 399.81 L151.80 399.41 L152.28 398.96 L152.73 398.49 L153.17 397.99 L153.58 397.46 L153.98 396.90 L154.36 396.32 L154.72 395.72 L155.06 395.10 L155.39 394.45 L155.71 393.79 L156.01 393.11 L156.29 392.42 L156.57 391.71 L156.83 391.00 L157.08 390.27 L157.32 389.53 L157.55 388.79 L157.78 388.05 L157.99 387.30 L158.20 386.55 L158.40 385.80 L158.60 385.05 L158.79 384.30 L158.97 383.56 L159.15 382.83 L159.33 382.11 L159.51 381.39 L159.69 380.69 L159.86 380.00 L160.04 379.33 L160.21 378.67 L160.39 378.02 L160.56 377.37 L160.73 376.74 L160.91 376.11 L161.08 375.49 L161.24 374.87 L161.41 374.25 L161.57 373.63 L161.74 373.01 L161.90 372.39 L162.05 371.76 L162.20 371.12 L162.35 370.47 L162.50 369.81 L162.64 369.15 L162.78 368.46 L162.91 367.76 L163.04 367.05 L163.16 366.31 L163.28 365.55 L163.39 364.78 L163.50 363.97" fill="none" stroke="#f00" stroke-width="1.6"/><path d="M7.20 366.75H162.00" stroke="#7a7a7a" stroke-width="1.5" stroke-dasharray="5.6 2.65" style="mix-blend-mode:multiply"/><text class="sans" x="214.60" y="335.00" font-size="17.5" text-anchor="end">200</text><text class="sans" x="214.60" y="373.55" font-size="17.5" text-anchor="end">0</text><text class="sans" x="214.60" y="412.50" font-size="17.5" text-anchor="end">−200</text><text x="0.30" y="429.70" font-size="19.4" textLength="34.2" lengthAdjust="spacing">180°</text><text x="90.45" y="429.70" font-size="19.4" font-style="italic" text-anchor="middle">θ</text><text x="157.80" y="429.70" font-size="19.4">0°</text><path d="M252.04 177.50V181.10M252.04 258.60V262.20M260.68 177.50V181.10M260.68 258.60V262.20M269.32 177.50V181.10M269.32 258.60V262.20M277.96 177.50V181.10M277.96 258.60V262.20M286.59 177.50V181.10M286.59 258.60V262.20M295.23 177.50V181.10M295.23 258.60V262.20M303.87 177.50V181.10M303.87 258.60V262.20M312.51 177.50V181.10M312.51 258.60V262.20M321.15 177.50V181.10M321.15 258.60V262.20M329.79 177.50V181.10M329.79 258.60V262.20M338.43 177.50V181.10M338.43 258.60V262.20M347.07 177.50V181.10M347.07 258.60V262.20M355.71 177.50V181.10M355.71 258.60V262.20M364.34 177.50V181.10M364.34 258.60V262.20M372.98 177.50V181.10M372.98 258.60V262.20M381.62 177.50V181.10M381.62 258.60V262.20M390.26 177.50V181.10M390.26 258.60V262.20M243.40 174.10V181.10M243.40 258.60V265.60M398.90 174.10V181.10M398.90 258.60V265.60M239.80 188.85H243.40M398.90 188.85H402.50M239.80 196.60H243.40M398.90 196.60H402.50M239.80 204.35H243.40M398.90 204.35H402.50M239.80 212.10H243.40M398.90 212.10H402.50M239.80 219.85H243.40M398.90 219.85H402.50M239.80 227.60H243.40M398.90 227.60H402.50M239.80 235.35H243.40M398.90 235.35H402.50M239.80 243.10H243.40M398.90 243.10H402.50M239.80 250.85H243.40M398.90 250.85H402.50M236.40 181.10H243.40M398.90 181.10H405.90M236.40 258.60H243.40M398.90 258.60H405.90" stroke="#222" stroke-width="1" fill="none"/><rect x="243.40" y="181.10" width="155.50" height="77.50" fill="none" stroke="#000" stroke-width="2"/><clipPath id="cm1"><rect x="243.40" y="180.10" width="155.50" height="79.50"/></clipPath><g clip-path="url(#cm1)" fill="none" stroke="#f00" stroke-width="1.6"><path d="M243.36 255.64 L243.85 255.16 L244.36 254.69 L244.86 254.21 L245.37 253.74 L245.89 253.27 L246.41 252.80 L246.93 252.33 L247.46 251.86 L247.99 251.39 L248.52 250.92 L249.06 250.45 L249.59 249.98 L250.13 249.51 L250.67 249.04 L251.21 248.57 L251.75 248.09 L252.29 247.62 L252.83 247.14 L253.37 246.67 L253.91 246.19 L254.45 245.71 L254.98 245.23 L255.51 244.74 L256.04 244.25 L256.57 243.76 L257.09 243.27 L257.60 242.77 L258.10 242.26 L258.60 241.75 L259.09 241.23 L259.57 240.71 L260.04 240.18 L260.50 239.64 L260.94 239.10 L261.38 238.54 L261.80 237.98 L262.21 237.42 L262.61 236.84 L263.00 236.26 L263.38 235.68 L263.75 235.08 L264.11 234.48 L264.45 233.88 L264.79 233.26 L265.12 232.65 L265.44 232.02 L265.75 231.40 L266.04 230.76 L266.34 230.13 L266.62 229.49 L266.89 228.84 L267.15 228.19 L267.41 227.53 L267.66 226.88 L267.90 226.21 L268.13 225.55 L268.36 224.88 L268.57 224.21 L268.78 223.53 L268.99 222.86 L269.18 222.18 L269.37 221.50 L269.56 220.81 L269.73 220.13 L269.90 219.44 L270.07 218.75 L270.23 218.06 L270.38 217.37 L270.53 216.68 L270.68 215.98 L270.81 215.29 L270.95 214.59 L271.08 213.89 L271.20 213.20 L271.32 212.50 L271.44 211.80 L271.55 211.10 L271.66 210.39 L271.77 209.69 L271.87 208.99 L271.97 208.28 L272.06 207.58 L272.15 206.87 L272.24 206.17 L272.33 205.46 L272.42 204.76 L272.50 204.05 L272.58 203.34 L272.66 202.63 L272.74 201.93 L272.81 201.22 L272.89 200.51 L272.96 199.80 L273.04 199.09 L273.11 198.39 L273.18 197.68 L273.25 196.97 L273.32 196.26 L273.39 195.55 L273.47 194.84 L273.54 194.14 L273.61 193.43 L273.68 192.72 L273.76 192.02 L273.83 191.31 L273.91 190.60 L273.99 189.90 L274.06 189.19 L274.15 188.49 L274.23 187.79 L274.31 187.08 L274.40 186.38 L274.49 185.68 L274.58 184.98 L274.68 184.28 L274.78 183.58 L274.88 182.89 L274.98 182.19 L275.09 181.49 L275.20 180.80 L275.32 180.11 L275.44 179.42 L275.56 178.73 L275.69 178.04"/><path d="M288.29 177.95 L288.34 178.69 L288.38 179.42 L288.43 180.14 L288.47 180.86 L288.52 181.58 L288.57 182.30 L288.62 183.01 L288.67 183.72 L288.72 184.43 L288.77 185.14 L288.83 185.84 L288.88 186.54 L288.94 187.24 L288.99 187.94 L289.05 188.63 L289.11 189.33 L289.17 190.02 L289.23 190.71 L289.29 191.40 L289.36 192.09 L289.42 192.78 L289.48 193.46 L289.55 194.15 L289.62 194.84 L289.69 195.52 L289.76 196.21 L289.83 196.90 L289.90 197.59 L289.97 198.27 L290.04 198.96 L290.12 199.65 L290.19 200.34 L290.27 201.03 L290.35 201.73 L290.43 202.42 L290.51 203.12 L290.59 203.81 L290.67 204.51 L290.76 205.21 L290.84 205.92 L290.93 206.62 L291.02 207.33 L291.11 208.04 L291.20 208.75 L291.29 209.47 L291.39 210.18 L291.49 210.90 L291.59 211.61 L291.70 212.33 L291.81 213.04 L291.92 213.76 L292.04 214.48 L292.16 215.19 L292.29 215.90 L292.42 216.61 L292.56 217.32 L292.70 218.03 L292.85 218.74 L293.01 219.44 L293.17 220.14 L293.34 220.83 L293.52 221.53 L293.71 222.22 L293.90 222.90 L294.10 223.58 L294.31 224.26 L294.53 224.93 L294.76 225.59 L295.00 226.25 L295.25 226.90 L295.51 227.55 L295.78 228.19 L296.06 228.82 L296.35 229.45 L296.65 230.07 L296.97 230.68 L297.29 231.28 L297.63 231.88 L297.98 232.47 L298.34 233.05 L298.71 233.62 L299.10 234.18 L299.49 234.74 L299.89 235.30 L300.31 235.84 L300.73 236.39 L301.16 236.92 L301.60 237.46 L302.04 237.98 L302.50 238.51 L302.96 239.03 L303.43 239.54 L303.90 240.06 L304.38 240.57 L304.87 241.08 L305.36 241.59 L305.85 242.10 L306.35 242.60 L306.86 243.11 L307.37 243.61 L307.88 244.12 L308.39 244.62 L308.91 245.13 L309.42 245.63 L309.94 246.14 L310.47 246.65 L310.99 247.16 L311.51 247.68 L312.03 248.20 L312.55 248.72 L313.08 249.24 L313.60 249.77 L314.12 250.30 L314.64 250.82 L315.16 251.34 L315.70 251.84 L316.23 252.32 L316.78 252.78 L317.34 253.20 L317.92 253.59 L318.50 253.94 L319.10 254.24 L319.71 254.49 L320.32 254.66 L320.92 254.77 L321.52 254.79 L322.11 254.73 L322.69 254.61 L323.26 254.41 L323.82 254.15 L324.38 253.84 L324.94 253.48 L325.49 253.07 L326.03 252.63 L326.57 252.15 L327.11 251.64 L327.64 251.12 L328.17 250.58 L328.70 250.03 L329.23 249.47 L329.75 248.92 L330.28 248.37 L330.81 247.84 L331.33 247.32 L331.86 246.81 L332.38 246.32 L332.90 245.82 L333.42 245.34 L333.94 244.86 L334.45 244.38 L334.96 243.90 L335.46 243.42 L335.96 242.94 L336.45 242.46 L336.94 241.96 L337.41 241.46 L337.88 240.95 L338.34 240.43 L338.79 239.90 L339.24 239.37 L339.67 238.82 L340.10 238.27 L340.52 237.71 L340.94 237.15 L341.34 236.57 L341.73 235.99 L342.12 235.41 L342.50 234.81 L342.87 234.21 L343.23 233.61 L343.59 233.00 L343.93 232.38 L344.27 231.76 L344.60 231.14 L344.92 230.51 L345.23 229.87 L345.53 229.24 L345.82 228.59 L346.10 227.95 L346.38 227.30 L346.65 226.65 L346.90 226.00 L347.15 225.34 L347.39 224.68 L347.63 224.02 L347.85 223.36 L348.07 222.69 L348.28 222.02 L348.48 221.35 L348.67 220.68 L348.86 220.00 L349.04 219.33 L349.21 218.65 L349.38 217.97 L349.54 217.28 L349.69 216.60 L349.84 215.91 L349.98 215.22 L350.12 214.53 L350.25 213.84 L350.37 213.15 L350.49 212.46 L350.61 211.76 L350.71 211.06 L350.82 210.36 L350.92 209.66 L351.02 208.96 L351.11 208.26 L351.20 207.56 L351.28 206.86 L351.36 206.15 L351.44 205.45 L351.51 204.74 L351.58 204.03 L351.65 203.33 L351.71 202.62 L351.77 201.91 L351.83 201.20 L351.89 200.49 L351.95 199.78 L352.00 199.07 L352.05 198.37 L352.10 197.66 L352.15 196.95 L352.20 196.24 L352.24 195.53 L352.29 194.82 L352.33 194.11 L352.38 193.40 L352.42 192.70 L352.47 191.99 L352.51 191.28 L352.55 190.57 L352.60 189.87 L352.64 189.16 L352.69 188.46 L352.73 187.76 L352.78 187.06 L352.83 186.35 L352.88 185.65 L352.93 184.96 L352.99 184.26 L353.04 183.56 L353.10 182.87 L353.16 182.17 L353.22 181.48 L353.29 180.79 L353.36 180.10 L353.43 179.41 L353.50 178.73 L353.58 178.04"/><path d="M366.70 178.10 L366.78 178.76 L366.86 179.43 L366.94 180.10 L367.02 180.77 L367.09 181.45 L367.15 182.13 L367.21 182.81 L367.27 183.50 L367.33 184.19 L367.38 184.88 L367.44 185.57 L367.48 186.27 L367.53 186.97 L367.58 187.67 L367.62 188.37 L367.66 189.07 L367.70 189.78 L367.74 190.49 L367.77 191.20 L367.81 191.91 L367.85 192.62 L367.88 193.33 L367.92 194.05 L367.96 194.76 L367.99 195.48 L368.03 196.20 L368.07 196.92 L368.10 197.64 L368.14 198.35 L368.18 199.07 L368.23 199.79 L368.27 200.51 L368.32 201.23 L368.36 201.95 L368.41 202.67 L368.47 203.39 L368.52 204.11 L368.58 204.83 L368.64 205.55 L368.71 206.26 L368.78 206.98 L368.85 207.69 L368.92 208.41 L369.00 209.12 L369.09 209.83 L369.18 210.54 L369.27 211.25 L369.37 211.95 L369.48 212.66 L369.59 213.36 L369.70 214.06 L369.82 214.76 L369.95 215.45 L370.09 216.14 L370.23 216.84 L370.37 217.52 L370.53 218.21 L370.69 218.89 L370.86 219.57 L371.03 220.25 L371.21 220.92 L371.41 221.59 L371.61 222.26 L371.81 222.92 L372.03 223.58 L372.25 224.23 L372.49 224.89 L372.73 225.53 L372.98 226.18 L373.25 226.82 L373.52 227.45 L373.80 228.08 L374.09 228.71 L374.39 229.33 L374.71 229.94 L375.03 230.56 L375.37 231.16 L375.71 231.76 L376.07 232.36 L376.43 232.95 L376.81 233.54 L377.20 234.12 L377.59 234.70 L378.00 235.27 L378.41 235.84 L378.83 236.40 L379.26 236.96 L379.70 237.52 L380.14 238.07 L380.59 238.61 L381.05 239.16 L381.52 239.69 L381.99 240.23 L382.46 240.76 L382.94 241.29 L383.43 241.81 L383.92 242.33 L384.42 242.85 L384.92 243.36 L385.42 243.87 L385.93 244.37 L386.44 244.88 L386.95 245.38 L387.46 245.87 L387.98 246.37 L388.50 246.86 L389.02 247.34 L389.54 247.83 L390.06 248.31 L390.59 248.79 L391.11 249.27 L391.63 249.74 L392.15 250.21 L392.68 250.68 L393.20 251.15 L393.72 251.61 L394.25 252.07 L394.78 252.51 L395.32 252.95 L395.86 253.39 L396.41 253.81 L396.97 254.22 L397.54 254.62 L398.12 255.01 L398.72 255.38 L399.32 255.73 L399.95 256.07"/></g><text class="sans" x="412.70" y="188.20" font-size="17.5">0.2</text><text class="sans" x="412.50" y="265.60" font-size="17.5">0.0</text><text x="236.20" y="283.20" font-size="19.4" textLength="34.2" lengthAdjust="spacing">180°</text><text x="326.35" y="283.20" font-size="19.4" font-style="italic" text-anchor="middle">θ</text><text x="393.70" y="283.20" font-size="19.4">0°</text><path d="M252.04 324.40V328.00M252.04 405.10V408.70M260.68 324.40V328.00M260.68 405.10V408.70M269.32 324.40V328.00M269.32 405.10V408.70M277.96 324.40V328.00M277.96 405.10V408.70M286.59 324.40V328.00M286.59 405.10V408.70M295.23 324.40V328.00M295.23 405.10V408.70M303.87 324.40V328.00M303.87 405.10V408.70M312.51 324.40V328.00M312.51 405.10V408.70M321.15 324.40V328.00M321.15 405.10V408.70M329.79 324.40V328.00M329.79 405.10V408.70M338.43 324.40V328.00M338.43 405.10V408.70M347.07 324.40V328.00M347.07 405.10V408.70M355.71 324.40V328.00M355.71 405.10V408.70M364.34 324.40V328.00M364.34 405.10V408.70M372.98 324.40V328.00M372.98 405.10V408.70M381.62 324.40V328.00M381.62 405.10V408.70M390.26 324.40V328.00M390.26 405.10V408.70M243.40 321.00V328.00M243.40 405.10V412.10M398.90 321.00V328.00M398.90 405.10V412.10M239.80 331.86H243.40M398.90 331.86H402.50M239.80 335.71H243.40M398.90 335.71H402.50M239.80 339.56H243.40M398.90 339.56H402.50M239.80 343.42H243.40M398.90 343.42H402.50M239.80 347.27H243.40M398.90 347.27H402.50M239.80 351.13H243.40M398.90 351.13H402.50M239.80 354.99H243.40M398.90 354.99H402.50M239.80 358.84H243.40M398.90 358.84H402.50M239.80 362.69H243.40M398.90 362.69H402.50M239.80 370.41H243.40M398.90 370.41H402.50M239.80 374.26H243.40M398.90 374.26H402.50M239.80 378.12H243.40M398.90 378.12H402.50M239.80 381.97H243.40M398.90 381.97H402.50M239.80 385.83H243.40M398.90 385.83H402.50M239.80 389.68H243.40M398.90 389.68H402.50M239.80 393.54H243.40M398.90 393.54H402.50M239.80 397.39H243.40M398.90 397.39H402.50M239.80 401.25H243.40M398.90 401.25H402.50M236.40 328.00H243.40M398.90 328.00H405.90M236.40 366.55H243.40M398.90 366.55H405.90M236.40 405.10H243.40M398.90 405.10H405.90" stroke="#222" stroke-width="1" fill="none"/><rect x="243.40" y="328.00" width="155.50" height="77.10" fill="none" stroke="#000" stroke-width="2"/><clipPath id="cb1"><rect x="243.40" y="327.00" width="155.50" height="79.10"/></clipPath><path clip-path="url(#cb1)" d="M242.85 366.33 L243.40 365.74 L243.96 365.17 L244.52 364.64 L245.09 364.13 L245.67 363.66 L246.25 363.21 L246.84 362.79 L247.43 362.40 L248.03 362.04 L248.64 361.70 L249.24 361.39 L249.86 361.10 L250.48 360.84 L251.10 360.61 L251.73 360.39 L252.36 360.21 L253.00 360.04 L253.64 359.90 L254.28 359.77 L254.93 359.67 L255.58 359.59 L256.23 359.54 L256.89 359.50 L257.55 359.48 L258.21 359.47 L258.87 359.49 L259.54 359.53 L260.21 359.58 L260.88 359.65 L261.55 359.73 L262.23 359.83 L262.91 359.95 L263.58 360.08 L264.26 360.22 L264.94 360.38 L265.62 360.55 L266.31 360.74 L266.99 360.93 L267.67 361.14 L268.36 361.36 L269.04 361.59 L269.72 361.82 L270.41 362.07 L271.09 362.33 L271.77 362.59 L272.46 362.87 L273.14 363.15 L273.82 363.44 L274.50 363.73 L275.17 364.03 L275.85 364.33 L276.52 364.64 L277.20 364.96 L277.87 365.27 L278.54 365.59 L279.20 365.92 L279.87 366.24 L280.53 366.57 L281.19 366.90 L281.84 367.23 L282.50 367.56 L283.15 367.89 L283.80 368.21 L284.44 368.54 L285.09 368.86 L285.73 369.18 L286.37 369.50 L287.02 369.81 L287.66 370.12 L288.30 370.42 L288.94 370.71 L289.58 371.00 L290.22 371.29 L290.86 371.56 L291.50 371.83 L292.15 372.09 L292.79 372.33 L293.44 372.57 L294.08 372.80 L294.73 373.02 L295.38 373.22 L296.03 373.41 L296.69 373.59 L297.35 373.76 L298.01 373.91 L298.67 374.04 L299.34 374.16 L300.01 374.27 L300.69 374.36 L301.36 374.43 L302.05 374.48 L302.73 374.52 L303.43 374.53 L304.12 374.53 L304.82 374.51 L305.53 374.47 L306.23 374.40 L306.93 374.32 L307.63 374.21 L308.33 374.08 L309.03 373.93 L309.72 373.76 L310.40 373.56 L311.08 373.35 L311.75 373.10 L312.40 372.84 L313.05 372.55 L313.68 372.23 L314.30 371.89 L314.91 371.52 L315.49 371.13 L316.06 370.71 L316.61 370.27 L317.15 369.80 L317.67 369.31 L318.17 368.81 L318.67 368.29 L319.17 367.77 L319.66 367.25 L320.16 366.74 L320.66 366.23 L321.16 365.73 L321.68 365.25 L322.21 364.79 L322.75 364.36 L323.31 363.94 L323.88 363.54 L324.45 363.17 L325.04 362.81 L325.64 362.47 L326.25 362.15 L326.86 361.86 L327.49 361.58 L328.12 361.32 L328.76 361.08 L329.41 360.86 L330.06 360.66 L330.72 360.47 L331.39 360.31 L332.06 360.16 L332.74 360.03 L333.42 359.92 L334.10 359.83 L334.79 359.75 L335.47 359.69 L336.17 359.65 L336.86 359.63 L337.55 359.62 L338.25 359.63 L338.94 359.66 L339.63 359.71 L340.33 359.77 L341.02 359.84 L341.71 359.93 L342.40 360.04 L343.08 360.17 L343.76 360.31 L344.44 360.46 L345.11 360.63 L345.78 360.82 L346.45 361.02 L347.11 361.23 L347.77 361.45 L348.42 361.69 L349.07 361.94 L349.72 362.19 L350.37 362.46 L351.02 362.74 L351.66 363.02 L352.30 363.31 L352.94 363.61 L353.58 363.92 L354.22 364.23 L354.86 364.55 L355.49 364.87 L356.13 365.20 L356.76 365.52 L357.40 365.85 L358.04 366.19 L358.68 366.52 L359.31 366.85 L359.95 367.19 L360.59 367.52 L361.24 367.85 L361.88 368.18 L362.53 368.50 L363.17 368.82 L363.82 369.14 L364.48 369.45 L365.13 369.76 L365.79 370.06 L366.45 370.35 L367.12 370.64 L367.79 370.91 L368.47 371.18 L369.14 371.44 L369.83 371.69 L370.51 371.93 L371.20 372.15 L371.89 372.37 L372.58 372.57 L373.28 372.76 L373.98 372.94 L374.68 373.11 L375.38 373.26 L376.08 373.40 L376.78 373.53 L377.48 373.64 L378.18 373.74 L378.88 373.82 L379.57 373.89 L380.27 373.94 L380.97 373.97 L381.66 373.99 L382.35 373.99 L383.04 373.97 L383.72 373.94 L384.40 373.89 L385.08 373.82 L385.75 373.73 L386.42 373.62 L387.08 373.49 L387.74 373.34 L388.39 373.17 L389.03 372.98 L389.67 372.77 L390.31 372.53 L390.93 372.28 L391.55 372.00 L392.16 371.70 L392.76 371.38 L393.35 371.03 L393.94 370.66 L394.51 370.27 L395.08 369.85 L395.63 369.40 L396.18 368.93 L396.71 368.44 L397.24 367.91 L397.75 367.37 L398.25 366.79 L398.74 366.19 L399.21 365.56 L399.68 364.90" fill="none" stroke="#f00" stroke-width="1.6"/><path d="M243.10 366.75H397.90" stroke="#7a7a7a" stroke-width="1.5" stroke-dasharray="5.6 2.65" style="mix-blend-mode:multiply"/><text class="sans" x="450.50" y="335.00" font-size="17.5" text-anchor="end">200</text><text class="sans" x="450.50" y="373.55" font-size="17.5" text-anchor="end">0</text><text class="sans" x="450.50" y="412.50" font-size="17.5" text-anchor="end">−200</text><text x="236.20" y="429.70" font-size="19.4" textLength="34.2" lengthAdjust="spacing">180°</text><text x="326.35" y="429.70" font-size="19.4" font-style="italic" text-anchor="middle">θ</text><text x="393.70" y="429.70" font-size="19.4">0°</text><path d="M487.94 177.50V181.10M487.94 258.60V262.20M496.58 177.50V181.10M496.58 258.60V262.20M505.22 177.50V181.10M505.22 258.60V262.20M513.86 177.50V181.10M513.86 258.60V262.20M522.49 177.50V181.10M522.49 258.60V262.20M531.13 177.50V181.10M531.13 258.60V262.20M539.77 177.50V181.10M539.77 258.60V262.20M548.41 177.50V181.10M548.41 258.60V262.20M557.05 177.50V181.10M557.05 258.60V262.20M565.69 177.50V181.10M565.69 258.60V262.20M574.33 177.50V181.10M574.33 258.60V262.20M582.97 177.50V181.10M582.97 258.60V262.20M591.61 177.50V181.10M591.61 258.60V262.20M600.24 177.50V181.10M600.24 258.60V262.20M608.88 177.50V181.10M608.88 258.60V262.20M617.52 177.50V181.10M617.52 258.60V262.20M626.16 177.50V181.10M626.16 258.60V262.20M479.30 174.10V181.10M479.30 258.60V265.60M634.80 174.10V181.10M634.80 258.60V265.60M475.70 188.85H479.30M634.80 188.85H638.40M475.70 196.60H479.30M634.80 196.60H638.40M475.70 204.35H479.30M634.80 204.35H638.40M475.70 212.10H479.30M634.80 212.10H638.40M475.70 219.85H479.30M634.80 219.85H638.40M475.70 227.60H479.30M634.80 227.60H638.40M475.70 235.35H479.30M634.80 235.35H638.40M475.70 243.10H479.30M634.80 243.10H638.40M475.70 250.85H479.30M634.80 250.85H638.40M472.30 181.10H479.30M634.80 181.10H641.80M472.30 258.60H479.30M634.80 258.60H641.80" stroke="#222" stroke-width="1" fill="none"/><rect x="479.30" y="181.10" width="155.50" height="77.50" fill="none" stroke="#000" stroke-width="2"/><clipPath id="cm2"><rect x="479.30" y="180.10" width="155.50" height="79.50"/></clipPath><g clip-path="url(#cm2)" fill="none" stroke="#f00" stroke-width="1.6"><path d="M479.34 253.12 L479.71 252.52 L480.08 251.92 L480.46 251.32 L480.84 250.72 L481.23 250.13 L481.61 249.54 L482.00 248.95 L482.39 248.36 L482.79 247.77 L483.19 247.18 L483.58 246.59 L483.98 246.01 L484.39 245.42 L484.79 244.84 L485.20 244.25 L485.60 243.67 L486.01 243.09 L486.42 242.51 L486.83 241.92 L487.24 241.34 L487.65 240.76 L488.06 240.18 L488.48 239.60 L488.89 239.02 L489.30 238.44 L489.71 237.85 L490.12 237.27 L490.54 236.69 L490.95 236.11 L491.36 235.53 L491.77 234.94 L492.17 234.36 L492.58 233.78 L492.99 233.19 L493.39 232.61 L493.79 232.02 L494.19 231.43 L494.59 230.84 L494.99 230.25 L495.38 229.66 L495.78 229.07 L496.16 228.48 L496.55 227.88 L496.94 227.28 L497.32 226.69 L497.69 226.09 L498.07 225.49 L498.44 224.88 L498.81 224.28 L499.17 223.67 L499.53 223.06 L499.88 222.45 L500.24 221.84 L500.58 221.23 L500.93 220.61 L501.26 219.99 L501.60 219.37 L501.92 218.74 L502.25 218.12 L502.57 217.49 L502.88 216.85 L503.19 216.22 L503.49 215.58 L503.78 214.94 L504.08 214.30 L504.36 213.65 L504.64 213.01 L504.92 212.36 L505.19 211.71 L505.46 211.05 L505.72 210.39 L505.98 209.74 L506.23 209.08 L506.48 208.41 L506.72 207.75 L506.96 207.08 L507.20 206.41 L507.42 205.74 L507.65 205.07 L507.87 204.40 L508.09 203.72 L508.30 203.05 L508.51 202.37 L508.71 201.69 L508.91 201.00 L509.11 200.32 L509.30 199.64 L509.49 198.95 L509.67 198.26 L509.85 197.57 L510.03 196.88 L510.20 196.19 L510.37 195.50 L510.54 194.81 L510.70 194.11 L510.86 193.42 L511.01 192.72 L511.16 192.03 L511.31 191.33 L511.45 190.63 L511.60 189.93 L511.73 189.23 L511.87 188.53 L512.00 187.83 L512.13 187.12 L512.25 186.42 L512.38 185.72 L512.50 185.02 L512.61 184.31 L512.73 183.61 L512.84 182.90 L512.95 182.20 L513.05 181.49 L513.15 180.79 L513.25 180.08 L513.35 179.38 L513.45 178.67 L513.54 177.97"/><path d="M522.17 178.02 L522.26 178.71 L522.35 179.40 L522.43 180.09 L522.53 180.79 L522.62 181.48 L522.71 182.17 L522.81 182.87 L522.91 183.56 L523.01 184.25 L523.12 184.95 L523.22 185.64 L523.33 186.34 L523.44 187.03 L523.56 187.73 L523.68 188.42 L523.80 189.12 L523.92 189.82 L524.04 190.51 L524.17 191.20 L524.31 191.90 L524.44 192.59 L524.58 193.29 L524.72 193.98 L524.87 194.67 L525.02 195.36 L525.17 196.05 L525.33 196.74 L525.49 197.43 L525.65 198.12 L525.82 198.81 L525.99 199.50 L526.17 200.18 L526.35 200.86 L526.53 201.55 L526.72 202.23 L526.91 202.91 L527.11 203.59 L527.31 204.26 L527.52 204.94 L527.73 205.61 L527.94 206.28 L528.16 206.95 L528.39 207.62 L528.62 208.29 L528.85 208.95 L529.09 209.61 L529.34 210.27 L529.59 210.93 L529.84 211.58 L530.10 212.24 L530.37 212.89 L530.64 213.54 L530.92 214.18 L531.20 214.82 L531.49 215.46 L531.78 216.10 L532.08 216.74 L532.39 217.37 L532.70 218.00 L533.02 218.62 L533.35 219.25 L533.68 219.86 L534.01 220.48 L534.36 221.09 L534.71 221.70 L535.06 222.31 L535.42 222.91 L535.79 223.51 L536.17 224.11 L536.55 224.70 L536.94 225.29 L537.34 225.87 L537.74 226.45 L538.15 227.03 L538.57 227.60 L539.00 228.17 L539.43 228.73 L539.86 229.30 L540.29 229.86 L540.72 230.42 L541.15 230.99 L541.56 231.56 L541.96 232.13 L542.34 232.71 L542.71 233.30 L543.06 233.89 L543.38 234.49 L543.70 235.10 L543.99 235.72 L544.28 236.35 L544.56 236.98 L544.83 237.62 L545.09 238.27 L545.35 238.93 L545.60 239.59 L545.86 240.26 L546.12 240.93 L546.39 241.61 L546.66 242.30 L546.94 242.99 L547.23 243.67 L547.53 244.36 L547.86 245.03 L548.20 245.69 L548.56 246.34 L548.95 246.97 L549.36 247.57 L549.80 248.15 L550.28 248.70 L550.78 249.21 L551.32 249.66 L551.88 250.04 L552.45 250.33 L553.04 250.50 L553.64 250.55 L554.24 250.48 L554.83 250.33 L555.43 250.10 L556.02 249.82 L556.60 249.51 L557.17 249.17 L557.73 248.79 L558.29 248.39 L558.84 247.97 L559.38 247.52 L559.92 247.05 L560.46 246.57 L560.99 246.08 L561.52 245.57 L562.05 245.05 L562.58 244.53 L563.10 244.00 L563.63 243.48 L564.16 242.95 L564.69 242.43 L565.22 241.92 L565.75 241.42 L566.29 240.93 L566.83 240.46 L567.38 240.01 L567.93 239.57 L568.48 239.14 L569.03 238.73 L569.57 238.31 L570.10 237.89 L570.62 237.46 L571.12 237.01 L571.60 236.55 L572.05 236.06 L572.48 235.54 L572.88 234.99 L573.26 234.42 L573.62 233.82 L573.96 233.21 L574.29 232.58 L574.60 231.93 L574.91 231.28 L575.22 230.62 L575.52 229.95 L575.82 229.28 L576.12 228.62 L576.44 227.96 L576.76 227.30 L577.09 226.66 L577.43 226.02 L577.78 225.40 L578.14 224.78 L578.51 224.17 L578.88 223.56 L579.26 222.96 L579.64 222.36 L580.02 221.77 L580.41 221.18 L580.79 220.59 L581.17 220.00 L581.55 219.40 L581.92 218.81 L582.29 218.22 L582.66 217.62 L583.01 217.02 L583.36 216.41 L583.71 215.80 L584.04 215.19 L584.37 214.57 L584.69 213.95 L585.00 213.32 L585.31 212.69 L585.61 212.06 L585.90 211.42 L586.19 210.78 L586.47 210.14 L586.75 209.50 L587.01 208.85 L587.28 208.20 L587.53 207.55 L587.78 206.89 L588.03 206.23 L588.26 205.57 L588.50 204.90 L588.72 204.24 L588.94 203.57 L589.16 202.90 L589.37 202.23 L589.57 201.55 L589.77 200.87 L589.96 200.20 L590.15 199.51 L590.34 198.83 L590.51 198.15 L590.69 197.46 L590.86 196.78 L591.02 196.09 L591.18 195.40 L591.33 194.71 L591.48 194.02 L591.63 193.32 L591.77 192.63 L591.91 191.94 L592.04 191.24 L592.17 190.55 L592.29 189.85 L592.42 189.15 L592.53 188.46 L592.64 187.76 L592.75 187.06 L592.86 186.36 L592.96 185.67 L593.06 184.97 L593.16 184.27 L593.25 183.57 L593.34 182.88 L593.42 182.18 L593.50 181.48 L593.58 180.79 L593.66 180.09 L593.73 179.40 L593.80 178.70 L593.87 178.01"/><path d="M600.22 177.99 L600.26 178.70 L600.31 179.41 L600.37 180.12 L600.43 180.83 L600.49 181.54 L600.56 182.25 L600.63 182.95 L600.71 183.66 L600.79 184.37 L600.88 185.08 L600.97 185.78 L601.07 186.49 L601.17 187.19 L601.28 187.89 L601.39 188.60 L601.51 189.30 L601.63 190.00 L601.75 190.70 L601.88 191.40 L602.02 192.10 L602.16 192.80 L602.30 193.50 L602.45 194.19 L602.60 194.89 L602.76 195.58 L602.92 196.27 L603.09 196.96 L603.27 197.65 L603.44 198.34 L603.62 199.03 L603.81 199.72 L604.00 200.40 L604.20 201.09 L604.40 201.77 L604.60 202.45 L604.81 203.13 L605.03 203.81 L605.25 204.48 L605.47 205.16 L605.70 205.83 L605.93 206.50 L606.17 207.17 L606.41 207.84 L606.66 208.50 L606.91 209.17 L607.17 209.83 L607.43 210.49 L607.70 211.15 L607.97 211.80 L608.24 212.46 L608.52 213.11 L608.80 213.76 L609.09 214.41 L609.38 215.05 L609.68 215.70 L609.98 216.34 L610.29 216.98 L610.60 217.61 L610.92 218.25 L611.24 218.88 L611.56 219.51 L611.89 220.14 L612.23 220.76 L612.57 221.38 L612.91 222.00 L613.26 222.62 L613.61 223.24 L613.97 223.85 L614.33 224.46 L614.70 225.06 L615.07 225.67 L615.44 226.27 L615.82 226.86 L616.20 227.46 L616.59 228.05 L616.99 228.64 L617.38 229.23 L617.78 229.81 L618.19 230.39 L618.59 230.97 L619.00 231.55 L619.41 232.13 L619.83 232.71 L620.24 233.28 L620.65 233.86 L621.06 234.44 L621.48 235.01 L621.89 235.59 L622.30 236.17 L622.70 236.75 L623.11 237.33 L623.51 237.92 L623.90 238.51 L624.30 239.10 L624.69 239.69 L625.07 240.29 L625.45 240.89 L625.82 241.49 L626.19 242.10 L626.56 242.71 L626.92 243.32 L627.28 243.93 L627.64 244.54 L628.00 245.15 L628.37 245.76 L628.74 246.37 L629.11 246.97 L629.48 247.57 L629.86 248.17 L630.25 248.76 L630.65 249.34 L631.06 249.92 L631.48 250.48 L631.91 251.04 L632.35 251.59 L632.82 252.12 L633.29 252.65 L633.79 253.15 L634.30 253.65 L634.84 254.13 L635.39 254.59 L635.97 255.04"/></g><text class="sans" x="648.60" y="188.20" font-size="17.5">0.2</text><text class="sans" x="648.40" y="265.60" font-size="17.5">0.0</text><text x="472.10" y="283.20" font-size="19.4" textLength="34.2" lengthAdjust="spacing">180°</text><text x="562.25" y="283.20" font-size="19.4" font-style="italic" text-anchor="middle">θ</text><text x="629.60" y="283.20" font-size="19.4">0°</text><path d="M487.94 324.40V328.00M487.94 405.10V408.70M496.58 324.40V328.00M496.58 405.10V408.70M505.22 324.40V328.00M505.22 405.10V408.70M513.86 324.40V328.00M513.86 405.10V408.70M522.49 324.40V328.00M522.49 405.10V408.70M531.13 324.40V328.00M531.13 405.10V408.70M539.77 324.40V328.00M539.77 405.10V408.70M548.41 324.40V328.00M548.41 405.10V408.70M557.05 324.40V328.00M557.05 405.10V408.70M565.69 324.40V328.00M565.69 405.10V408.70M574.33 324.40V328.00M574.33 405.10V408.70M582.97 324.40V328.00M582.97 405.10V408.70M591.61 324.40V328.00M591.61 405.10V408.70M600.24 324.40V328.00M600.24 405.10V408.70M608.88 324.40V328.00M608.88 405.10V408.70M617.52 324.40V328.00M617.52 405.10V408.70M626.16 324.40V328.00M626.16 405.10V408.70M479.30 321.00V328.00M479.30 405.10V412.10M634.80 321.00V328.00M634.80 405.10V412.10M475.70 331.86H479.30M634.80 331.86H638.40M475.70 335.71H479.30M634.80 335.71H638.40M475.70 339.56H479.30M634.80 339.56H638.40M475.70 343.42H479.30M634.80 343.42H638.40M475.70 347.27H479.30M634.80 347.27H638.40M475.70 351.13H479.30M634.80 351.13H638.40M475.70 354.99H479.30M634.80 354.99H638.40M475.70 358.84H479.30M634.80 358.84H638.40M475.70 362.69H479.30M634.80 362.69H638.40M475.70 370.41H479.30M634.80 370.41H638.40M475.70 374.26H479.30M634.80 374.26H638.40M475.70 378.12H479.30M634.80 378.12H638.40M475.70 381.97H479.30M634.80 381.97H638.40M475.70 385.83H479.30M634.80 385.83H638.40M475.70 389.68H479.30M634.80 389.68H638.40M475.70 393.54H479.30M634.80 393.54H638.40M475.70 397.39H479.30M634.80 397.39H638.40M475.70 401.25H479.30M634.80 401.25H638.40M472.30 328.00H479.30M634.80 328.00H641.80M472.30 366.55H479.30M634.80 366.55H641.80M472.30 405.10H479.30M634.80 405.10H641.80" stroke="#222" stroke-width="1" fill="none"/><rect x="479.30" y="328.00" width="155.50" height="77.10" fill="none" stroke="#000" stroke-width="2"/><clipPath id="cb2"><rect x="479.30" y="327.00" width="155.50" height="79.10"/></clipPath><path clip-path="url(#cb2)" d="M479.00 366.25 L479.70 366.19 L480.40 366.13 L481.11 366.07 L481.81 366.01 L482.51 365.96 L483.21 365.91 L483.91 365.86 L484.62 365.81 L485.32 365.77 L486.02 365.73 L486.73 365.69 L487.43 365.66 L488.13 365.63 L488.84 365.60 L489.54 365.57 L490.25 365.55 L490.95 365.53 L491.65 365.52 L492.36 365.51 L493.06 365.50 L493.77 365.50 L494.47 365.50 L495.17 365.51 L495.88 365.51 L496.58 365.52 L497.29 365.54 L497.99 365.56 L498.69 365.58 L499.40 365.61 L500.10 365.64 L500.81 365.67 L501.51 365.70 L502.21 365.74 L502.92 365.78 L503.62 365.83 L504.32 365.88 L505.02 365.92 L505.73 365.98 L506.43 366.03 L507.13 366.09 L507.83 366.15 L508.53 366.21 L509.24 366.27 L509.94 366.33 L510.64 366.39 L511.34 366.46 L512.04 366.53 L512.74 366.59 L513.44 366.66 L514.14 366.73 L514.84 366.80 L515.55 366.86 L516.25 366.93 L516.95 367.00 L517.65 367.06 L518.35 367.13 L519.05 367.19 L519.75 367.25 L520.45 367.31 L521.16 367.37 L521.86 367.43 L522.56 367.49 L523.26 367.54 L523.96 367.59 L524.67 367.64 L525.37 367.69 L526.07 367.73 L526.78 367.77 L527.48 367.81 L528.18 367.84 L528.89 367.87 L529.59 367.90 L530.29 367.93 L531.00 367.95 L531.70 367.97 L532.41 367.98 L533.11 367.99 L533.81 368.00 L534.52 368.00 L535.22 368.00 L535.93 367.99 L536.63 367.99 L537.34 367.98 L538.04 367.96 L538.74 367.94 L539.45 367.92 L540.15 367.89 L540.86 367.86 L541.56 367.83 L542.26 367.80 L542.97 367.76 L543.67 367.72 L544.37 367.67 L545.07 367.62 L545.78 367.57 L546.48 367.52 L547.18 367.47 L547.88 367.41 L548.58 367.35 L549.29 367.29 L549.99 367.23 L550.69 367.17 L551.39 367.10 L552.09 367.04 L552.79 366.97 L553.49 366.91 L554.20 366.84 L554.90 366.77 L555.60 366.70 L556.30 366.64 L557.00 366.57 L557.70 366.50 L558.40 366.44 L559.10 366.37 L559.80 366.31 L560.51 366.25 L561.21 366.19 L561.91 366.13 L562.61 366.07 L563.31 366.01 L564.02 365.96 L564.72 365.91 L565.42 365.86 L566.12 365.81 L566.83 365.77 L567.53 365.73 L568.23 365.69 L568.94 365.66 L569.64 365.63 L570.34 365.60 L571.05 365.57 L571.75 365.55 L572.45 365.53 L573.16 365.52 L573.86 365.51 L574.57 365.50 L575.27 365.50 L575.98 365.50 L576.68 365.51 L577.38 365.51 L578.09 365.52 L578.79 365.54 L579.50 365.56 L580.20 365.58 L580.90 365.61 L581.61 365.64 L582.31 365.67 L583.01 365.70 L583.72 365.74 L584.42 365.78 L585.12 365.83 L585.83 365.88 L586.53 365.93 L587.23 365.98 L587.93 366.03 L588.64 366.09 L589.34 366.15 L590.04 366.21 L590.74 366.27 L591.44 366.33 L592.14 366.40 L592.84 366.46 L593.55 366.53 L594.25 366.59 L594.95 366.66 L595.65 366.73 L596.35 366.80 L597.05 366.86 L597.75 366.93 L598.45 367.00 L599.15 367.06 L599.86 367.13 L600.56 367.19 L601.26 367.25 L601.96 367.32 L602.66 367.37 L603.36 367.43 L604.07 367.49 L604.77 367.54 L605.47 367.59 L606.17 367.64 L606.88 367.69 L607.58 367.73 L608.28 367.77 L608.99 367.81 L609.69 367.84 L610.39 367.87 L611.10 367.90 L611.80 367.93 L612.50 367.95 L613.21 367.97 L613.91 367.98 L614.62 367.99 L615.32 368.00 L616.02 368.00 L616.73 368.00 L617.43 367.99 L618.14 367.99 L618.84 367.98 L619.55 367.96 L620.25 367.94 L620.95 367.92 L621.66 367.89 L622.36 367.86 L623.06 367.83 L623.77 367.80 L624.47 367.76 L625.17 367.72 L625.88 367.67 L626.58 367.62 L627.28 367.57 L627.98 367.52 L628.69 367.47 L629.39 367.41 L630.09 367.35 L630.79 367.29 L631.49 367.23 L632.20 367.17 L632.90 367.10 L633.60 367.04 L634.30 366.97 L635.00 366.91" fill="none" stroke="#f00" stroke-width="1.6"/><path d="M479.00 366.75H633.80" stroke="#7a7a7a" stroke-width="1.5" stroke-dasharray="5.6 2.65" style="mix-blend-mode:multiply"/><text class="sans" x="686.40" y="335.00" font-size="17.5" text-anchor="end">200</text><text class="sans" x="686.40" y="373.55" font-size="17.5" text-anchor="end">0</text><text class="sans" x="686.40" y="412.50" font-size="17.5" text-anchor="end">−200</text><text x="472.10" y="429.70" font-size="19.4" textLength="34.2" lengthAdjust="spacing">180°</text><text x="562.25" y="429.70" font-size="19.4" font-style="italic" text-anchor="middle">θ</text><text x="629.60" y="429.70" font-size="19.4">0°</text>
</g></svg>
</body></html>
